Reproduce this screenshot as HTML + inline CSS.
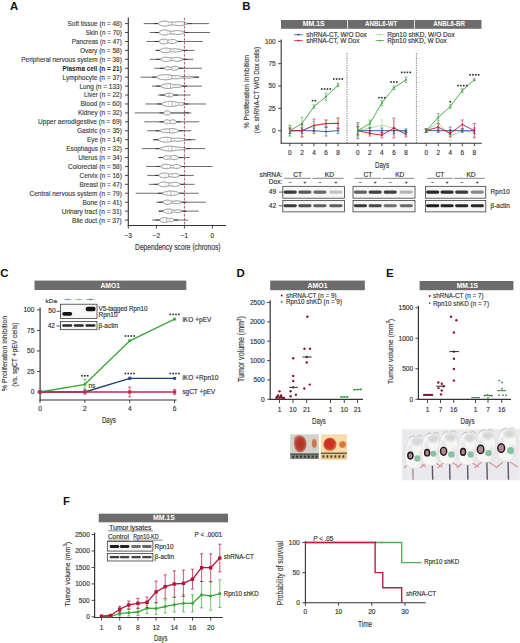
<!DOCTYPE html>
<html><head><meta charset="utf-8"><style>
html,body{margin:0;padding:0;background:#fff;width:520px;height:643px;overflow:hidden}
svg{display:block}
text{font-family:"Liberation Sans", sans-serif}
</style></head><body>
<svg width="520" height="643" viewBox="0 0 520 643">
<defs>
<filter id="blur03"><feGaussianBlur stdDeviation="0.3"/></filter>
<filter id="blur05"><feGaussianBlur stdDeviation="0.5"/></filter>
<filter id="blur06"><feGaussianBlur stdDeviation="0.6"/></filter>
<filter id="blur08"><feGaussianBlur stdDeviation="0.8"/></filter>
</defs>
<rect width="520" height="643" fill="#fff"/>
<text x="10.00" y="9.60" font-size="11.4" text-anchor="start" fill="#111" font-weight="bold">A</text>
<text x="121.80" y="26.05" font-size="6.9" text-anchor="end" fill="#444" font-weight="normal" textLength="54.30" lengthAdjust="spacingAndGlyphs" stroke="#444" stroke-width="0.16">Soft tissue (n = 48)</text>
<line x1="125.00" y1="23.60" x2="128.30" y2="23.60" stroke="#333" stroke-width="0.9"/>
<line x1="143.70" y1="23.60" x2="209.00" y2="23.60" stroke="#3a3a3a" stroke-width="0.75"/>
<line x1="154.00" y1="23.60" x2="158.00" y2="23.60" stroke="#3a3a3a" stroke-width="1.0"/>
<line x1="187.60" y1="23.60" x2="191.60" y2="23.60" stroke="#3a3a3a" stroke-width="1.0"/>
<path d="M158.00,23.60 L158.37,23.06 L158.74,22.93 L159.11,22.64 L159.48,22.41 L159.85,22.20 L160.22,22.02 L160.59,21.86 L160.96,21.71 L161.33,21.58 L161.70,21.47 L162.07,21.36 L162.44,21.28 L162.81,21.21 L163.18,21.15 L163.55,21.10 L163.92,21.06 L164.29,21.04 L164.66,21.03 L165.03,21.04 L165.40,21.05 L165.77,21.08 L166.14,21.12 L166.51,21.17 L166.88,21.24 L167.25,21.32 L167.62,21.41 L167.99,21.52 L168.36,21.65 L168.73,21.78 L169.10,21.92 L169.47,22.03 L169.84,22.11 L170.21,22.16 L170.58,22.17 L170.95,22.17 L171.32,22.17 L171.69,22.17 L172.06,22.17 L172.43,22.17 L172.80,22.17 L173.17,22.17 L173.54,22.17 L173.91,22.17 L174.28,22.14 L174.65,22.10 L175.02,22.05 L175.39,21.99 L175.76,21.92 L176.13,21.86 L176.50,21.81 L176.87,21.77 L177.24,21.73 L177.61,21.69 L177.98,21.67 L178.35,21.65 L178.72,21.64 L179.09,21.63 L179.46,21.63 L179.83,21.63 L180.20,21.65 L180.57,21.67 L180.94,21.69 L181.31,21.72 L181.68,21.76 L182.05,21.80 L182.42,21.86 L182.79,21.91 L183.16,21.98 L183.53,22.05 L183.90,22.13 L184.27,22.22 L184.64,22.32 L185.01,22.43 L185.38,22.54 L185.75,22.67 L186.12,22.81 L186.49,22.97 L186.86,23.16 L187.23,23.25 L187.60,23.60 L187.60,23.60 L187.23,23.95 L186.86,24.04 L186.49,24.23 L186.12,24.39 L185.75,24.53 L185.38,24.66 L185.01,24.77 L184.64,24.88 L184.27,24.98 L183.90,25.07 L183.53,25.15 L183.16,25.22 L182.79,25.29 L182.42,25.34 L182.05,25.40 L181.68,25.44 L181.31,25.48 L180.94,25.51 L180.57,25.53 L180.20,25.55 L179.83,25.57 L179.46,25.57 L179.09,25.57 L178.72,25.56 L178.35,25.55 L177.98,25.53 L177.61,25.51 L177.24,25.47 L176.87,25.43 L176.50,25.39 L176.13,25.34 L175.76,25.28 L175.39,25.21 L175.02,25.15 L174.65,25.10 L174.28,25.06 L173.91,25.03 L173.54,25.03 L173.17,25.03 L172.80,25.03 L172.43,25.03 L172.06,25.03 L171.69,25.03 L171.32,25.03 L170.95,25.03 L170.58,25.03 L170.21,25.04 L169.84,25.09 L169.47,25.17 L169.10,25.28 L168.73,25.42 L168.36,25.55 L167.99,25.68 L167.62,25.79 L167.25,25.88 L166.88,25.96 L166.51,26.03 L166.14,26.08 L165.77,26.12 L165.40,26.15 L165.03,26.16 L164.66,26.17 L164.29,26.16 L163.92,26.14 L163.55,26.10 L163.18,26.05 L162.81,25.99 L162.44,25.92 L162.07,25.84 L161.70,25.73 L161.33,25.62 L160.96,25.49 L160.59,25.34 L160.22,25.18 L159.85,25.00 L159.48,24.79 L159.11,24.56 L158.74,24.27 L158.37,24.14 L158.00,23.60 Z" fill="#fff" stroke="#4a4a4a" stroke-width="0.6"/>
<line x1="171.82" y1="22.47" x2="171.82" y2="24.73" stroke="#666" stroke-width="0.5"/>
<line x1="168.32" y1="22.43" x2="168.32" y2="24.77" stroke="#aaa" stroke-width="0.4"/>
<line x1="175.32" y1="22.63" x2="175.32" y2="24.57" stroke="#aaa" stroke-width="0.4"/>
<text x="121.80" y="34.98" font-size="6.9" text-anchor="end" fill="#444" font-weight="normal" textLength="36.05" lengthAdjust="spacingAndGlyphs" stroke="#444" stroke-width="0.16">Skin (n = 70)</text>
<line x1="125.00" y1="32.53" x2="128.30" y2="32.53" stroke="#333" stroke-width="0.9"/>
<line x1="149.60" y1="32.53" x2="210.00" y2="32.53" stroke="#3a3a3a" stroke-width="0.75"/>
<line x1="154.80" y1="32.53" x2="158.80" y2="32.53" stroke="#3a3a3a" stroke-width="1.0"/>
<line x1="184.70" y1="32.53" x2="188.70" y2="32.53" stroke="#3a3a3a" stroke-width="1.0"/>
<path d="M158.80,32.53 L159.12,31.99 L159.45,31.85 L159.77,31.57 L160.09,31.33 L160.42,31.12 L160.74,30.94 L161.07,30.78 L161.39,30.63 L161.71,30.50 L162.04,30.39 L162.36,30.29 L162.69,30.20 L163.01,30.13 L163.33,30.07 L163.66,30.02 L163.98,29.99 L164.30,29.97 L164.63,29.96 L164.95,29.97 L165.28,29.99 L165.60,30.02 L165.92,30.06 L166.25,30.12 L166.57,30.19 L166.89,30.27 L167.22,30.37 L167.54,30.48 L167.87,30.61 L168.19,30.76 L168.51,30.88 L168.84,30.98 L169.16,31.06 L169.48,31.10 L169.81,31.10 L170.13,31.10 L170.46,31.10 L170.78,31.10 L171.10,31.10 L171.43,31.10 L171.75,31.10 L172.07,31.10 L172.40,31.10 L172.72,31.09 L173.04,31.06 L173.37,31.02 L173.69,30.96 L174.02,30.89 L174.34,30.83 L174.66,30.77 L174.99,30.72 L175.31,30.68 L175.63,30.64 L175.96,30.62 L176.28,30.59 L176.61,30.57 L176.93,30.56 L177.25,30.56 L177.58,30.56 L177.90,30.57 L178.22,30.58 L178.55,30.60 L178.87,30.63 L179.20,30.66 L179.52,30.70 L179.84,30.74 L180.17,30.79 L180.49,30.85 L180.81,30.92 L181.14,30.99 L181.46,31.07 L181.79,31.16 L182.11,31.26 L182.43,31.36 L182.76,31.48 L183.08,31.61 L183.41,31.75 L183.73,31.90 L184.05,32.09 L184.38,32.18 L184.70,32.53 L184.70,32.53 L184.38,32.88 L184.05,32.97 L183.73,33.16 L183.41,33.31 L183.08,33.45 L182.76,33.58 L182.43,33.70 L182.11,33.80 L181.79,33.90 L181.46,33.99 L181.14,34.07 L180.81,34.14 L180.49,34.21 L180.17,34.27 L179.84,34.32 L179.52,34.36 L179.20,34.40 L178.87,34.43 L178.55,34.46 L178.22,34.48 L177.90,34.49 L177.58,34.50 L177.25,34.50 L176.93,34.50 L176.61,34.49 L176.28,34.47 L175.96,34.44 L175.63,34.42 L175.31,34.38 L174.99,34.34 L174.66,34.29 L174.34,34.23 L174.02,34.17 L173.69,34.10 L173.37,34.04 L173.04,34.00 L172.72,33.97 L172.40,33.96 L172.07,33.96 L171.75,33.96 L171.43,33.96 L171.10,33.96 L170.78,33.96 L170.46,33.96 L170.13,33.96 L169.81,33.96 L169.48,33.96 L169.16,34.00 L168.84,34.08 L168.51,34.18 L168.19,34.30 L167.87,34.45 L167.54,34.58 L167.22,34.69 L166.89,34.79 L166.57,34.87 L166.25,34.94 L165.92,35.00 L165.60,35.04 L165.28,35.07 L164.95,35.09 L164.63,35.10 L164.30,35.09 L163.98,35.07 L163.66,35.04 L163.33,34.99 L163.01,34.93 L162.69,34.86 L162.36,34.77 L162.04,34.67 L161.71,34.56 L161.39,34.43 L161.07,34.28 L160.74,34.12 L160.42,33.94 L160.09,33.73 L159.77,33.49 L159.45,33.21 L159.12,33.07 L158.80,32.53 Z" fill="#fff" stroke="#4a4a4a" stroke-width="0.6"/>
<line x1="170.88" y1="31.40" x2="170.88" y2="33.66" stroke="#666" stroke-width="0.5"/>
<line x1="167.38" y1="31.30" x2="167.38" y2="33.76" stroke="#aaa" stroke-width="0.4"/>
<line x1="174.38" y1="31.51" x2="174.38" y2="33.55" stroke="#aaa" stroke-width="0.4"/>
<text x="121.80" y="43.91" font-size="6.9" text-anchor="end" fill="#444" font-weight="normal" textLength="50.05" lengthAdjust="spacingAndGlyphs" stroke="#444" stroke-width="0.16">Pancreas (n = 47)</text>
<line x1="125.00" y1="41.46" x2="128.30" y2="41.46" stroke="#333" stroke-width="0.9"/>
<line x1="146.50" y1="41.46" x2="202.80" y2="41.46" stroke="#3a3a3a" stroke-width="0.75"/>
<line x1="154.80" y1="41.46" x2="158.80" y2="41.46" stroke="#3a3a3a" stroke-width="1.0"/>
<line x1="177.50" y1="41.46" x2="181.50" y2="41.46" stroke="#3a3a3a" stroke-width="1.0"/>
<path d="M158.80,41.46 L159.03,41.00 L159.27,40.89 L159.50,40.65 L159.74,40.44 L159.97,40.26 L160.20,40.10 L160.44,39.96 L160.67,39.82 L160.90,39.70 L161.14,39.60 L161.37,39.50 L161.61,39.41 L161.84,39.33 L162.07,39.27 L162.31,39.21 L162.54,39.16 L162.77,39.12 L163.01,39.09 L163.24,39.07 L163.48,39.06 L163.71,39.06 L163.94,39.07 L164.18,39.08 L164.41,39.11 L164.64,39.14 L164.88,39.19 L165.11,39.24 L165.34,39.30 L165.58,39.37 L165.81,39.45 L166.05,39.55 L166.28,39.65 L166.51,39.75 L166.75,39.84 L166.98,39.91 L167.22,39.95 L167.45,39.97 L167.68,39.97 L167.92,39.97 L168.15,39.97 L168.38,39.97 L168.62,39.97 L168.85,39.97 L169.09,39.97 L169.32,39.96 L169.55,39.93 L169.79,39.88 L170.02,39.82 L170.25,39.74 L170.49,39.68 L170.72,39.62 L170.96,39.56 L171.19,39.52 L171.42,39.48 L171.66,39.45 L171.89,39.43 L172.12,39.41 L172.36,39.40 L172.59,39.40 L172.82,39.41 L173.06,39.42 L173.29,39.44 L173.53,39.47 L173.76,39.51 L173.99,39.55 L174.23,39.60 L174.46,39.66 L174.69,39.73 L174.93,39.80 L175.16,39.89 L175.40,39.98 L175.63,40.08 L175.86,40.20 L176.10,40.32 L176.33,40.46 L176.56,40.61 L176.80,40.78 L177.03,40.98 L177.27,41.08 L177.50,41.46 L177.50,41.46 L177.27,41.84 L177.03,41.94 L176.80,42.14 L176.56,42.31 L176.33,42.46 L176.10,42.60 L175.86,42.72 L175.63,42.84 L175.40,42.94 L175.16,43.03 L174.93,43.12 L174.69,43.19 L174.46,43.26 L174.23,43.32 L173.99,43.37 L173.76,43.41 L173.53,43.45 L173.29,43.48 L173.06,43.50 L172.82,43.51 L172.59,43.52 L172.36,43.52 L172.12,43.51 L171.89,43.49 L171.66,43.47 L171.42,43.44 L171.19,43.40 L170.96,43.36 L170.72,43.30 L170.49,43.24 L170.25,43.18 L170.02,43.10 L169.79,43.04 L169.55,42.99 L169.32,42.96 L169.09,42.95 L168.85,42.95 L168.62,42.95 L168.38,42.95 L168.15,42.95 L167.92,42.95 L167.68,42.95 L167.45,42.95 L167.22,42.97 L166.98,43.01 L166.75,43.08 L166.51,43.17 L166.28,43.27 L166.05,43.37 L165.81,43.47 L165.58,43.55 L165.34,43.62 L165.11,43.68 L164.88,43.73 L164.64,43.78 L164.41,43.81 L164.18,43.84 L163.94,43.85 L163.71,43.86 L163.48,43.86 L163.24,43.85 L163.01,43.83 L162.77,43.80 L162.54,43.76 L162.31,43.71 L162.07,43.65 L161.84,43.59 L161.61,43.51 L161.37,43.42 L161.14,43.32 L160.90,43.22 L160.67,43.10 L160.44,42.96 L160.20,42.82 L159.97,42.66 L159.74,42.48 L159.50,42.27 L159.27,42.03 L159.03,41.92 L158.80,41.46 Z" fill="#fff" stroke="#4a4a4a" stroke-width="0.6"/>
<line x1="167.81" y1="40.27" x2="167.81" y2="42.65" stroke="#666" stroke-width="0.5"/>
<line x1="164.31" y1="40.05" x2="164.31" y2="42.87" stroke="#aaa" stroke-width="0.4"/>
<line x1="171.31" y1="40.27" x2="171.31" y2="42.65" stroke="#aaa" stroke-width="0.4"/>
<text x="121.80" y="52.84" font-size="6.9" text-anchor="end" fill="#444" font-weight="normal" textLength="41.80" lengthAdjust="spacingAndGlyphs" stroke="#444" stroke-width="0.16">Ovary (n = 58)</text>
<line x1="125.00" y1="50.39" x2="128.30" y2="50.39" stroke="#333" stroke-width="0.9"/>
<line x1="156.60" y1="50.39" x2="194.50" y2="50.39" stroke="#3a3a3a" stroke-width="0.75"/>
<line x1="155.50" y1="50.39" x2="159.50" y2="50.39" stroke="#3a3a3a" stroke-width="1.0"/>
<line x1="183.30" y1="50.39" x2="187.30" y2="50.39" stroke="#3a3a3a" stroke-width="1.0"/>
<path d="M159.50,50.39 L159.80,49.95 L160.09,49.84 L160.39,49.61 L160.69,49.42 L160.99,49.25 L161.28,49.09 L161.58,48.95 L161.88,48.82 L162.18,48.71 L162.47,48.60 L162.77,48.51 L163.07,48.43 L163.37,48.35 L163.66,48.29 L163.96,48.23 L164.26,48.18 L164.56,48.14 L164.85,48.11 L165.15,48.09 L165.45,48.08 L165.75,48.08 L166.05,48.08 L166.34,48.09 L166.64,48.11 L166.94,48.14 L167.24,48.18 L167.53,48.23 L167.83,48.29 L168.13,48.35 L168.43,48.42 L168.72,48.51 L169.02,48.60 L169.32,48.71 L169.62,48.82 L169.91,48.93 L170.21,49.01 L170.51,49.06 L170.81,49.07 L171.10,49.06 L171.40,49.02 L171.70,48.99 L172.00,48.96 L172.29,48.94 L172.59,48.92 L172.89,48.90 L173.19,48.88 L173.48,48.87 L173.78,48.86 L174.08,48.85 L174.38,48.85 L174.67,48.84 L174.97,48.85 L175.27,48.85 L175.56,48.86 L175.86,48.87 L176.16,48.88 L176.46,48.90 L176.75,48.92 L177.05,48.94 L177.35,48.97 L177.65,49.00 L177.95,49.03 L178.24,49.06 L178.54,49.10 L178.84,49.14 L179.14,49.19 L179.43,49.24 L179.73,49.29 L180.03,49.35 L180.33,49.41 L180.62,49.47 L180.92,49.54 L181.22,49.62 L181.52,49.70 L181.81,49.78 L182.11,49.88 L182.41,49.98 L182.71,50.10 L183.00,50.16 L183.30,50.39 L183.30,50.39 L183.00,50.62 L182.71,50.68 L182.41,50.80 L182.11,50.90 L181.81,51.00 L181.52,51.08 L181.22,51.16 L180.92,51.24 L180.62,51.31 L180.33,51.37 L180.03,51.43 L179.73,51.49 L179.43,51.54 L179.14,51.59 L178.84,51.64 L178.54,51.68 L178.24,51.72 L177.95,51.75 L177.65,51.78 L177.35,51.81 L177.05,51.84 L176.75,51.86 L176.46,51.88 L176.16,51.90 L175.86,51.91 L175.56,51.92 L175.27,51.93 L174.97,51.93 L174.67,51.94 L174.38,51.93 L174.08,51.93 L173.78,51.92 L173.48,51.91 L173.19,51.90 L172.89,51.88 L172.59,51.86 L172.29,51.84 L172.00,51.82 L171.70,51.79 L171.40,51.76 L171.10,51.72 L170.81,51.71 L170.51,51.72 L170.21,51.77 L169.91,51.85 L169.62,51.96 L169.32,52.07 L169.02,52.18 L168.72,52.27 L168.43,52.36 L168.13,52.43 L167.83,52.49 L167.53,52.55 L167.24,52.60 L166.94,52.64 L166.64,52.67 L166.34,52.69 L166.05,52.70 L165.75,52.70 L165.45,52.70 L165.15,52.69 L164.85,52.67 L164.56,52.64 L164.26,52.60 L163.96,52.55 L163.66,52.49 L163.37,52.43 L163.07,52.35 L162.77,52.27 L162.47,52.18 L162.18,52.07 L161.88,51.96 L161.58,51.83 L161.28,51.69 L160.99,51.53 L160.69,51.36 L160.39,51.17 L160.09,50.94 L159.80,50.83 L159.50,50.39 Z" fill="#fff" stroke="#4a4a4a" stroke-width="0.6"/>
<line x1="170.12" y1="49.31" x2="170.12" y2="51.47" stroke="#666" stroke-width="0.5"/>
<line x1="166.62" y1="49.02" x2="166.62" y2="51.76" stroke="#aaa" stroke-width="0.4"/>
<line x1="173.62" y1="49.48" x2="173.62" y2="51.30" stroke="#aaa" stroke-width="0.4"/>
<text x="121.80" y="61.77" font-size="6.9" text-anchor="end" fill="#444" font-weight="normal" textLength="100.55" lengthAdjust="spacingAndGlyphs" stroke="#444" stroke-width="0.16">Peripheral nervous system (n = 38)</text>
<line x1="125.00" y1="59.32" x2="128.30" y2="59.32" stroke="#333" stroke-width="0.9"/>
<line x1="150.00" y1="59.32" x2="193.40" y2="59.32" stroke="#3a3a3a" stroke-width="0.75"/>
<line x1="156.20" y1="59.32" x2="160.20" y2="59.32" stroke="#3a3a3a" stroke-width="1.0"/>
<line x1="183.30" y1="59.32" x2="187.30" y2="59.32" stroke="#3a3a3a" stroke-width="1.0"/>
<path d="M160.20,59.32 L160.49,58.89 L160.78,58.79 L161.07,58.56 L161.35,58.37 L161.64,58.21 L161.93,58.06 L162.22,57.93 L162.51,57.81 L162.80,57.70 L163.09,57.60 L163.38,57.52 L163.66,57.44 L163.95,57.38 L164.24,57.32 L164.53,57.27 L164.82,57.24 L165.11,57.21 L165.40,57.19 L165.69,57.18 L165.97,57.18 L166.26,57.19 L166.55,57.21 L166.84,57.23 L167.13,57.27 L167.42,57.31 L167.71,57.37 L168.00,57.43 L168.28,57.51 L168.57,57.59 L168.86,57.69 L169.15,57.76 L169.44,57.83 L169.73,57.87 L170.02,57.89 L170.31,57.89 L170.59,57.89 L170.88,57.89 L171.17,57.89 L171.46,57.89 L171.75,57.89 L172.04,57.89 L172.33,57.89 L172.62,57.89 L172.91,57.88 L173.19,57.84 L173.48,57.80 L173.77,57.74 L174.06,57.67 L174.35,57.60 L174.64,57.55 L174.93,57.50 L175.22,57.46 L175.50,57.42 L175.79,57.40 L176.08,57.37 L176.37,57.36 L176.66,57.35 L176.95,57.35 L177.24,57.35 L177.53,57.36 L177.81,57.38 L178.10,57.40 L178.39,57.44 L178.68,57.47 L178.97,57.52 L179.26,57.57 L179.55,57.62 L179.84,57.69 L180.12,57.76 L180.41,57.84 L180.70,57.93 L180.99,58.03 L181.28,58.14 L181.57,58.25 L181.86,58.38 L182.15,58.52 L182.43,58.68 L182.72,58.87 L183.01,58.96 L183.30,59.32 L183.30,59.32 L183.01,59.68 L182.72,59.77 L182.43,59.96 L182.15,60.12 L181.86,60.26 L181.57,60.39 L181.28,60.50 L180.99,60.61 L180.70,60.71 L180.41,60.80 L180.12,60.88 L179.84,60.95 L179.55,61.02 L179.26,61.07 L178.97,61.12 L178.68,61.17 L178.39,61.20 L178.10,61.24 L177.81,61.26 L177.53,61.28 L177.24,61.29 L176.95,61.29 L176.66,61.29 L176.37,61.28 L176.08,61.27 L175.79,61.24 L175.50,61.22 L175.22,61.18 L174.93,61.14 L174.64,61.09 L174.35,61.04 L174.06,60.97 L173.77,60.90 L173.48,60.84 L173.19,60.80 L172.91,60.76 L172.62,60.75 L172.33,60.75 L172.04,60.75 L171.75,60.75 L171.46,60.75 L171.17,60.75 L170.88,60.75 L170.59,60.75 L170.31,60.75 L170.02,60.75 L169.73,60.77 L169.44,60.81 L169.15,60.88 L168.86,60.95 L168.57,61.05 L168.28,61.13 L168.00,61.21 L167.71,61.27 L167.42,61.33 L167.13,61.37 L166.84,61.41 L166.55,61.43 L166.26,61.45 L165.97,61.46 L165.69,61.46 L165.40,61.45 L165.11,61.43 L164.82,61.40 L164.53,61.37 L164.24,61.32 L163.95,61.26 L163.66,61.20 L163.38,61.12 L163.09,61.04 L162.80,60.94 L162.51,60.83 L162.22,60.71 L161.93,60.58 L161.64,60.43 L161.35,60.27 L161.07,60.08 L160.78,59.85 L160.49,59.75 L160.20,59.32 Z" fill="#fff" stroke="#4a4a4a" stroke-width="0.6"/>
<line x1="171.48" y1="58.19" x2="171.48" y2="60.45" stroke="#666" stroke-width="0.5"/>
<line x1="167.98" y1="58.19" x2="167.98" y2="60.45" stroke="#aaa" stroke-width="0.4"/>
<line x1="174.98" y1="58.23" x2="174.98" y2="60.41" stroke="#aaa" stroke-width="0.4"/>
<text x="121.80" y="70.70" font-size="6.9" text-anchor="end" fill="#1a1a1a" font-weight="bold" textLength="59.30" lengthAdjust="spacingAndGlyphs">Plasma cell (n = 21)</text>
<line x1="125.00" y1="68.25" x2="128.30" y2="68.25" stroke="#333" stroke-width="0.9"/>
<line x1="154.40" y1="68.25" x2="202.00" y2="68.25" stroke="#3a3a3a" stroke-width="0.75"/>
<line x1="159.80" y1="68.25" x2="163.80" y2="68.25" stroke="#3a3a3a" stroke-width="1.0"/>
<line x1="179.00" y1="68.25" x2="183.00" y2="68.25" stroke="#3a3a3a" stroke-width="1.0"/>
<path d="M163.80,68.25 L163.99,67.95 L164.18,67.88 L164.37,67.72 L164.56,67.59 L164.75,67.47 L164.94,67.36 L165.13,67.27 L165.32,67.18 L165.51,67.11 L165.70,67.04 L165.89,66.97 L166.08,66.92 L166.27,66.87 L166.46,66.83 L166.65,66.79 L166.84,66.76 L167.03,66.74 L167.22,66.72 L167.41,66.71 L167.60,66.71 L167.79,66.71 L167.98,66.72 L168.17,66.73 L168.36,66.75 L168.55,66.78 L168.74,66.81 L168.93,66.85 L169.12,66.89 L169.31,66.94 L169.50,67.00 L169.69,67.05 L169.88,67.09 L170.07,67.12 L170.26,67.13 L170.45,67.13 L170.64,67.13 L170.83,67.13 L171.02,67.13 L171.21,67.13 L171.40,67.12 L171.59,67.07 L171.78,67.01 L171.97,66.93 L172.16,66.84 L172.35,66.74 L172.54,66.65 L172.73,66.58 L172.92,66.51 L173.11,66.44 L173.30,66.39 L173.49,66.34 L173.68,66.30 L173.87,66.26 L174.06,66.24 L174.25,66.22 L174.44,66.20 L174.63,66.19 L174.82,66.19 L175.01,66.20 L175.20,66.21 L175.39,66.23 L175.58,66.26 L175.77,66.29 L175.96,66.33 L176.15,66.37 L176.34,66.43 L176.53,66.49 L176.72,66.56 L176.91,66.63 L177.10,66.72 L177.29,66.81 L177.48,66.91 L177.67,67.02 L177.86,67.14 L178.05,67.28 L178.24,67.42 L178.43,67.59 L178.62,67.79 L178.81,67.88 L179.00,68.25 L179.00,68.25 L178.81,68.62 L178.62,68.71 L178.43,68.91 L178.24,69.08 L178.05,69.22 L177.86,69.36 L177.67,69.48 L177.48,69.59 L177.29,69.69 L177.10,69.78 L176.91,69.87 L176.72,69.94 L176.53,70.01 L176.34,70.07 L176.15,70.13 L175.96,70.17 L175.77,70.21 L175.58,70.24 L175.39,70.27 L175.20,70.29 L175.01,70.30 L174.82,70.31 L174.63,70.31 L174.44,70.30 L174.25,70.28 L174.06,70.26 L173.87,70.24 L173.68,70.20 L173.49,70.16 L173.30,70.11 L173.11,70.06 L172.92,69.99 L172.73,69.92 L172.54,69.85 L172.35,69.76 L172.16,69.66 L171.97,69.57 L171.78,69.49 L171.59,69.43 L171.40,69.38 L171.21,69.37 L171.02,69.37 L170.83,69.37 L170.64,69.37 L170.45,69.37 L170.26,69.37 L170.07,69.38 L169.88,69.41 L169.69,69.45 L169.50,69.50 L169.31,69.56 L169.12,69.61 L168.93,69.65 L168.74,69.69 L168.55,69.72 L168.36,69.75 L168.17,69.77 L167.98,69.78 L167.79,69.79 L167.60,69.79 L167.41,69.79 L167.22,69.78 L167.03,69.76 L166.84,69.74 L166.65,69.71 L166.46,69.67 L166.27,69.63 L166.08,69.58 L165.89,69.53 L165.70,69.46 L165.51,69.39 L165.32,69.32 L165.13,69.23 L164.94,69.14 L164.75,69.03 L164.56,68.91 L164.37,68.78 L164.18,68.62 L163.99,68.55 L163.80,68.25 Z" fill="#fff" stroke="#4a4a4a" stroke-width="0.6"/>
<line x1="171.87" y1="67.31" x2="171.87" y2="69.19" stroke="#666" stroke-width="0.5"/>
<line x1="168.37" y1="67.35" x2="168.37" y2="69.15" stroke="#aaa" stroke-width="0.4"/>
<line x1="175.37" y1="67.04" x2="175.37" y2="69.46" stroke="#aaa" stroke-width="0.4"/>
<text x="121.80" y="79.63" font-size="6.9" text-anchor="end" fill="#444" font-weight="normal" textLength="59.30" lengthAdjust="spacingAndGlyphs" stroke="#444" stroke-width="0.16">Lymphocyte (n = 37)</text>
<line x1="125.00" y1="77.18" x2="128.30" y2="77.18" stroke="#333" stroke-width="0.9"/>
<line x1="140.70" y1="77.18" x2="199.20" y2="77.18" stroke="#3a3a3a" stroke-width="0.75"/>
<line x1="151.90" y1="77.18" x2="155.90" y2="77.18" stroke="#3a3a3a" stroke-width="1.0"/>
<line x1="194.80" y1="77.18" x2="198.80" y2="77.18" stroke="#3a3a3a" stroke-width="1.0"/>
<path d="M155.90,77.18 L156.39,76.67 L156.87,76.54 L157.36,76.27 L157.84,76.05 L158.33,75.85 L158.82,75.67 L159.30,75.51 L159.79,75.37 L160.28,75.24 L160.76,75.12 L161.25,75.02 L161.74,74.93 L162.22,74.85 L162.71,74.78 L163.19,74.73 L163.68,74.68 L164.17,74.65 L164.65,74.63 L165.14,74.61 L165.62,74.61 L166.11,74.62 L166.60,74.64 L167.08,74.67 L167.57,74.71 L168.06,74.77 L168.54,74.83 L169.03,74.91 L169.52,74.99 L170.00,75.09 L170.49,75.21 L170.97,75.33 L171.46,75.47 L171.95,75.58 L172.43,75.64 L172.92,75.68 L173.41,75.67 L173.89,75.63 L174.38,75.59 L174.86,75.57 L175.35,75.56 L175.84,75.56 L176.32,75.57 L176.81,75.59 L177.30,75.62 L177.78,75.66 L178.27,75.71 L178.75,75.78 L179.24,75.85 L179.73,75.94 L180.21,76.04 L180.70,76.16 L181.19,76.28 L181.67,76.37 L182.16,76.44 L182.64,76.48 L183.13,76.50 L183.62,76.50 L184.10,76.50 L184.59,76.48 L185.08,76.46 L185.56,76.42 L186.05,76.38 L186.53,76.33 L187.02,76.30 L187.51,76.27 L187.99,76.25 L188.48,76.24 L188.97,76.25 L189.45,76.26 L189.94,76.28 L190.42,76.31 L190.91,76.35 L191.40,76.40 L191.88,76.46 L192.37,76.54 L192.86,76.62 L193.34,76.73 L193.83,76.86 L194.31,76.92 L194.80,77.18 L194.80,77.18 L194.31,77.44 L193.83,77.50 L193.34,77.63 L192.86,77.74 L192.37,77.82 L191.88,77.90 L191.40,77.96 L190.91,78.01 L190.42,78.05 L189.94,78.08 L189.45,78.10 L188.97,78.11 L188.48,78.12 L187.99,78.11 L187.51,78.09 L187.02,78.06 L186.53,78.03 L186.05,77.98 L185.56,77.94 L185.08,77.90 L184.59,77.88 L184.10,77.86 L183.62,77.86 L183.13,77.86 L182.64,77.88 L182.16,77.92 L181.67,77.99 L181.19,78.08 L180.70,78.20 L180.21,78.32 L179.73,78.42 L179.24,78.51 L178.75,78.58 L178.27,78.65 L177.78,78.70 L177.30,78.74 L176.81,78.77 L176.32,78.79 L175.84,78.80 L175.35,78.80 L174.86,78.79 L174.38,78.77 L173.89,78.73 L173.41,78.69 L172.92,78.68 L172.43,78.72 L171.95,78.78 L171.46,78.89 L170.97,79.03 L170.49,79.15 L170.00,79.27 L169.52,79.37 L169.03,79.45 L168.54,79.53 L168.06,79.59 L167.57,79.65 L167.08,79.69 L166.60,79.72 L166.11,79.74 L165.62,79.75 L165.14,79.75 L164.65,79.73 L164.17,79.71 L163.68,79.68 L163.19,79.63 L162.71,79.58 L162.22,79.51 L161.74,79.43 L161.25,79.34 L160.76,79.24 L160.28,79.12 L159.79,78.99 L159.30,78.85 L158.82,78.69 L158.33,78.51 L157.84,78.31 L157.36,78.09 L156.87,77.82 L156.39,77.69 L155.90,77.18 Z" fill="#fff" stroke="#4a4a4a" stroke-width="0.6"/>
<line x1="171.68" y1="75.77" x2="171.68" y2="78.59" stroke="#666" stroke-width="0.5"/>
<line x1="168.18" y1="75.73" x2="168.18" y2="78.63" stroke="#aaa" stroke-width="0.4"/>
<line x1="175.18" y1="76.21" x2="175.18" y2="78.15" stroke="#aaa" stroke-width="0.4"/>
<text x="121.80" y="88.56" font-size="6.9" text-anchor="end" fill="#444" font-weight="normal" textLength="42.30" lengthAdjust="spacingAndGlyphs" stroke="#444" stroke-width="0.16">Lung (n = 133)</text>
<line x1="125.00" y1="86.11" x2="128.30" y2="86.11" stroke="#333" stroke-width="0.9"/>
<line x1="152.00" y1="86.11" x2="201.90" y2="86.11" stroke="#3a3a3a" stroke-width="0.75"/>
<line x1="156.20" y1="86.11" x2="160.20" y2="86.11" stroke="#3a3a3a" stroke-width="1.0"/>
<line x1="183.00" y1="86.11" x2="187.00" y2="86.11" stroke="#3a3a3a" stroke-width="1.0"/>
<path d="M160.20,86.11 L160.48,85.74 L160.77,85.65 L161.05,85.45 L161.34,85.28 L161.62,85.13 L161.91,85.00 L162.19,84.87 L162.48,84.75 L162.76,84.64 L163.05,84.54 L163.33,84.44 L163.62,84.35 L163.91,84.27 L164.19,84.19 L164.47,84.12 L164.76,84.06 L165.04,84.00 L165.33,83.95 L165.61,83.90 L165.90,83.86 L166.19,83.82 L166.47,83.79 L166.75,83.76 L167.04,83.74 L167.32,83.73 L167.61,83.71 L167.89,83.71 L168.18,83.71 L168.47,83.71 L168.75,83.72 L169.03,83.73 L169.32,83.75 L169.60,83.78 L169.89,83.81 L170.17,83.84 L170.46,83.88 L170.75,83.93 L171.03,83.98 L171.31,84.03 L171.60,84.09 L171.88,84.16 L172.17,84.23 L172.45,84.31 L172.74,84.40 L173.03,84.49 L173.31,84.59 L173.59,84.69 L173.88,84.76 L174.16,84.81 L174.45,84.83 L174.73,84.82 L175.02,84.80 L175.31,84.78 L175.59,84.76 L175.88,84.75 L176.16,84.74 L176.44,84.74 L176.73,84.74 L177.01,84.75 L177.30,84.75 L177.59,84.77 L177.87,84.79 L178.16,84.81 L178.44,84.84 L178.72,84.87 L179.01,84.91 L179.29,84.95 L179.58,84.99 L179.87,85.04 L180.15,85.10 L180.44,85.16 L180.72,85.23 L181.00,85.30 L181.29,85.38 L181.57,85.47 L181.86,85.57 L182.15,85.68 L182.43,85.81 L182.72,85.87 L183.00,86.11 L183.00,86.11 L182.72,86.35 L182.43,86.41 L182.15,86.54 L181.86,86.65 L181.57,86.75 L181.29,86.84 L181.00,86.92 L180.72,86.99 L180.44,87.06 L180.15,87.12 L179.87,87.18 L179.58,87.23 L179.29,87.27 L179.01,87.31 L178.72,87.35 L178.44,87.38 L178.16,87.41 L177.87,87.43 L177.59,87.45 L177.30,87.47 L177.01,87.47 L176.73,87.48 L176.44,87.48 L176.16,87.48 L175.88,87.47 L175.59,87.46 L175.31,87.44 L175.02,87.42 L174.73,87.40 L174.45,87.39 L174.16,87.41 L173.88,87.46 L173.59,87.53 L173.31,87.63 L173.03,87.73 L172.74,87.82 L172.45,87.91 L172.17,87.99 L171.88,88.06 L171.60,88.13 L171.31,88.19 L171.03,88.24 L170.75,88.29 L170.46,88.34 L170.17,88.38 L169.89,88.41 L169.60,88.44 L169.32,88.47 L169.03,88.49 L168.75,88.50 L168.47,88.51 L168.18,88.51 L167.89,88.51 L167.61,88.51 L167.32,88.49 L167.04,88.48 L166.75,88.46 L166.47,88.43 L166.19,88.40 L165.90,88.36 L165.61,88.32 L165.33,88.27 L165.04,88.22 L164.76,88.16 L164.47,88.10 L164.19,88.03 L163.91,87.95 L163.62,87.87 L163.33,87.78 L163.05,87.68 L162.76,87.58 L162.48,87.47 L162.19,87.35 L161.91,87.22 L161.62,87.09 L161.34,86.94 L161.05,86.77 L160.77,86.57 L160.48,86.48 L160.20,86.11 Z" fill="#fff" stroke="#4a4a4a" stroke-width="0.6"/>
<line x1="170.48" y1="84.18" x2="170.48" y2="88.04" stroke="#666" stroke-width="0.5"/>
<line x1="166.98" y1="84.69" x2="166.98" y2="87.53" stroke="#aaa" stroke-width="0.4"/>
<line x1="173.98" y1="85.30" x2="173.98" y2="86.92" stroke="#aaa" stroke-width="0.4"/>
<text x="121.80" y="97.49" font-size="6.9" text-anchor="end" fill="#444" font-weight="normal" textLength="37.80" lengthAdjust="spacingAndGlyphs" stroke="#444" stroke-width="0.16">Liver (n = 22)</text>
<line x1="125.00" y1="95.04" x2="128.30" y2="95.04" stroke="#333" stroke-width="0.9"/>
<line x1="157.80" y1="95.04" x2="190.50" y2="95.04" stroke="#3a3a3a" stroke-width="0.75"/>
<line x1="160.30" y1="95.04" x2="164.30" y2="95.04" stroke="#3a3a3a" stroke-width="1.0"/>
<line x1="174.10" y1="95.04" x2="178.10" y2="95.04" stroke="#3a3a3a" stroke-width="1.0"/>
<path d="M164.30,95.04 L164.42,94.82 L164.55,94.77 L164.67,94.65 L164.79,94.55 L164.91,94.45 L165.03,94.37 L165.16,94.29 L165.28,94.21 L165.40,94.14 L165.53,94.07 L165.65,94.00 L165.77,93.94 L165.89,93.88 L166.02,93.82 L166.14,93.77 L166.26,93.72 L166.38,93.67 L166.50,93.62 L166.63,93.58 L166.75,93.54 L166.87,93.50 L167.00,93.46 L167.12,93.43 L167.24,93.40 L167.36,93.37 L167.49,93.34 L167.61,93.31 L167.73,93.29 L167.85,93.27 L167.97,93.25 L168.10,93.23 L168.22,93.21 L168.34,93.20 L168.47,93.18 L168.59,93.17 L168.71,93.17 L168.83,93.16 L168.96,93.15 L169.08,93.15 L169.20,93.15 L169.32,93.15 L169.44,93.15 L169.57,93.16 L169.69,93.17 L169.81,93.17 L169.94,93.18 L170.06,93.20 L170.18,93.21 L170.30,93.23 L170.43,93.25 L170.55,93.27 L170.67,93.29 L170.79,93.31 L170.91,93.34 L171.04,93.37 L171.16,93.40 L171.28,93.43 L171.41,93.46 L171.53,93.50 L171.65,93.54 L171.77,93.58 L171.90,93.62 L172.02,93.67 L172.14,93.72 L172.26,93.77 L172.38,93.82 L172.51,93.88 L172.63,93.94 L172.75,94.00 L172.88,94.07 L173.00,94.14 L173.12,94.21 L173.24,94.29 L173.37,94.37 L173.49,94.45 L173.61,94.55 L173.73,94.65 L173.85,94.77 L173.98,94.82 L174.10,95.04 L174.10,95.04 L173.98,95.26 L173.85,95.31 L173.73,95.43 L173.61,95.53 L173.49,95.63 L173.37,95.71 L173.24,95.79 L173.12,95.87 L173.00,95.94 L172.88,96.01 L172.75,96.08 L172.63,96.14 L172.51,96.20 L172.38,96.26 L172.26,96.31 L172.14,96.36 L172.02,96.41 L171.90,96.46 L171.77,96.50 L171.65,96.54 L171.53,96.58 L171.41,96.62 L171.28,96.65 L171.16,96.68 L171.04,96.71 L170.91,96.74 L170.79,96.77 L170.67,96.79 L170.55,96.81 L170.43,96.83 L170.30,96.85 L170.18,96.87 L170.06,96.88 L169.94,96.90 L169.81,96.91 L169.69,96.91 L169.57,96.92 L169.44,96.93 L169.32,96.93 L169.20,96.93 L169.08,96.93 L168.96,96.93 L168.83,96.92 L168.71,96.91 L168.59,96.91 L168.47,96.90 L168.34,96.88 L168.22,96.87 L168.10,96.85 L167.97,96.83 L167.85,96.81 L167.73,96.79 L167.61,96.77 L167.49,96.74 L167.36,96.71 L167.24,96.68 L167.12,96.65 L167.00,96.62 L166.87,96.58 L166.75,96.54 L166.63,96.50 L166.50,96.46 L166.38,96.41 L166.26,96.36 L166.14,96.31 L166.02,96.26 L165.89,96.20 L165.77,96.14 L165.65,96.08 L165.53,96.01 L165.40,95.94 L165.28,95.87 L165.16,95.79 L165.03,95.71 L164.91,95.63 L164.79,95.53 L164.67,95.43 L164.55,95.31 L164.42,95.26 L164.30,95.04 Z" fill="#fff" stroke="#4a4a4a" stroke-width="0.6"/>
<line x1="169.20" y1="93.45" x2="169.20" y2="96.63" stroke="#666" stroke-width="0.5"/>
<line x1="165.70" y1="94.42" x2="165.70" y2="95.66" stroke="#aaa" stroke-width="0.4"/>
<line x1="172.70" y1="94.42" x2="172.70" y2="95.66" stroke="#aaa" stroke-width="0.4"/>
<text x="121.80" y="106.42" font-size="6.9" text-anchor="end" fill="#444" font-weight="normal" textLength="41.30" lengthAdjust="spacingAndGlyphs" stroke="#444" stroke-width="0.16">Blood (n = 60)</text>
<line x1="125.00" y1="103.97" x2="128.30" y2="103.97" stroke="#333" stroke-width="0.9"/>
<line x1="145.50" y1="103.97" x2="206.00" y2="103.97" stroke="#3a3a3a" stroke-width="0.75"/>
<line x1="157.00" y1="103.97" x2="161.00" y2="103.97" stroke="#3a3a3a" stroke-width="1.0"/>
<line x1="184.70" y1="103.97" x2="188.70" y2="103.97" stroke="#3a3a3a" stroke-width="1.0"/>
<path d="M161.00,103.97 L161.30,103.62 L161.59,103.53 L161.89,103.34 L162.19,103.18 L162.48,103.03 L162.78,102.89 L163.07,102.77 L163.37,102.65 L163.67,102.54 L163.96,102.43 L164.26,102.33 L164.56,102.24 L164.85,102.16 L165.15,102.07 L165.44,102.00 L165.74,101.93 L166.04,101.86 L166.33,101.80 L166.63,101.74 L166.93,101.69 L167.22,101.64 L167.52,101.60 L167.81,101.56 L168.11,101.53 L168.41,101.49 L168.70,101.47 L169.00,101.45 L169.29,101.43 L169.59,101.41 L169.89,101.40 L170.18,101.40 L170.48,101.39 L170.78,101.40 L171.07,101.40 L171.37,101.41 L171.66,101.43 L171.96,101.44 L172.26,101.46 L172.55,101.49 L172.85,101.52 L173.15,101.56 L173.44,101.59 L173.74,101.64 L174.03,101.68 L174.33,101.74 L174.63,101.79 L174.92,101.85 L175.22,101.92 L175.52,101.99 L175.81,102.06 L176.11,102.14 L176.41,102.23 L176.70,102.32 L177.00,102.42 L177.29,102.52 L177.59,102.63 L177.89,102.75 L178.18,102.83 L178.48,102.87 L178.77,102.87 L179.07,102.84 L179.37,102.77 L179.66,102.71 L179.96,102.67 L180.26,102.63 L180.55,102.61 L180.85,102.61 L181.14,102.61 L181.44,102.63 L181.74,102.67 L182.03,102.71 L182.33,102.77 L182.63,102.85 L182.92,102.94 L183.22,103.05 L183.51,103.17 L183.81,103.32 L184.11,103.51 L184.40,103.60 L184.70,103.97 L184.70,103.97 L184.40,104.34 L184.11,104.43 L183.81,104.62 L183.51,104.77 L183.22,104.89 L182.92,105.00 L182.63,105.09 L182.33,105.17 L182.03,105.23 L181.74,105.27 L181.44,105.31 L181.14,105.33 L180.85,105.33 L180.55,105.33 L180.26,105.31 L179.96,105.27 L179.66,105.23 L179.37,105.17 L179.07,105.10 L178.77,105.07 L178.48,105.07 L178.18,105.11 L177.89,105.19 L177.59,105.31 L177.29,105.42 L177.00,105.52 L176.70,105.62 L176.41,105.71 L176.11,105.80 L175.81,105.88 L175.52,105.95 L175.22,106.02 L174.92,106.09 L174.63,106.15 L174.33,106.20 L174.03,106.26 L173.74,106.30 L173.44,106.35 L173.15,106.38 L172.85,106.42 L172.55,106.45 L172.26,106.48 L171.96,106.50 L171.66,106.51 L171.37,106.53 L171.07,106.54 L170.78,106.54 L170.48,106.55 L170.18,106.54 L169.89,106.54 L169.59,106.53 L169.29,106.51 L169.00,106.49 L168.70,106.47 L168.41,106.45 L168.11,106.41 L167.81,106.38 L167.52,106.34 L167.22,106.30 L166.93,106.25 L166.63,106.20 L166.33,106.14 L166.04,106.08 L165.74,106.01 L165.44,105.94 L165.15,105.87 L164.85,105.78 L164.56,105.70 L164.26,105.61 L163.96,105.51 L163.67,105.40 L163.37,105.29 L163.07,105.17 L162.78,105.05 L162.48,104.91 L162.19,104.76 L161.89,104.60 L161.59,104.41 L161.30,104.32 L161.00,103.97 Z" fill="#fff" stroke="#4a4a4a" stroke-width="0.6"/>
<line x1="172.08" y1="101.74" x2="172.08" y2="106.20" stroke="#666" stroke-width="0.5"/>
<line x1="168.58" y1="102.47" x2="168.58" y2="105.47" stroke="#aaa" stroke-width="0.4"/>
<line x1="175.58" y1="102.78" x2="175.58" y2="105.16" stroke="#aaa" stroke-width="0.4"/>
<text x="121.80" y="115.35" font-size="6.9" text-anchor="end" fill="#444" font-weight="normal" textLength="43.80" lengthAdjust="spacingAndGlyphs" stroke="#444" stroke-width="0.16">Kidney (n = 32)</text>
<line x1="125.00" y1="112.90" x2="128.30" y2="112.90" stroke="#333" stroke-width="0.9"/>
<line x1="134.90" y1="112.90" x2="191.30" y2="112.90" stroke="#3a3a3a" stroke-width="0.75"/>
<line x1="159.50" y1="112.90" x2="163.50" y2="112.90" stroke="#3a3a3a" stroke-width="1.0"/>
<line x1="185.00" y1="112.90" x2="189.00" y2="112.90" stroke="#3a3a3a" stroke-width="1.0"/>
<path d="M163.50,112.90 L163.77,112.34 L164.04,112.21 L164.31,111.92 L164.57,111.69 L164.84,111.50 L165.11,111.33 L165.38,111.19 L165.65,111.07 L165.92,110.97 L166.19,110.89 L166.46,110.83 L166.72,110.79 L166.99,110.77 L167.26,110.77 L167.53,110.79 L167.80,110.82 L168.07,110.88 L168.34,110.95 L168.61,111.05 L168.88,111.17 L169.14,111.30 L169.41,111.47 L169.68,111.66 L169.95,111.88 L170.22,112.10 L170.49,112.28 L170.76,112.41 L171.03,112.50 L171.29,112.53 L171.56,112.53 L171.83,112.53 L172.10,112.52 L172.37,112.52 L172.64,112.51 L172.91,112.50 L173.18,112.48 L173.44,112.47 L173.71,112.46 L173.98,112.44 L174.25,112.43 L174.52,112.43 L174.79,112.42 L175.06,112.41 L175.32,112.40 L175.59,112.40 L175.86,112.39 L176.13,112.39 L176.40,112.39 L176.67,112.39 L176.94,112.38 L177.21,112.39 L177.47,112.39 L177.74,112.39 L178.01,112.39 L178.28,112.40 L178.55,112.40 L178.82,112.41 L179.09,112.41 L179.36,112.42 L179.62,112.43 L179.89,112.44 L180.16,112.45 L180.43,112.46 L180.70,112.48 L180.97,112.49 L181.24,112.50 L181.51,112.52 L181.78,112.54 L182.04,112.56 L182.31,112.58 L182.58,112.60 L182.85,112.62 L183.12,112.65 L183.39,112.67 L183.66,112.70 L183.93,112.73 L184.19,112.77 L184.46,112.81 L184.73,112.83 L185.00,112.90 L185.00,112.90 L184.73,112.97 L184.46,112.99 L184.19,113.03 L183.93,113.07 L183.66,113.10 L183.39,113.13 L183.12,113.15 L182.85,113.18 L182.58,113.20 L182.31,113.22 L182.04,113.24 L181.78,113.26 L181.51,113.28 L181.24,113.30 L180.97,113.31 L180.70,113.32 L180.43,113.34 L180.16,113.35 L179.89,113.36 L179.62,113.37 L179.36,113.38 L179.09,113.39 L178.82,113.39 L178.55,113.40 L178.28,113.40 L178.01,113.41 L177.74,113.41 L177.47,113.41 L177.21,113.41 L176.94,113.42 L176.67,113.41 L176.40,113.41 L176.13,113.41 L175.86,113.41 L175.59,113.40 L175.32,113.40 L175.06,113.39 L174.79,113.38 L174.52,113.37 L174.25,113.37 L173.98,113.36 L173.71,113.34 L173.44,113.33 L173.18,113.32 L172.91,113.30 L172.64,113.29 L172.37,113.28 L172.10,113.28 L171.83,113.27 L171.56,113.27 L171.29,113.27 L171.03,113.30 L170.76,113.39 L170.49,113.52 L170.22,113.70 L169.95,113.92 L169.68,114.14 L169.41,114.33 L169.14,114.50 L168.88,114.63 L168.61,114.75 L168.34,114.85 L168.07,114.92 L167.80,114.98 L167.53,115.01 L167.26,115.03 L166.99,115.03 L166.72,115.01 L166.46,114.97 L166.19,114.91 L165.92,114.83 L165.65,114.73 L165.38,114.61 L165.11,114.47 L164.84,114.30 L164.57,114.11 L164.31,113.88 L164.04,113.59 L163.77,113.46 L163.50,112.90 Z" fill="#fff" stroke="#4a4a4a" stroke-width="0.6"/>
<line x1="170.58" y1="112.58" x2="170.58" y2="113.22" stroke="#666" stroke-width="0.5"/>
<line x1="167.08" y1="111.62" x2="167.08" y2="114.18" stroke="#aaa" stroke-width="0.4"/>
<text x="121.80" y="124.28" font-size="6.9" text-anchor="end" fill="#444" font-weight="normal" textLength="83.80" lengthAdjust="spacingAndGlyphs" stroke="#444" stroke-width="0.16">Upper aerodigestive (n = 69)</text>
<line x1="125.00" y1="121.83" x2="128.30" y2="121.83" stroke="#333" stroke-width="0.9"/>
<line x1="144.40" y1="121.83" x2="199.40" y2="121.83" stroke="#3a3a3a" stroke-width="0.75"/>
<line x1="159.50" y1="121.83" x2="163.50" y2="121.83" stroke="#3a3a3a" stroke-width="1.0"/>
<line x1="176.60" y1="121.83" x2="180.60" y2="121.83" stroke="#3a3a3a" stroke-width="1.0"/>
<path d="M163.50,121.83 L163.66,121.45 L163.83,121.35 L163.99,121.15 L164.16,120.98 L164.32,120.83 L164.48,120.69 L164.65,120.57 L164.81,120.45 L164.97,120.35 L165.14,120.26 L165.30,120.17 L165.47,120.10 L165.63,120.03 L165.79,119.97 L165.96,119.92 L166.12,119.88 L166.28,119.84 L166.45,119.81 L166.61,119.79 L166.78,119.78 L166.94,119.77 L167.10,119.77 L167.27,119.78 L167.43,119.80 L167.59,119.82 L167.76,119.85 L167.92,119.89 L168.09,119.93 L168.25,119.99 L168.41,120.05 L168.58,120.12 L168.74,120.19 L168.90,120.25 L169.07,120.30 L169.23,120.33 L169.40,120.34 L169.56,120.34 L169.72,120.34 L169.89,120.34 L170.05,120.34 L170.21,120.34 L170.38,120.34 L170.54,120.34 L170.70,120.34 L170.87,120.32 L171.03,120.28 L171.20,120.22 L171.36,120.16 L171.52,120.09 L171.69,120.02 L171.85,119.96 L172.01,119.92 L172.18,119.87 L172.34,119.84 L172.51,119.81 L172.67,119.79 L172.83,119.78 L173.00,119.77 L173.16,119.77 L173.32,119.78 L173.49,119.80 L173.65,119.82 L173.82,119.85 L173.98,119.89 L174.14,119.93 L174.31,119.98 L174.47,120.04 L174.63,120.11 L174.80,120.19 L174.96,120.27 L175.13,120.36 L175.29,120.46 L175.45,120.58 L175.62,120.70 L175.78,120.84 L175.94,120.99 L176.11,121.15 L176.27,121.36 L176.44,121.45 L176.60,121.83 L176.60,121.83 L176.44,122.21 L176.27,122.30 L176.11,122.51 L175.94,122.67 L175.78,122.82 L175.62,122.96 L175.45,123.08 L175.29,123.20 L175.13,123.30 L174.96,123.39 L174.80,123.47 L174.63,123.55 L174.47,123.62 L174.31,123.68 L174.14,123.73 L173.98,123.77 L173.82,123.81 L173.65,123.84 L173.49,123.86 L173.32,123.88 L173.16,123.89 L173.00,123.89 L172.83,123.88 L172.67,123.87 L172.51,123.85 L172.34,123.82 L172.18,123.79 L172.01,123.74 L171.85,123.70 L171.69,123.64 L171.52,123.57 L171.36,123.50 L171.20,123.44 L171.03,123.38 L170.87,123.34 L170.70,123.32 L170.54,123.32 L170.38,123.32 L170.21,123.32 L170.05,123.32 L169.89,123.32 L169.72,123.32 L169.56,123.32 L169.40,123.32 L169.23,123.33 L169.07,123.36 L168.90,123.41 L168.74,123.47 L168.58,123.54 L168.41,123.61 L168.25,123.67 L168.09,123.73 L167.92,123.77 L167.76,123.81 L167.59,123.84 L167.43,123.86 L167.27,123.88 L167.10,123.89 L166.94,123.89 L166.78,123.88 L166.61,123.87 L166.45,123.85 L166.28,123.82 L166.12,123.78 L165.96,123.74 L165.79,123.69 L165.63,123.63 L165.47,123.56 L165.30,123.49 L165.14,123.40 L164.97,123.31 L164.81,123.21 L164.65,123.09 L164.48,122.97 L164.32,122.83 L164.16,122.68 L163.99,122.51 L163.83,122.31 L163.66,122.21 L163.50,121.83 Z" fill="#fff" stroke="#4a4a4a" stroke-width="0.6"/>
<line x1="170.05" y1="120.64" x2="170.05" y2="123.02" stroke="#666" stroke-width="0.5"/>
<line x1="166.55" y1="120.61" x2="166.55" y2="123.05" stroke="#aaa" stroke-width="0.4"/>
<line x1="173.55" y1="120.61" x2="173.55" y2="123.05" stroke="#aaa" stroke-width="0.4"/>
<text x="121.80" y="133.21" font-size="6.9" text-anchor="end" fill="#444" font-weight="normal" textLength="44.80" lengthAdjust="spacingAndGlyphs" stroke="#444" stroke-width="0.16">Gastric (n = 35)</text>
<line x1="125.00" y1="130.76" x2="128.30" y2="130.76" stroke="#333" stroke-width="0.9"/>
<line x1="147.20" y1="130.76" x2="191.30" y2="130.76" stroke="#3a3a3a" stroke-width="0.75"/>
<line x1="155.40" y1="130.76" x2="159.40" y2="130.76" stroke="#3a3a3a" stroke-width="1.0"/>
<line x1="179.00" y1="130.76" x2="183.00" y2="130.76" stroke="#3a3a3a" stroke-width="1.0"/>
<path d="M159.40,130.76 L159.65,130.50 L159.89,130.43 L160.14,130.29 L160.38,130.17 L160.62,130.07 L160.87,129.97 L161.12,129.87 L161.36,129.79 L161.61,129.70 L161.85,129.63 L162.09,129.55 L162.34,129.49 L162.59,129.42 L162.83,129.36 L163.08,129.31 L163.32,129.26 L163.56,129.21 L163.81,129.16 L164.06,129.12 L164.30,129.08 L164.55,129.05 L164.79,129.02 L165.03,128.99 L165.28,128.96 L165.53,128.94 L165.77,128.92 L166.02,128.91 L166.26,128.89 L166.50,128.88 L166.75,128.88 L167.00,128.87 L167.24,128.87 L167.49,128.87 L167.73,128.88 L167.97,128.89 L168.22,128.90 L168.47,128.90 L168.71,128.88 L168.96,128.86 L169.20,128.82 L169.44,128.77 L169.69,128.73 L169.94,128.69 L170.18,128.65 L170.43,128.62 L170.67,128.59 L170.91,128.57 L171.16,128.55 L171.41,128.54 L171.65,128.53 L171.90,128.53 L172.14,128.53 L172.38,128.53 L172.63,128.54 L172.88,128.56 L173.12,128.57 L173.37,128.60 L173.61,128.62 L173.85,128.66 L174.10,128.69 L174.34,128.73 L174.59,128.78 L174.84,128.83 L175.08,128.88 L175.32,128.94 L175.57,129.01 L175.81,129.08 L176.06,129.16 L176.31,129.24 L176.55,129.33 L176.80,129.42 L177.04,129.52 L177.28,129.63 L177.53,129.75 L177.78,129.87 L178.02,130.01 L178.26,130.16 L178.51,130.34 L178.75,130.43 L179.00,130.76 L179.00,130.76 L178.75,131.09 L178.51,131.18 L178.26,131.36 L178.02,131.51 L177.78,131.65 L177.53,131.77 L177.28,131.89 L177.04,132.00 L176.80,132.10 L176.55,132.19 L176.31,132.28 L176.06,132.36 L175.81,132.44 L175.57,132.51 L175.32,132.58 L175.08,132.64 L174.84,132.69 L174.59,132.74 L174.34,132.79 L174.10,132.83 L173.85,132.86 L173.61,132.90 L173.37,132.92 L173.12,132.95 L172.88,132.96 L172.63,132.98 L172.38,132.99 L172.14,132.99 L171.90,132.99 L171.65,132.99 L171.41,132.98 L171.16,132.97 L170.91,132.95 L170.67,132.93 L170.43,132.90 L170.18,132.87 L169.94,132.83 L169.69,132.79 L169.44,132.75 L169.20,132.70 L168.96,132.66 L168.71,132.64 L168.47,132.62 L168.22,132.62 L167.97,132.63 L167.73,132.64 L167.49,132.65 L167.24,132.65 L167.00,132.65 L166.75,132.64 L166.50,132.64 L166.26,132.63 L166.02,132.61 L165.77,132.60 L165.53,132.58 L165.28,132.56 L165.03,132.53 L164.79,132.50 L164.55,132.47 L164.30,132.44 L164.06,132.40 L163.81,132.36 L163.56,132.31 L163.32,132.26 L163.08,132.21 L162.83,132.16 L162.59,132.10 L162.34,132.03 L162.09,131.97 L161.85,131.89 L161.61,131.82 L161.36,131.73 L161.12,131.65 L160.87,131.55 L160.62,131.45 L160.38,131.35 L160.14,131.23 L159.89,131.09 L159.65,131.02 L159.40,130.76 Z" fill="#fff" stroke="#4a4a4a" stroke-width="0.6"/>
<line x1="169.63" y1="129.03" x2="169.63" y2="132.49" stroke="#666" stroke-width="0.5"/>
<line x1="166.13" y1="129.65" x2="166.13" y2="131.87" stroke="#aaa" stroke-width="0.4"/>
<line x1="173.13" y1="129.45" x2="173.13" y2="132.07" stroke="#aaa" stroke-width="0.4"/>
<text x="121.80" y="142.14" font-size="6.9" text-anchor="end" fill="#444" font-weight="normal" textLength="34.80" lengthAdjust="spacingAndGlyphs" stroke="#444" stroke-width="0.16">Eye (n = 14)</text>
<line x1="125.00" y1="139.69" x2="128.30" y2="139.69" stroke="#333" stroke-width="0.9"/>
<line x1="152.90" y1="139.69" x2="195.40" y2="139.69" stroke="#3a3a3a" stroke-width="0.75"/>
<line x1="153.80" y1="139.69" x2="157.80" y2="139.69" stroke="#3a3a3a" stroke-width="1.0"/>
<line x1="187.20" y1="139.69" x2="191.20" y2="139.69" stroke="#3a3a3a" stroke-width="1.0"/>
<path d="M157.80,139.69 L158.17,139.27 L158.54,139.17 L158.90,138.94 L159.27,138.76 L159.64,138.59 L160.00,138.44 L160.37,138.30 L160.74,138.17 L161.11,138.05 L161.48,137.95 L161.84,137.85 L162.21,137.76 L162.58,137.68 L162.94,137.61 L163.31,137.54 L163.68,137.48 L164.05,137.43 L164.42,137.39 L164.78,137.36 L165.15,137.33 L165.52,137.31 L165.88,137.30 L166.25,137.29 L166.62,137.29 L166.99,137.30 L167.36,137.31 L167.72,137.33 L168.09,137.36 L168.46,137.40 L168.82,137.44 L169.19,137.49 L169.56,137.55 L169.93,137.62 L170.30,137.69 L170.66,137.78 L171.03,137.87 L171.40,137.97 L171.76,138.08 L172.13,138.19 L172.50,138.28 L172.87,138.34 L173.24,138.37 L173.60,138.36 L173.97,138.33 L174.34,138.29 L174.70,138.26 L175.07,138.23 L175.44,138.21 L175.81,138.19 L176.18,138.17 L176.54,138.16 L176.91,138.15 L177.28,138.15 L177.64,138.15 L178.01,138.15 L178.38,138.15 L178.75,138.16 L179.12,138.18 L179.48,138.19 L179.85,138.21 L180.22,138.24 L180.58,138.27 L180.95,138.30 L181.32,138.33 L181.69,138.38 L182.06,138.42 L182.42,138.47 L182.79,138.52 L183.16,138.58 L183.52,138.64 L183.89,138.71 L184.26,138.78 L184.63,138.86 L185.00,138.94 L185.36,139.04 L185.73,139.14 L186.10,139.25 L186.46,139.38 L186.83,139.44 L187.20,139.69 L187.20,139.69 L186.83,139.94 L186.46,140.00 L186.10,140.13 L185.73,140.24 L185.36,140.34 L185.00,140.44 L184.63,140.52 L184.26,140.60 L183.89,140.67 L183.52,140.74 L183.16,140.80 L182.79,140.86 L182.42,140.91 L182.06,140.96 L181.69,141.00 L181.32,141.05 L180.95,141.08 L180.58,141.11 L180.22,141.14 L179.85,141.17 L179.48,141.19 L179.12,141.20 L178.75,141.22 L178.38,141.23 L178.01,141.23 L177.64,141.23 L177.28,141.23 L176.91,141.23 L176.54,141.22 L176.18,141.21 L175.81,141.19 L175.44,141.17 L175.07,141.15 L174.70,141.12 L174.34,141.09 L173.97,141.05 L173.60,141.02 L173.24,141.01 L172.87,141.04 L172.50,141.10 L172.13,141.19 L171.76,141.30 L171.40,141.41 L171.03,141.51 L170.66,141.60 L170.30,141.69 L169.93,141.76 L169.56,141.83 L169.19,141.89 L168.82,141.94 L168.46,141.98 L168.09,142.02 L167.72,142.05 L167.36,142.07 L166.99,142.08 L166.62,142.09 L166.25,142.09 L165.88,142.08 L165.52,142.07 L165.15,142.05 L164.78,142.02 L164.42,141.99 L164.05,141.95 L163.68,141.90 L163.31,141.84 L162.94,141.77 L162.58,141.70 L162.21,141.62 L161.84,141.53 L161.48,141.43 L161.11,141.33 L160.74,141.21 L160.37,141.08 L160.00,140.94 L159.64,140.79 L159.27,140.62 L158.90,140.44 L158.54,140.21 L158.17,140.11 L157.80,139.69 Z" fill="#fff" stroke="#4a4a4a" stroke-width="0.6"/>
<line x1="171.00" y1="138.17" x2="171.00" y2="141.21" stroke="#666" stroke-width="0.5"/>
<line x1="167.50" y1="138.26" x2="167.50" y2="141.12" stroke="#aaa" stroke-width="0.4"/>
<line x1="174.50" y1="138.85" x2="174.50" y2="140.53" stroke="#aaa" stroke-width="0.4"/>
<text x="121.80" y="151.07" font-size="6.9" text-anchor="end" fill="#444" font-weight="normal" textLength="55.55" lengthAdjust="spacingAndGlyphs" stroke="#444" stroke-width="0.16">Esophagus (n = 32)</text>
<line x1="125.00" y1="148.62" x2="128.30" y2="148.62" stroke="#333" stroke-width="0.9"/>
<line x1="142.30" y1="148.62" x2="205.20" y2="148.62" stroke="#3a3a3a" stroke-width="0.75"/>
<line x1="155.40" y1="148.62" x2="159.40" y2="148.62" stroke="#3a3a3a" stroke-width="1.0"/>
<line x1="186.40" y1="148.62" x2="190.40" y2="148.62" stroke="#3a3a3a" stroke-width="1.0"/>
<path d="M159.40,148.62 L159.74,148.28 L160.08,148.19 L160.41,148.01 L160.75,147.85 L161.09,147.71 L161.43,147.58 L161.76,147.46 L162.10,147.34 L162.44,147.24 L162.78,147.14 L163.11,147.04 L163.45,146.96 L163.79,146.88 L164.12,146.80 L164.46,146.73 L164.80,146.66 L165.14,146.60 L165.47,146.55 L165.81,146.50 L166.15,146.45 L166.49,146.41 L166.83,146.37 L167.16,146.33 L167.50,146.30 L167.84,146.28 L168.18,146.26 L168.51,146.24 L168.85,146.23 L169.19,146.22 L169.53,146.22 L169.86,146.22 L170.20,146.22 L170.54,146.23 L170.88,146.24 L171.21,146.26 L171.55,146.28 L171.89,146.30 L172.22,146.33 L172.56,146.37 L172.90,146.40 L173.24,146.45 L173.58,146.49 L173.91,146.54 L174.25,146.60 L174.59,146.66 L174.93,146.73 L175.26,146.80 L175.60,146.87 L175.94,146.95 L176.28,147.04 L176.61,147.13 L176.95,147.20 L177.29,147.25 L177.62,147.28 L177.96,147.28 L178.30,147.27 L178.64,147.26 L178.97,147.25 L179.31,147.25 L179.65,147.25 L179.99,147.26 L180.33,147.28 L180.66,147.29 L181.00,147.32 L181.34,147.35 L181.68,147.38 L182.01,147.42 L182.35,147.46 L182.69,147.51 L183.03,147.57 L183.36,147.63 L183.70,147.70 L184.04,147.78 L184.38,147.86 L184.71,147.95 L185.05,148.05 L185.39,148.16 L185.72,148.30 L186.06,148.36 L186.40,148.62 L186.40,148.62 L186.06,148.88 L185.72,148.94 L185.39,149.08 L185.05,149.19 L184.71,149.29 L184.38,149.38 L184.04,149.46 L183.70,149.54 L183.36,149.61 L183.03,149.67 L182.69,149.73 L182.35,149.78 L182.01,149.82 L181.68,149.86 L181.34,149.89 L181.00,149.92 L180.66,149.95 L180.33,149.96 L179.99,149.98 L179.65,149.99 L179.31,149.99 L178.97,149.99 L178.64,149.98 L178.30,149.97 L177.96,149.96 L177.62,149.96 L177.29,149.99 L176.95,150.04 L176.61,150.11 L176.28,150.20 L175.94,150.29 L175.60,150.37 L175.26,150.44 L174.93,150.51 L174.59,150.58 L174.25,150.64 L173.91,150.70 L173.58,150.75 L173.24,150.79 L172.90,150.84 L172.56,150.87 L172.22,150.91 L171.89,150.94 L171.55,150.96 L171.21,150.98 L170.88,151.00 L170.54,151.01 L170.20,151.02 L169.86,151.02 L169.53,151.02 L169.19,151.02 L168.85,151.01 L168.51,151.00 L168.18,150.98 L167.84,150.96 L167.50,150.94 L167.16,150.91 L166.83,150.87 L166.49,150.83 L166.15,150.79 L165.81,150.74 L165.47,150.69 L165.14,150.64 L164.80,150.58 L164.46,150.51 L164.12,150.44 L163.79,150.36 L163.45,150.28 L163.11,150.20 L162.78,150.10 L162.44,150.00 L162.10,149.90 L161.76,149.78 L161.43,149.66 L161.09,149.53 L160.75,149.39 L160.41,149.23 L160.08,149.05 L159.74,148.96 L159.40,148.62 Z" fill="#fff" stroke="#4a4a4a" stroke-width="0.6"/>
<line x1="171.84" y1="146.60" x2="171.84" y2="150.64" stroke="#666" stroke-width="0.5"/>
<line x1="168.34" y1="147.20" x2="168.34" y2="150.04" stroke="#aaa" stroke-width="0.4"/>
<line x1="175.34" y1="147.53" x2="175.34" y2="149.71" stroke="#aaa" stroke-width="0.4"/>
<text x="121.80" y="160.00" font-size="6.9" text-anchor="end" fill="#444" font-weight="normal" textLength="43.55" lengthAdjust="spacingAndGlyphs" stroke="#444" stroke-width="0.16">Uterus (n = 34)</text>
<line x1="125.00" y1="157.55" x2="128.30" y2="157.55" stroke="#333" stroke-width="0.9"/>
<line x1="158.60" y1="157.55" x2="189.60" y2="157.55" stroke="#3a3a3a" stroke-width="0.75"/>
<line x1="158.70" y1="157.55" x2="162.70" y2="157.55" stroke="#3a3a3a" stroke-width="1.0"/>
<line x1="179.00" y1="157.55" x2="183.00" y2="157.55" stroke="#3a3a3a" stroke-width="1.0"/>
<path d="M162.70,157.55 L162.90,157.17 L163.11,157.07 L163.31,156.87 L163.51,156.71 L163.72,156.56 L163.92,156.43 L164.13,156.31 L164.33,156.20 L164.53,156.11 L164.74,156.02 L164.94,155.95 L165.14,155.88 L165.35,155.82 L165.55,155.78 L165.76,155.74 L165.96,155.71 L166.16,155.69 L166.37,155.67 L166.57,155.67 L166.77,155.67 L166.98,155.68 L167.18,155.70 L167.39,155.73 L167.59,155.76 L167.79,155.81 L168.00,155.86 L168.20,155.93 L168.41,156.00 L168.61,156.07 L168.81,156.12 L169.02,156.16 L169.22,156.18 L169.42,156.19 L169.63,156.19 L169.83,156.19 L170.03,156.19 L170.24,156.19 L170.44,156.19 L170.65,156.19 L170.85,156.18 L171.05,156.16 L171.26,156.12 L171.46,156.07 L171.66,156.00 L171.87,155.92 L172.07,155.85 L172.28,155.78 L172.48,155.73 L172.68,155.67 L172.89,155.63 L173.09,155.59 L173.29,155.56 L173.50,155.53 L173.70,155.51 L173.91,155.50 L174.11,155.49 L174.31,155.49 L174.52,155.50 L174.72,155.51 L174.93,155.53 L175.13,155.55 L175.33,155.58 L175.54,155.61 L175.74,155.66 L175.94,155.71 L176.15,155.76 L176.35,155.82 L176.56,155.89 L176.76,155.97 L176.96,156.05 L177.17,156.14 L177.37,156.25 L177.57,156.35 L177.78,156.47 L177.98,156.60 L178.19,156.75 L178.39,156.91 L178.59,157.10 L178.80,157.19 L179.00,157.55 L179.00,157.55 L178.80,157.91 L178.59,158.00 L178.39,158.19 L178.19,158.35 L177.98,158.50 L177.78,158.63 L177.57,158.75 L177.37,158.85 L177.17,158.96 L176.96,159.05 L176.76,159.13 L176.56,159.21 L176.35,159.28 L176.15,159.34 L175.94,159.39 L175.74,159.44 L175.54,159.49 L175.33,159.52 L175.13,159.55 L174.93,159.57 L174.72,159.59 L174.52,159.60 L174.31,159.61 L174.11,159.61 L173.91,159.60 L173.70,159.59 L173.50,159.57 L173.29,159.54 L173.09,159.51 L172.89,159.47 L172.68,159.43 L172.48,159.37 L172.28,159.32 L172.07,159.25 L171.87,159.18 L171.66,159.10 L171.46,159.03 L171.26,158.98 L171.05,158.94 L170.85,158.92 L170.65,158.91 L170.44,158.91 L170.24,158.91 L170.03,158.91 L169.83,158.91 L169.63,158.91 L169.42,158.91 L169.22,158.92 L169.02,158.94 L168.81,158.98 L168.61,159.03 L168.41,159.10 L168.20,159.17 L168.00,159.24 L167.79,159.29 L167.59,159.34 L167.39,159.37 L167.18,159.40 L166.98,159.42 L166.77,159.43 L166.57,159.43 L166.37,159.43 L166.16,159.41 L165.96,159.39 L165.76,159.36 L165.55,159.32 L165.35,159.28 L165.14,159.22 L164.94,159.15 L164.74,159.08 L164.53,158.99 L164.33,158.90 L164.13,158.79 L163.92,158.67 L163.72,158.54 L163.51,158.39 L163.31,158.23 L163.11,158.03 L162.90,157.93 L162.70,157.55 Z" fill="#fff" stroke="#4a4a4a" stroke-width="0.6"/>
<line x1="170.95" y1="156.48" x2="170.95" y2="158.62" stroke="#666" stroke-width="0.5"/>
<line x1="167.45" y1="156.46" x2="167.45" y2="158.64" stroke="#aaa" stroke-width="0.4"/>
<line x1="174.45" y1="156.32" x2="174.45" y2="158.78" stroke="#aaa" stroke-width="0.4"/>
<text x="121.80" y="168.93" font-size="6.9" text-anchor="end" fill="#444" font-weight="normal" textLength="53.80" lengthAdjust="spacingAndGlyphs" stroke="#444" stroke-width="0.16">Colorectal (n = 58)</text>
<line x1="125.00" y1="166.48" x2="128.30" y2="166.48" stroke="#333" stroke-width="0.9"/>
<line x1="146.30" y1="166.48" x2="212.50" y2="166.48" stroke="#3a3a3a" stroke-width="0.75"/>
<line x1="156.20" y1="166.48" x2="160.20" y2="166.48" stroke="#3a3a3a" stroke-width="1.0"/>
<line x1="181.50" y1="166.48" x2="185.50" y2="166.48" stroke="#3a3a3a" stroke-width="1.0"/>
<path d="M160.20,166.48 L160.47,166.08 L160.73,165.98 L161.00,165.77 L161.26,165.59 L161.53,165.43 L161.80,165.29 L162.06,165.16 L162.33,165.04 L162.60,164.93 L162.86,164.83 L163.13,164.74 L163.39,164.65 L163.66,164.58 L163.93,164.51 L164.19,164.45 L164.46,164.40 L164.73,164.36 L164.99,164.32 L165.26,164.30 L165.52,164.27 L165.79,164.26 L166.06,164.25 L166.32,164.25 L166.59,164.26 L166.86,164.27 L167.12,164.29 L167.39,164.32 L167.66,164.36 L167.92,164.40 L168.19,164.45 L168.45,164.51 L168.72,164.57 L168.99,164.65 L169.25,164.73 L169.52,164.82 L169.78,164.91 L170.05,164.99 L170.32,165.06 L170.58,165.10 L170.85,165.12 L171.12,165.12 L171.38,165.12 L171.65,165.12 L171.91,165.12 L172.18,165.12 L172.45,165.12 L172.71,165.12 L172.98,165.11 L173.25,165.08 L173.51,165.03 L173.78,164.98 L174.04,164.91 L174.31,164.84 L174.58,164.78 L174.84,164.73 L175.11,164.68 L175.38,164.65 L175.64,164.62 L175.91,164.61 L176.18,164.60 L176.44,164.60 L176.71,164.60 L176.97,164.62 L177.24,164.64 L177.51,164.67 L177.77,164.71 L178.04,164.76 L178.31,164.82 L178.57,164.88 L178.84,164.96 L179.10,165.04 L179.37,165.14 L179.64,165.25 L179.90,165.36 L180.17,165.50 L180.44,165.64 L180.70,165.81 L180.97,166.01 L181.23,166.10 L181.50,166.48 L181.50,166.48 L181.23,166.86 L180.97,166.95 L180.70,167.15 L180.44,167.32 L180.17,167.46 L179.90,167.60 L179.64,167.71 L179.37,167.82 L179.10,167.92 L178.84,168.00 L178.57,168.08 L178.31,168.14 L178.04,168.20 L177.77,168.25 L177.51,168.29 L177.24,168.32 L176.97,168.34 L176.71,168.36 L176.44,168.36 L176.18,168.36 L175.91,168.35 L175.64,168.34 L175.38,168.31 L175.11,168.28 L174.84,168.23 L174.58,168.18 L174.31,168.12 L174.04,168.05 L173.78,167.98 L173.51,167.93 L173.25,167.88 L172.98,167.85 L172.71,167.84 L172.45,167.84 L172.18,167.84 L171.91,167.84 L171.65,167.84 L171.38,167.84 L171.12,167.84 L170.85,167.84 L170.58,167.86 L170.32,167.90 L170.05,167.97 L169.78,168.05 L169.52,168.14 L169.25,168.23 L168.99,168.31 L168.72,168.39 L168.45,168.45 L168.19,168.51 L167.92,168.56 L167.66,168.60 L167.39,168.64 L167.12,168.67 L166.86,168.69 L166.59,168.70 L166.32,168.71 L166.06,168.71 L165.79,168.70 L165.52,168.69 L165.26,168.66 L164.99,168.64 L164.73,168.60 L164.46,168.56 L164.19,168.51 L163.93,168.45 L163.66,168.38 L163.39,168.31 L163.13,168.22 L162.86,168.13 L162.60,168.03 L162.33,167.92 L162.06,167.80 L161.80,167.67 L161.53,167.53 L161.26,167.37 L161.00,167.19 L160.73,166.98 L160.47,166.88 L160.20,166.48 Z" fill="#fff" stroke="#4a4a4a" stroke-width="0.6"/>
<line x1="170.51" y1="165.40" x2="170.51" y2="167.56" stroke="#666" stroke-width="0.5"/>
<line x1="167.01" y1="165.17" x2="167.01" y2="167.79" stroke="#aaa" stroke-width="0.4"/>
<line x1="174.01" y1="165.54" x2="174.01" y2="167.42" stroke="#aaa" stroke-width="0.4"/>
<text x="121.80" y="177.86" font-size="6.9" text-anchor="end" fill="#444" font-weight="normal" textLength="42.30" lengthAdjust="spacingAndGlyphs" stroke="#444" stroke-width="0.16">Cervix (n = 16)</text>
<line x1="125.00" y1="175.41" x2="128.30" y2="175.41" stroke="#333" stroke-width="0.9"/>
<line x1="147.20" y1="175.41" x2="193.70" y2="175.41" stroke="#3a3a3a" stroke-width="0.75"/>
<line x1="154.60" y1="175.41" x2="158.60" y2="175.41" stroke="#3a3a3a" stroke-width="1.0"/>
<line x1="179.80" y1="175.41" x2="183.80" y2="175.41" stroke="#3a3a3a" stroke-width="1.0"/>
<path d="M158.60,175.41 L158.86,174.98 L159.13,174.87 L159.39,174.64 L159.66,174.45 L159.92,174.28 L160.19,174.12 L160.45,173.98 L160.72,173.85 L160.98,173.73 L161.25,173.63 L161.51,173.53 L161.78,173.44 L162.04,173.36 L162.31,173.29 L162.57,173.22 L162.84,173.17 L163.10,173.12 L163.37,173.09 L163.63,173.06 L163.90,173.03 L164.16,173.02 L164.43,173.01 L164.69,173.01 L164.96,173.02 L165.22,173.03 L165.49,173.06 L165.75,173.09 L166.02,173.13 L166.28,173.18 L166.55,173.23 L166.81,173.29 L167.08,173.37 L167.34,173.45 L167.61,173.54 L167.88,173.63 L168.14,173.74 L168.41,173.85 L168.67,173.93 L168.94,173.99 L169.20,174.03 L169.47,174.05 L169.73,174.05 L170.00,174.05 L170.26,174.05 L170.53,174.05 L170.79,174.05 L171.06,174.05 L171.32,174.03 L171.59,174.00 L171.85,173.96 L172.12,173.90 L172.38,173.83 L172.65,173.76 L172.91,173.70 L173.18,173.65 L173.44,173.61 L173.71,173.58 L173.97,173.55 L174.24,173.54 L174.50,173.53 L174.77,173.53 L175.03,173.53 L175.30,173.55 L175.56,173.57 L175.83,173.61 L176.09,173.65 L176.36,173.69 L176.62,173.75 L176.89,173.82 L177.15,173.89 L177.42,173.98 L177.68,174.07 L177.95,174.18 L178.21,174.30 L178.48,174.43 L178.74,174.57 L179.00,174.74 L179.27,174.94 L179.54,175.03 L179.80,175.41 L179.80,175.41 L179.54,175.79 L179.27,175.88 L179.00,176.08 L178.74,176.25 L178.48,176.39 L178.21,176.52 L177.95,176.64 L177.68,176.75 L177.42,176.84 L177.15,176.93 L176.89,177.00 L176.62,177.07 L176.36,177.13 L176.09,177.17 L175.83,177.21 L175.56,177.25 L175.30,177.27 L175.03,177.29 L174.77,177.29 L174.50,177.29 L174.24,177.28 L173.97,177.27 L173.71,177.24 L173.44,177.21 L173.18,177.17 L172.91,177.12 L172.65,177.06 L172.38,176.99 L172.12,176.92 L171.85,176.86 L171.59,176.82 L171.32,176.79 L171.06,176.77 L170.79,176.77 L170.53,176.77 L170.26,176.77 L170.00,176.77 L169.73,176.77 L169.47,176.77 L169.20,176.79 L168.94,176.83 L168.67,176.89 L168.41,176.97 L168.14,177.08 L167.88,177.19 L167.61,177.28 L167.34,177.37 L167.08,177.45 L166.81,177.53 L166.55,177.59 L166.28,177.64 L166.02,177.69 L165.75,177.73 L165.49,177.76 L165.22,177.79 L164.96,177.80 L164.69,177.81 L164.43,177.81 L164.16,177.80 L163.90,177.79 L163.63,177.76 L163.37,177.73 L163.10,177.70 L162.84,177.65 L162.57,177.60 L162.31,177.53 L162.04,177.46 L161.78,177.38 L161.51,177.29 L161.25,177.19 L160.98,177.09 L160.72,176.97 L160.45,176.84 L160.19,176.70 L159.92,176.54 L159.66,176.37 L159.39,176.18 L159.13,175.95 L158.86,175.84 L158.60,175.41 Z" fill="#fff" stroke="#4a4a4a" stroke-width="0.6"/>
<line x1="168.67" y1="174.23" x2="168.67" y2="176.59" stroke="#666" stroke-width="0.5"/>
<line x1="165.17" y1="173.98" x2="165.17" y2="176.84" stroke="#aaa" stroke-width="0.4"/>
<line x1="172.17" y1="174.50" x2="172.17" y2="176.32" stroke="#aaa" stroke-width="0.4"/>
<text x="121.80" y="186.79" font-size="6.9" text-anchor="end" fill="#444" font-weight="normal" textLength="42.30" lengthAdjust="spacingAndGlyphs" stroke="#444" stroke-width="0.16">Breast (n = 47)</text>
<line x1="125.00" y1="184.34" x2="128.30" y2="184.34" stroke="#333" stroke-width="0.9"/>
<line x1="148.80" y1="184.34" x2="194.50" y2="184.34" stroke="#3a3a3a" stroke-width="0.75"/>
<line x1="153.80" y1="184.34" x2="157.80" y2="184.34" stroke="#3a3a3a" stroke-width="1.0"/>
<line x1="180.70" y1="184.34" x2="184.70" y2="184.34" stroke="#3a3a3a" stroke-width="1.0"/>
<path d="M157.80,184.34 L158.09,183.88 L158.37,183.77 L158.66,183.53 L158.95,183.33 L159.23,183.15 L159.52,182.98 L159.80,182.84 L160.09,182.71 L160.38,182.59 L160.66,182.48 L160.95,182.38 L161.24,182.29 L161.52,182.22 L161.81,182.15 L162.09,182.09 L162.38,182.04 L162.67,182.01 L162.95,181.98 L163.24,181.96 L163.53,181.94 L163.81,181.94 L164.10,181.95 L164.38,181.96 L164.67,181.99 L164.96,182.02 L165.24,182.06 L165.53,182.12 L165.81,182.18 L166.10,182.25 L166.39,182.33 L166.67,182.42 L166.96,182.52 L167.25,182.63 L167.53,182.72 L167.82,182.79 L168.10,182.83 L168.39,182.85 L168.68,182.85 L168.96,182.85 L169.25,182.85 L169.54,182.85 L169.82,182.85 L170.11,182.85 L170.40,182.85 L170.68,182.85 L170.97,182.83 L171.25,182.79 L171.54,182.74 L171.83,182.67 L172.11,182.60 L172.40,182.53 L172.69,182.47 L172.97,182.42 L173.26,182.38 L173.54,182.35 L173.83,182.32 L174.12,182.30 L174.40,182.29 L174.69,182.28 L174.97,182.29 L175.26,182.30 L175.55,182.32 L175.83,182.34 L176.12,182.38 L176.41,182.42 L176.69,182.47 L176.98,182.53 L177.26,182.59 L177.55,182.67 L177.84,182.75 L178.12,182.84 L178.41,182.95 L178.70,183.06 L178.98,183.18 L179.27,183.32 L179.55,183.48 L179.84,183.65 L180.13,183.85 L180.41,183.95 L180.70,184.34 L180.70,184.34 L180.41,184.73 L180.13,184.83 L179.84,185.03 L179.55,185.20 L179.27,185.36 L178.98,185.50 L178.70,185.62 L178.41,185.73 L178.12,185.84 L177.84,185.93 L177.55,186.01 L177.26,186.09 L176.98,186.15 L176.69,186.21 L176.41,186.26 L176.12,186.30 L175.83,186.34 L175.55,186.36 L175.26,186.38 L174.97,186.39 L174.69,186.40 L174.40,186.39 L174.12,186.38 L173.83,186.36 L173.54,186.33 L173.26,186.30 L172.97,186.26 L172.69,186.21 L172.40,186.15 L172.11,186.08 L171.83,186.01 L171.54,185.94 L171.25,185.89 L170.97,185.85 L170.68,185.83 L170.40,185.83 L170.11,185.83 L169.82,185.83 L169.54,185.83 L169.25,185.83 L168.96,185.83 L168.68,185.83 L168.39,185.83 L168.10,185.85 L167.82,185.89 L167.53,185.96 L167.25,186.05 L166.96,186.16 L166.67,186.26 L166.39,186.35 L166.10,186.43 L165.81,186.50 L165.53,186.56 L165.24,186.62 L164.96,186.66 L164.67,186.69 L164.38,186.72 L164.10,186.73 L163.81,186.74 L163.53,186.74 L163.24,186.72 L162.95,186.70 L162.67,186.67 L162.38,186.64 L162.09,186.59 L161.81,186.53 L161.52,186.46 L161.24,186.39 L160.95,186.30 L160.66,186.20 L160.38,186.09 L160.09,185.97 L159.80,185.84 L159.52,185.70 L159.23,185.53 L158.95,185.35 L158.66,185.15 L158.37,184.91 L158.09,184.80 L157.80,184.34 Z" fill="#fff" stroke="#4a4a4a" stroke-width="0.6"/>
<line x1="168.85" y1="183.15" x2="168.85" y2="185.53" stroke="#666" stroke-width="0.5"/>
<line x1="165.35" y1="182.97" x2="165.35" y2="185.71" stroke="#aaa" stroke-width="0.4"/>
<line x1="172.35" y1="183.25" x2="172.35" y2="185.43" stroke="#aaa" stroke-width="0.4"/>
<text x="121.80" y="195.72" font-size="6.9" text-anchor="end" fill="#444" font-weight="normal" textLength="92.30" lengthAdjust="spacingAndGlyphs" stroke="#444" stroke-width="0.16">Central nervous system (n = 79)</text>
<line x1="125.00" y1="193.27" x2="128.30" y2="193.27" stroke="#333" stroke-width="0.9"/>
<line x1="135.70" y1="193.27" x2="198.60" y2="193.27" stroke="#3a3a3a" stroke-width="0.75"/>
<line x1="157.90" y1="193.27" x2="161.90" y2="193.27" stroke="#3a3a3a" stroke-width="1.0"/>
<line x1="179.80" y1="193.27" x2="183.80" y2="193.27" stroke="#3a3a3a" stroke-width="1.0"/>
<path d="M161.90,193.27 L162.12,193.01 L162.35,192.95 L162.57,192.81 L162.80,192.69 L163.02,192.58 L163.24,192.47 L163.47,192.38 L163.69,192.29 L163.91,192.20 L164.14,192.12 L164.36,192.04 L164.59,191.97 L164.81,191.90 L165.03,191.83 L165.26,191.77 L165.48,191.71 L165.70,191.65 L165.93,191.60 L166.15,191.55 L166.38,191.50 L166.60,191.45 L166.82,191.41 L167.05,191.37 L167.27,191.33 L167.49,191.29 L167.72,191.26 L167.94,191.23 L168.17,191.20 L168.39,191.17 L168.61,191.15 L168.84,191.13 L169.06,191.11 L169.28,191.09 L169.51,191.08 L169.73,191.06 L169.96,191.05 L170.18,191.05 L170.40,191.04 L170.63,191.04 L170.85,191.04 L171.07,191.04 L171.30,191.04 L171.52,191.05 L171.75,191.05 L171.97,191.06 L172.19,191.08 L172.42,191.09 L172.64,191.11 L172.86,191.13 L173.09,191.15 L173.31,191.17 L173.53,191.20 L173.76,191.23 L173.98,191.26 L174.21,191.29 L174.43,191.33 L174.65,191.37 L174.88,191.41 L175.10,191.45 L175.33,191.50 L175.55,191.55 L175.77,191.60 L176.00,191.65 L176.22,191.71 L176.44,191.77 L176.67,191.83 L176.89,191.90 L177.12,191.97 L177.34,192.04 L177.56,192.12 L177.79,192.20 L178.01,192.29 L178.23,192.38 L178.46,192.47 L178.68,192.58 L178.91,192.69 L179.13,192.81 L179.35,192.95 L179.58,193.01 L179.80,193.27 L179.80,193.27 L179.58,193.53 L179.35,193.59 L179.13,193.73 L178.91,193.85 L178.68,193.96 L178.46,194.07 L178.23,194.16 L178.01,194.25 L177.79,194.34 L177.56,194.42 L177.34,194.50 L177.12,194.57 L176.89,194.64 L176.67,194.71 L176.44,194.77 L176.22,194.83 L176.00,194.89 L175.77,194.94 L175.55,194.99 L175.33,195.04 L175.10,195.09 L174.88,195.13 L174.65,195.17 L174.43,195.21 L174.21,195.25 L173.98,195.28 L173.76,195.31 L173.53,195.34 L173.31,195.37 L173.09,195.39 L172.86,195.41 L172.64,195.43 L172.42,195.45 L172.19,195.46 L171.97,195.48 L171.75,195.49 L171.52,195.49 L171.30,195.50 L171.07,195.50 L170.85,195.50 L170.63,195.50 L170.40,195.50 L170.18,195.49 L169.96,195.49 L169.73,195.48 L169.51,195.46 L169.28,195.45 L169.06,195.43 L168.84,195.41 L168.61,195.39 L168.39,195.37 L168.17,195.34 L167.94,195.31 L167.72,195.28 L167.49,195.25 L167.27,195.21 L167.05,195.17 L166.82,195.13 L166.60,195.09 L166.38,195.04 L166.15,194.99 L165.93,194.94 L165.70,194.89 L165.48,194.83 L165.26,194.77 L165.03,194.71 L164.81,194.64 L164.59,194.57 L164.36,194.50 L164.14,194.42 L163.91,194.34 L163.69,194.25 L163.47,194.16 L163.24,194.07 L163.02,193.96 L162.80,193.85 L162.57,193.73 L162.35,193.59 L162.12,193.53 L161.90,193.27 Z" fill="#fff" stroke="#4a4a4a" stroke-width="0.6"/>
<line x1="170.85" y1="191.34" x2="170.85" y2="195.20" stroke="#666" stroke-width="0.5"/>
<line x1="167.35" y1="192.10" x2="167.35" y2="194.44" stroke="#aaa" stroke-width="0.4"/>
<line x1="174.35" y1="192.10" x2="174.35" y2="194.44" stroke="#aaa" stroke-width="0.4"/>
<text x="121.80" y="204.65" font-size="6.9" text-anchor="end" fill="#444" font-weight="normal" textLength="39.30" lengthAdjust="spacingAndGlyphs" stroke="#444" stroke-width="0.16">Bone (n = 41)</text>
<line x1="125.00" y1="202.20" x2="128.30" y2="202.20" stroke="#333" stroke-width="0.9"/>
<line x1="156.10" y1="202.20" x2="206.00" y2="202.20" stroke="#3a3a3a" stroke-width="0.75"/>
<line x1="158.70" y1="202.20" x2="162.70" y2="202.20" stroke="#3a3a3a" stroke-width="1.0"/>
<line x1="182.30" y1="202.20" x2="186.30" y2="202.20" stroke="#3a3a3a" stroke-width="1.0"/>
<path d="M162.70,202.20 L162.94,201.77 L163.19,201.66 L163.44,201.44 L163.68,201.25 L163.92,201.08 L164.17,200.93 L164.41,200.80 L164.66,200.68 L164.91,200.57 L165.15,200.47 L165.39,200.39 L165.64,200.31 L165.88,200.25 L166.13,200.19 L166.38,200.15 L166.62,200.11 L166.86,200.09 L167.11,200.07 L167.35,200.06 L167.60,200.06 L167.84,200.07 L168.09,200.09 L168.34,200.12 L168.58,200.16 L168.82,200.21 L169.07,200.26 L169.31,200.33 L169.56,200.41 L169.81,200.50 L170.05,200.59 L170.29,200.71 L170.54,200.83 L170.78,200.95 L171.03,201.06 L171.28,201.14 L171.52,201.19 L171.76,201.21 L172.01,201.21 L172.25,201.21 L172.50,201.21 L172.75,201.21 L172.99,201.21 L173.24,201.20 L173.48,201.18 L173.72,201.15 L173.97,201.11 L174.22,201.06 L174.46,201.02 L174.71,200.98 L174.95,200.95 L175.19,200.92 L175.44,200.89 L175.69,200.87 L175.93,200.85 L176.18,200.84 L176.42,200.83 L176.66,200.83 L176.91,200.83 L177.16,200.83 L177.40,200.84 L177.65,200.86 L177.89,200.88 L178.14,200.90 L178.38,200.92 L178.62,200.96 L178.87,200.99 L179.12,201.03 L179.36,201.08 L179.61,201.13 L179.85,201.19 L180.09,201.25 L180.34,201.31 L180.59,201.39 L180.83,201.47 L181.08,201.56 L181.32,201.65 L181.56,201.76 L181.81,201.89 L182.06,201.96 L182.30,202.20 L182.30,202.20 L182.06,202.44 L181.81,202.51 L181.56,202.64 L181.32,202.75 L181.08,202.84 L180.83,202.93 L180.59,203.01 L180.34,203.09 L180.09,203.15 L179.85,203.21 L179.61,203.27 L179.36,203.32 L179.12,203.37 L178.87,203.41 L178.62,203.44 L178.38,203.48 L178.14,203.50 L177.89,203.52 L177.65,203.54 L177.40,203.56 L177.16,203.57 L176.91,203.57 L176.66,203.57 L176.42,203.57 L176.18,203.56 L175.93,203.55 L175.69,203.53 L175.44,203.51 L175.19,203.48 L174.95,203.45 L174.71,203.42 L174.46,203.38 L174.22,203.34 L173.97,203.29 L173.72,203.25 L173.48,203.22 L173.24,203.20 L172.99,203.19 L172.75,203.19 L172.50,203.19 L172.25,203.19 L172.01,203.19 L171.76,203.19 L171.52,203.21 L171.28,203.26 L171.03,203.34 L170.78,203.45 L170.54,203.57 L170.29,203.69 L170.05,203.81 L169.81,203.90 L169.56,203.99 L169.31,204.07 L169.07,204.14 L168.82,204.19 L168.58,204.24 L168.34,204.28 L168.09,204.31 L167.84,204.33 L167.60,204.34 L167.35,204.34 L167.11,204.33 L166.86,204.31 L166.62,204.29 L166.38,204.25 L166.13,204.21 L165.88,204.15 L165.64,204.09 L165.39,204.01 L165.15,203.93 L164.91,203.83 L164.66,203.72 L164.41,203.60 L164.17,203.47 L163.92,203.32 L163.68,203.15 L163.44,202.96 L163.19,202.74 L162.94,202.63 L162.70,202.20 Z" fill="#fff" stroke="#4a4a4a" stroke-width="0.6"/>
<line x1="171.45" y1="201.49" x2="171.45" y2="202.91" stroke="#666" stroke-width="0.5"/>
<line x1="167.95" y1="200.92" x2="167.95" y2="203.48" stroke="#aaa" stroke-width="0.4"/>
<line x1="174.95" y1="201.45" x2="174.95" y2="202.95" stroke="#aaa" stroke-width="0.4"/>
<text x="121.80" y="213.58" font-size="6.9" text-anchor="end" fill="#444" font-weight="normal" textLength="60.05" lengthAdjust="spacingAndGlyphs" stroke="#444" stroke-width="0.16">Urinary tract (n = 31)</text>
<line x1="125.00" y1="211.13" x2="128.30" y2="211.13" stroke="#333" stroke-width="0.9"/>
<line x1="158.60" y1="211.13" x2="198.60" y2="211.13" stroke="#3a3a3a" stroke-width="0.75"/>
<line x1="158.70" y1="211.13" x2="162.70" y2="211.13" stroke="#3a3a3a" stroke-width="1.0"/>
<line x1="182.30" y1="211.13" x2="186.30" y2="211.13" stroke="#3a3a3a" stroke-width="1.0"/>
<path d="M162.70,211.13 L162.94,210.77 L163.19,210.68 L163.44,210.48 L163.68,210.32 L163.92,210.17 L164.17,210.04 L164.41,209.92 L164.66,209.81 L164.91,209.70 L165.15,209.61 L165.39,209.52 L165.64,209.44 L165.88,209.37 L166.13,209.30 L166.38,209.24 L166.62,209.19 L166.86,209.14 L167.11,209.10 L167.35,209.07 L167.60,209.04 L167.84,209.02 L168.09,209.00 L168.34,208.99 L168.58,208.99 L168.82,208.99 L169.07,208.99 L169.31,209.01 L169.56,209.03 L169.81,209.05 L170.05,209.08 L170.29,209.12 L170.54,209.16 L170.78,209.21 L171.03,209.27 L171.28,209.33 L171.52,209.40 L171.76,209.47 L172.01,209.56 L172.25,209.65 L172.50,209.75 L172.75,209.85 L172.99,209.95 L173.24,210.03 L173.48,210.09 L173.72,210.13 L173.97,210.14 L174.22,210.14 L174.46,210.14 L174.71,210.14 L174.95,210.14 L175.19,210.12 L175.44,210.09 L175.69,210.05 L175.93,210.01 L176.18,209.95 L176.42,209.90 L176.66,209.86 L176.91,209.82 L177.16,209.80 L177.40,209.78 L177.65,209.77 L177.89,209.76 L178.14,209.76 L178.38,209.77 L178.62,209.79 L178.87,209.81 L179.12,209.84 L179.36,209.88 L179.61,209.92 L179.85,209.98 L180.09,210.04 L180.34,210.11 L180.59,210.18 L180.83,210.27 L181.08,210.37 L181.32,210.48 L181.56,210.61 L181.81,210.76 L182.06,210.84 L182.30,211.13 L182.30,211.13 L182.06,211.42 L181.81,211.50 L181.56,211.65 L181.32,211.78 L181.08,211.89 L180.83,211.99 L180.59,212.08 L180.34,212.15 L180.09,212.22 L179.85,212.28 L179.61,212.34 L179.36,212.38 L179.12,212.42 L178.87,212.45 L178.62,212.47 L178.38,212.49 L178.14,212.50 L177.89,212.50 L177.65,212.49 L177.40,212.48 L177.16,212.46 L176.91,212.44 L176.66,212.40 L176.42,212.36 L176.18,212.31 L175.93,212.25 L175.69,212.21 L175.44,212.17 L175.19,212.14 L174.95,212.12 L174.71,212.12 L174.46,212.12 L174.22,212.12 L173.97,212.12 L173.72,212.13 L173.48,212.17 L173.24,212.23 L172.99,212.31 L172.75,212.41 L172.50,212.51 L172.25,212.61 L172.01,212.70 L171.76,212.79 L171.52,212.86 L171.28,212.93 L171.03,212.99 L170.78,213.05 L170.54,213.10 L170.29,213.14 L170.05,213.18 L169.81,213.21 L169.56,213.23 L169.31,213.25 L169.07,213.27 L168.82,213.27 L168.58,213.27 L168.34,213.27 L168.09,213.26 L167.84,213.24 L167.60,213.22 L167.35,213.19 L167.11,213.16 L166.86,213.12 L166.62,213.07 L166.38,213.02 L166.13,212.96 L165.88,212.89 L165.64,212.82 L165.39,212.74 L165.15,212.65 L164.91,212.56 L164.66,212.45 L164.41,212.34 L164.17,212.22 L163.92,212.09 L163.68,211.94 L163.44,211.78 L163.19,211.58 L162.94,211.49 L162.70,211.13 Z" fill="#fff" stroke="#4a4a4a" stroke-width="0.6"/>
<line x1="171.64" y1="209.77" x2="171.64" y2="212.49" stroke="#666" stroke-width="0.5"/>
<line x1="168.14" y1="209.85" x2="168.14" y2="212.41" stroke="#aaa" stroke-width="0.4"/>
<line x1="175.14" y1="210.53" x2="175.14" y2="211.73" stroke="#aaa" stroke-width="0.4"/>
<text x="121.80" y="222.51" font-size="6.9" text-anchor="end" fill="#444" font-weight="normal" textLength="49.80" lengthAdjust="spacingAndGlyphs" stroke="#444" stroke-width="0.16">Bile duct (n = 37)</text>
<line x1="125.00" y1="220.06" x2="128.30" y2="220.06" stroke="#333" stroke-width="0.9"/>
<line x1="152.00" y1="220.06" x2="188.00" y2="220.06" stroke="#3a3a3a" stroke-width="0.75"/>
<line x1="155.40" y1="220.06" x2="159.40" y2="220.06" stroke="#3a3a3a" stroke-width="1.0"/>
<line x1="174.10" y1="220.06" x2="178.10" y2="220.06" stroke="#3a3a3a" stroke-width="1.0"/>
<path d="M159.40,220.06 L159.58,219.70 L159.77,219.60 L159.95,219.41 L160.13,219.24 L160.32,219.09 L160.50,218.95 L160.69,218.83 L160.87,218.71 L161.05,218.60 L161.24,218.50 L161.42,218.40 L161.61,218.31 L161.79,218.23 L161.97,218.15 L162.16,218.08 L162.34,218.02 L162.52,217.96 L162.71,217.91 L162.89,217.86 L163.07,217.82 L163.26,217.78 L163.44,217.75 L163.63,217.72 L163.81,217.70 L163.99,217.68 L164.18,217.67 L164.36,217.66 L164.55,217.66 L164.73,217.66 L164.91,217.67 L165.10,217.68 L165.28,217.70 L165.46,217.72 L165.65,217.74 L165.83,217.78 L166.01,217.81 L166.20,217.86 L166.38,217.90 L166.57,217.96 L166.75,218.02 L166.93,218.08 L167.12,218.15 L167.30,218.23 L167.49,218.31 L167.67,218.40 L167.85,218.49 L168.04,218.57 L168.22,218.63 L168.40,218.67 L168.59,218.70 L168.77,218.70 L168.95,218.70 L169.14,218.70 L169.32,218.70 L169.51,218.69 L169.69,218.66 L169.87,218.61 L170.06,218.55 L170.24,218.47 L170.43,218.38 L170.61,218.31 L170.79,218.26 L170.98,218.22 L171.16,218.19 L171.34,218.18 L171.53,218.19 L171.71,218.20 L171.89,218.23 L172.08,218.28 L172.26,218.34 L172.45,218.41 L172.63,218.51 L172.81,218.61 L173.00,218.74 L173.18,218.88 L173.37,219.05 L173.55,219.24 L173.73,219.48 L173.92,219.60 L174.10,220.06 L174.10,220.06 L173.92,220.52 L173.73,220.64 L173.55,220.88 L173.37,221.07 L173.18,221.24 L173.00,221.38 L172.81,221.51 L172.63,221.61 L172.45,221.71 L172.26,221.78 L172.08,221.84 L171.89,221.89 L171.71,221.92 L171.53,221.93 L171.34,221.94 L171.16,221.93 L170.98,221.90 L170.79,221.86 L170.61,221.81 L170.43,221.74 L170.24,221.65 L170.06,221.57 L169.87,221.51 L169.69,221.46 L169.51,221.43 L169.32,221.42 L169.14,221.42 L168.95,221.42 L168.77,221.42 L168.59,221.42 L168.40,221.45 L168.22,221.49 L168.04,221.55 L167.85,221.63 L167.67,221.72 L167.49,221.81 L167.30,221.89 L167.12,221.97 L166.93,222.04 L166.75,222.10 L166.57,222.16 L166.38,222.22 L166.20,222.26 L166.01,222.31 L165.83,222.34 L165.65,222.38 L165.46,222.40 L165.28,222.42 L165.10,222.44 L164.91,222.45 L164.73,222.46 L164.55,222.46 L164.36,222.46 L164.18,222.45 L163.99,222.44 L163.81,222.42 L163.63,222.40 L163.44,222.37 L163.26,222.34 L163.07,222.30 L162.89,222.26 L162.71,222.21 L162.52,222.16 L162.34,222.10 L162.16,222.04 L161.97,221.97 L161.79,221.89 L161.61,221.81 L161.42,221.72 L161.24,221.62 L161.05,221.52 L160.87,221.41 L160.69,221.29 L160.50,221.17 L160.32,221.03 L160.13,220.88 L159.95,220.71 L159.77,220.52 L159.58,220.42 L159.40,220.06 Z" fill="#fff" stroke="#4a4a4a" stroke-width="0.6"/>
<line x1="166.55" y1="218.26" x2="166.55" y2="221.86" stroke="#666" stroke-width="0.5"/>
<line x1="163.05" y1="218.71" x2="163.05" y2="221.41" stroke="#aaa" stroke-width="0.4"/>
<line x1="170.05" y1="219.15" x2="170.05" y2="220.97" stroke="#aaa" stroke-width="0.4"/>
<line x1="128.30" y1="17.50" x2="128.30" y2="225.90" stroke="#333" stroke-width="1.1"/>
<line x1="127.80" y1="225.50" x2="226.00" y2="225.50" stroke="#333" stroke-width="1.1"/>
<line x1="128.30" y1="225.50" x2="128.30" y2="228.60" stroke="#333" stroke-width="0.9"/>
<text x="128.30" y="238.20" font-size="6.5" text-anchor="middle" fill="#383838" font-weight="normal" stroke="#383838" stroke-width="0.16">−3</text>
<line x1="156.40" y1="225.50" x2="156.40" y2="228.60" stroke="#333" stroke-width="0.9"/>
<text x="156.40" y="238.20" font-size="6.5" text-anchor="middle" fill="#383838" font-weight="normal" stroke="#383838" stroke-width="0.16">−2</text>
<line x1="184.40" y1="225.50" x2="184.40" y2="228.60" stroke="#333" stroke-width="0.9"/>
<text x="184.40" y="238.20" font-size="6.5" text-anchor="middle" fill="#383838" font-weight="normal" stroke="#383838" stroke-width="0.16">−1</text>
<line x1="212.40" y1="225.50" x2="212.40" y2="228.60" stroke="#333" stroke-width="0.9"/>
<text x="212.40" y="238.20" font-size="6.5" text-anchor="middle" fill="#383838" font-weight="normal" stroke="#383838" stroke-width="0.16">0</text>
<text x="177.80" y="250.10" font-size="8.2" text-anchor="middle" fill="#383838" font-weight="normal" textLength="85.40" lengthAdjust="spacingAndGlyphs" stroke="#383838" stroke-width="0.16">Dependency score (chronos)</text>
<line x1="184.40" y1="18.00" x2="184.40" y2="225.00" stroke="#8c2232" stroke-width="0.75" stroke-dasharray="2.6,1.4"/>
<text x="242.30" y="9.60" font-size="11.4" text-anchor="start" fill="#111" font-weight="bold">B</text>
<rect x="281.00" y="20.00" width="200.50" height="8.80" fill="#6c6c6c" stroke="none" stroke-width="1"/>
<line x1="347.50" y1="20.00" x2="347.50" y2="28.80" stroke="#fff" stroke-width="0.8"/>
<line x1="414.50" y1="20.00" x2="414.50" y2="28.80" stroke="#fff" stroke-width="0.8"/>
<text x="313.70" y="26.40" font-size="6.3" text-anchor="middle" fill="#fff" font-weight="bold" textLength="21.90" lengthAdjust="spacingAndGlyphs">MM.1S</text>
<text x="381.20" y="26.40" font-size="6.3" text-anchor="middle" fill="#fff" font-weight="bold" textLength="32.30" lengthAdjust="spacingAndGlyphs">ANBL6-WT</text>
<text x="449.20" y="26.40" font-size="6.3" text-anchor="middle" fill="#fff" font-weight="bold" textLength="31.70" lengthAdjust="spacingAndGlyphs">ANBL6-BR</text>
<line x1="294.20" y1="34.70" x2="302.70" y2="34.70" stroke="#1f4f96" stroke-width="0.8"/>
<circle cx="298.45" cy="34.70" r="0.90" fill="#1f4f96" stroke="none" stroke-width="1"/>
<text x="306.30" y="36.90" font-size="6.4" text-anchor="start" fill="#383838" font-weight="normal" textLength="60.50" lengthAdjust="spacingAndGlyphs" stroke="#383838" stroke-width="0.16">shRNA-CT, W/O Dox</text>
<line x1="294.20" y1="40.60" x2="302.70" y2="40.60" stroke="#c0143c" stroke-width="0.8"/>
<circle cx="298.45" cy="40.60" r="0.90" fill="#c0143c" stroke="none" stroke-width="1"/>
<text x="306.30" y="42.80" font-size="6.4" text-anchor="start" fill="#383838" font-weight="normal" textLength="53.10" lengthAdjust="spacingAndGlyphs" stroke="#383838" stroke-width="0.16">shRNA-CT, W Dox</text>
<line x1="375.60" y1="34.70" x2="384.10" y2="34.70" stroke="#a8d890" stroke-width="0.8"/>
<circle cx="379.85" cy="34.70" r="0.90" fill="#a8d890" stroke="none" stroke-width="1"/>
<text x="387.20" y="36.90" font-size="6.4" text-anchor="start" fill="#383838" font-weight="normal" textLength="67.60" lengthAdjust="spacingAndGlyphs" stroke="#383838" stroke-width="0.16">Rpn10 shKD, W/O Dox</text>
<line x1="375.60" y1="40.60" x2="384.10" y2="40.60" stroke="#3aa63a" stroke-width="0.8"/>
<circle cx="379.85" cy="40.60" r="0.90" fill="#3aa63a" stroke="none" stroke-width="1"/>
<text x="387.20" y="42.80" font-size="6.4" text-anchor="start" fill="#383838" font-weight="normal" textLength="59.60" lengthAdjust="spacingAndGlyphs" stroke="#383838" stroke-width="0.16">Rpn10 shKD, W Dox</text>
<line x1="281.20" y1="39.50" x2="281.20" y2="143.60" stroke="#333" stroke-width="1.1"/>
<line x1="280.70" y1="143.20" x2="481.80" y2="143.20" stroke="#333" stroke-width="1.1"/>
<line x1="278.20" y1="130.70" x2="281.20" y2="130.70" stroke="#333" stroke-width="0.9"/>
<text x="275.60" y="133.00" font-size="6.4" text-anchor="end" fill="#383838" font-weight="normal" stroke="#383838" stroke-width="0.16">0</text>
<line x1="278.20" y1="108.35" x2="281.20" y2="108.35" stroke="#333" stroke-width="0.9"/>
<text x="275.60" y="110.65" font-size="6.4" text-anchor="end" fill="#383838" font-weight="normal" stroke="#383838" stroke-width="0.16">25</text>
<line x1="278.20" y1="86.00" x2="281.20" y2="86.00" stroke="#333" stroke-width="0.9"/>
<text x="275.60" y="88.30" font-size="6.4" text-anchor="end" fill="#383838" font-weight="normal" stroke="#383838" stroke-width="0.16">50</text>
<line x1="278.20" y1="63.65" x2="281.20" y2="63.65" stroke="#333" stroke-width="0.9"/>
<text x="275.60" y="65.95" font-size="6.4" text-anchor="end" fill="#383838" font-weight="normal" stroke="#383838" stroke-width="0.16">75</text>
<line x1="278.20" y1="41.30" x2="281.20" y2="41.30" stroke="#333" stroke-width="0.9"/>
<text x="275.60" y="43.60" font-size="6.4" text-anchor="end" fill="#383838" font-weight="normal" stroke="#383838" stroke-width="0.16">100</text>
<line x1="347.00" y1="53.00" x2="347.00" y2="143.00" stroke="#555" stroke-width="0.8" stroke-dasharray="1.2,1.2"/>
<line x1="416.40" y1="53.00" x2="416.40" y2="143.00" stroke="#555" stroke-width="0.8" stroke-dasharray="1.2,1.2"/>
<line x1="289.90" y1="143.20" x2="289.90" y2="146.20" stroke="#333" stroke-width="0.9"/>
<text x="289.90" y="155.00" font-size="6.4" text-anchor="middle" fill="#383838" font-weight="normal" stroke="#383838" stroke-width="0.16">0</text>
<line x1="301.94" y1="143.20" x2="301.94" y2="146.20" stroke="#333" stroke-width="0.9"/>
<text x="301.94" y="155.00" font-size="6.4" text-anchor="middle" fill="#383838" font-weight="normal" stroke="#383838" stroke-width="0.16">2</text>
<line x1="313.98" y1="143.20" x2="313.98" y2="146.20" stroke="#333" stroke-width="0.9"/>
<text x="313.98" y="155.00" font-size="6.4" text-anchor="middle" fill="#383838" font-weight="normal" stroke="#383838" stroke-width="0.16">4</text>
<line x1="326.02" y1="143.20" x2="326.02" y2="146.20" stroke="#333" stroke-width="0.9"/>
<text x="326.02" y="155.00" font-size="6.4" text-anchor="middle" fill="#383838" font-weight="normal" stroke="#383838" stroke-width="0.16">6</text>
<line x1="338.06" y1="143.20" x2="338.06" y2="146.20" stroke="#333" stroke-width="0.9"/>
<text x="338.06" y="155.00" font-size="6.4" text-anchor="middle" fill="#383838" font-weight="normal" stroke="#383838" stroke-width="0.16">8</text>
<line x1="289.90" y1="125.34" x2="289.90" y2="136.06" stroke="#a8d890" stroke-width="0.6"/>
<line x1="288.40" y1="125.34" x2="291.40" y2="125.34" stroke="#a8d890" stroke-width="0.6"/>
<line x1="288.40" y1="136.06" x2="291.40" y2="136.06" stroke="#a8d890" stroke-width="0.6"/>
<line x1="301.94" y1="124.44" x2="301.94" y2="136.96" stroke="#a8d890" stroke-width="0.6"/>
<line x1="300.44" y1="124.44" x2="303.44" y2="124.44" stroke="#a8d890" stroke-width="0.6"/>
<line x1="300.44" y1="136.96" x2="303.44" y2="136.96" stroke="#a8d890" stroke-width="0.6"/>
<line x1="313.98" y1="121.76" x2="313.98" y2="130.70" stroke="#a8d890" stroke-width="0.6"/>
<line x1="312.48" y1="121.76" x2="315.48" y2="121.76" stroke="#a8d890" stroke-width="0.6"/>
<line x1="312.48" y1="130.70" x2="315.48" y2="130.70" stroke="#a8d890" stroke-width="0.6"/>
<line x1="326.02" y1="119.97" x2="326.02" y2="127.12" stroke="#a8d890" stroke-width="0.6"/>
<line x1="324.52" y1="119.97" x2="327.52" y2="119.97" stroke="#a8d890" stroke-width="0.6"/>
<line x1="324.52" y1="127.12" x2="327.52" y2="127.12" stroke="#a8d890" stroke-width="0.6"/>
<line x1="338.06" y1="117.29" x2="338.06" y2="128.02" stroke="#a8d890" stroke-width="0.6"/>
<line x1="336.56" y1="117.29" x2="339.56" y2="117.29" stroke="#a8d890" stroke-width="0.6"/>
<line x1="336.56" y1="128.02" x2="339.56" y2="128.02" stroke="#a8d890" stroke-width="0.6"/>
<polyline points="289.90,130.70 301.94,130.70 313.98,126.23 326.02,123.55 338.06,122.65" fill="none" stroke="#a8d890" stroke-width="0.9"/>
<circle cx="289.90" cy="130.70" r="0.90" fill="#a8d890" stroke="none" stroke-width="1"/>
<circle cx="301.94" cy="130.70" r="0.90" fill="#a8d890" stroke="none" stroke-width="1"/>
<circle cx="313.98" cy="126.23" r="0.90" fill="#a8d890" stroke="none" stroke-width="1"/>
<circle cx="326.02" cy="123.55" r="0.90" fill="#a8d890" stroke="none" stroke-width="1"/>
<circle cx="338.06" cy="122.65" r="0.90" fill="#a8d890" stroke="none" stroke-width="1"/>
<line x1="289.90" y1="128.02" x2="289.90" y2="133.38" stroke="#1f4f96" stroke-width="0.6"/>
<line x1="288.40" y1="128.02" x2="291.40" y2="128.02" stroke="#1f4f96" stroke-width="0.6"/>
<line x1="288.40" y1="133.38" x2="291.40" y2="133.38" stroke="#1f4f96" stroke-width="0.6"/>
<line x1="301.94" y1="128.02" x2="301.94" y2="133.38" stroke="#1f4f96" stroke-width="0.6"/>
<line x1="300.44" y1="128.02" x2="303.44" y2="128.02" stroke="#1f4f96" stroke-width="0.6"/>
<line x1="300.44" y1="133.38" x2="303.44" y2="133.38" stroke="#1f4f96" stroke-width="0.6"/>
<line x1="313.98" y1="128.02" x2="313.98" y2="133.38" stroke="#1f4f96" stroke-width="0.6"/>
<line x1="312.48" y1="128.02" x2="315.48" y2="128.02" stroke="#1f4f96" stroke-width="0.6"/>
<line x1="312.48" y1="133.38" x2="315.48" y2="133.38" stroke="#1f4f96" stroke-width="0.6"/>
<line x1="326.02" y1="127.12" x2="326.02" y2="136.06" stroke="#1f4f96" stroke-width="0.6"/>
<line x1="324.52" y1="127.12" x2="327.52" y2="127.12" stroke="#1f4f96" stroke-width="0.6"/>
<line x1="324.52" y1="136.06" x2="327.52" y2="136.06" stroke="#1f4f96" stroke-width="0.6"/>
<line x1="338.06" y1="128.02" x2="338.06" y2="133.38" stroke="#1f4f96" stroke-width="0.6"/>
<line x1="336.56" y1="128.02" x2="339.56" y2="128.02" stroke="#1f4f96" stroke-width="0.6"/>
<line x1="336.56" y1="133.38" x2="339.56" y2="133.38" stroke="#1f4f96" stroke-width="0.6"/>
<polyline points="289.90,130.70 301.94,130.70 313.98,130.70 326.02,131.59 338.06,130.70" fill="none" stroke="#1f4f96" stroke-width="0.9"/>
<circle cx="289.90" cy="130.70" r="0.90" fill="#1f4f96" stroke="none" stroke-width="1"/>
<circle cx="301.94" cy="130.70" r="0.90" fill="#1f4f96" stroke="none" stroke-width="1"/>
<circle cx="313.98" cy="130.70" r="0.90" fill="#1f4f96" stroke="none" stroke-width="1"/>
<circle cx="326.02" cy="131.59" r="0.90" fill="#1f4f96" stroke="none" stroke-width="1"/>
<circle cx="338.06" cy="130.70" r="0.90" fill="#1f4f96" stroke="none" stroke-width="1"/>
<line x1="289.90" y1="128.02" x2="289.90" y2="133.38" stroke="#c0143c" stroke-width="0.6"/>
<line x1="288.40" y1="128.02" x2="291.40" y2="128.02" stroke="#c0143c" stroke-width="0.6"/>
<line x1="288.40" y1="133.38" x2="291.40" y2="133.38" stroke="#c0143c" stroke-width="0.6"/>
<line x1="301.94" y1="124.44" x2="301.94" y2="136.96" stroke="#c0143c" stroke-width="0.6"/>
<line x1="300.44" y1="124.44" x2="303.44" y2="124.44" stroke="#c0143c" stroke-width="0.6"/>
<line x1="300.44" y1="136.96" x2="303.44" y2="136.96" stroke="#c0143c" stroke-width="0.6"/>
<line x1="313.98" y1="119.08" x2="313.98" y2="131.59" stroke="#c0143c" stroke-width="0.6"/>
<line x1="312.48" y1="119.08" x2="315.48" y2="119.08" stroke="#c0143c" stroke-width="0.6"/>
<line x1="312.48" y1="131.59" x2="315.48" y2="131.59" stroke="#c0143c" stroke-width="0.6"/>
<line x1="326.02" y1="119.97" x2="326.02" y2="127.12" stroke="#c0143c" stroke-width="0.6"/>
<line x1="324.52" y1="119.97" x2="327.52" y2="119.97" stroke="#c0143c" stroke-width="0.6"/>
<line x1="324.52" y1="127.12" x2="327.52" y2="127.12" stroke="#c0143c" stroke-width="0.6"/>
<line x1="338.06" y1="118.18" x2="338.06" y2="128.91" stroke="#c0143c" stroke-width="0.6"/>
<line x1="336.56" y1="118.18" x2="339.56" y2="118.18" stroke="#c0143c" stroke-width="0.6"/>
<line x1="336.56" y1="128.91" x2="339.56" y2="128.91" stroke="#c0143c" stroke-width="0.6"/>
<polyline points="289.90,130.70 301.94,130.70 313.98,125.34 326.02,123.55 338.06,123.55" fill="none" stroke="#c0143c" stroke-width="0.9"/>
<circle cx="289.90" cy="130.70" r="0.90" fill="#c0143c" stroke="none" stroke-width="1"/>
<circle cx="301.94" cy="130.70" r="0.90" fill="#c0143c" stroke="none" stroke-width="1"/>
<circle cx="313.98" cy="125.34" r="0.90" fill="#c0143c" stroke="none" stroke-width="1"/>
<circle cx="326.02" cy="123.55" r="0.90" fill="#c0143c" stroke="none" stroke-width="1"/>
<circle cx="338.06" cy="123.55" r="0.90" fill="#c0143c" stroke="none" stroke-width="1"/>
<line x1="289.90" y1="125.34" x2="289.90" y2="136.06" stroke="#3aa63a" stroke-width="0.6"/>
<line x1="288.40" y1="125.34" x2="291.40" y2="125.34" stroke="#3aa63a" stroke-width="0.6"/>
<line x1="288.40" y1="136.06" x2="291.40" y2="136.06" stroke="#3aa63a" stroke-width="0.6"/>
<line x1="301.94" y1="117.29" x2="301.94" y2="129.81" stroke="#3aa63a" stroke-width="0.6"/>
<line x1="300.44" y1="117.29" x2="303.44" y2="117.29" stroke="#3aa63a" stroke-width="0.6"/>
<line x1="300.44" y1="129.81" x2="303.44" y2="129.81" stroke="#3aa63a" stroke-width="0.6"/>
<line x1="313.98" y1="104.77" x2="313.98" y2="108.35" stroke="#3aa63a" stroke-width="0.6"/>
<line x1="312.48" y1="104.77" x2="315.48" y2="104.77" stroke="#3aa63a" stroke-width="0.6"/>
<line x1="312.48" y1="108.35" x2="315.48" y2="108.35" stroke="#3aa63a" stroke-width="0.6"/>
<line x1="326.02" y1="93.15" x2="326.02" y2="100.30" stroke="#3aa63a" stroke-width="0.6"/>
<line x1="324.52" y1="93.15" x2="327.52" y2="93.15" stroke="#3aa63a" stroke-width="0.6"/>
<line x1="324.52" y1="100.30" x2="327.52" y2="100.30" stroke="#3aa63a" stroke-width="0.6"/>
<line x1="338.06" y1="83.32" x2="338.06" y2="86.89" stroke="#3aa63a" stroke-width="0.6"/>
<line x1="336.56" y1="83.32" x2="339.56" y2="83.32" stroke="#3aa63a" stroke-width="0.6"/>
<line x1="336.56" y1="86.89" x2="339.56" y2="86.89" stroke="#3aa63a" stroke-width="0.6"/>
<polyline points="289.90,130.70 301.94,123.55 313.98,106.56 326.02,96.73 338.06,85.11" fill="none" stroke="#3aa63a" stroke-width="0.9"/>
<circle cx="289.90" cy="130.70" r="0.90" fill="#3aa63a" stroke="none" stroke-width="1"/>
<circle cx="301.94" cy="123.55" r="0.90" fill="#3aa63a" stroke="none" stroke-width="1"/>
<circle cx="313.98" cy="106.56" r="0.90" fill="#3aa63a" stroke="none" stroke-width="1"/>
<circle cx="326.02" cy="96.73" r="0.90" fill="#3aa63a" stroke="none" stroke-width="1"/>
<circle cx="338.06" cy="85.11" r="0.90" fill="#3aa63a" stroke="none" stroke-width="1"/>
<rect x="311.75" y="99.90" width="1.60" height="1.60" fill="#2a2a2a" stroke="none" stroke-width="1"/>
<rect x="314.60" y="99.90" width="1.60" height="1.60" fill="#2a2a2a" stroke="none" stroke-width="1"/>
<rect x="320.94" y="88.20" width="1.60" height="1.60" fill="#2a2a2a" stroke="none" stroke-width="1"/>
<rect x="323.80" y="88.20" width="1.60" height="1.60" fill="#2a2a2a" stroke="none" stroke-width="1"/>
<rect x="326.64" y="88.20" width="1.60" height="1.60" fill="#2a2a2a" stroke="none" stroke-width="1"/>
<rect x="329.50" y="88.20" width="1.60" height="1.60" fill="#2a2a2a" stroke="none" stroke-width="1"/>
<rect x="332.98" y="78.20" width="1.60" height="1.60" fill="#2a2a2a" stroke="none" stroke-width="1"/>
<rect x="335.83" y="78.20" width="1.60" height="1.60" fill="#2a2a2a" stroke="none" stroke-width="1"/>
<rect x="338.68" y="78.20" width="1.60" height="1.60" fill="#2a2a2a" stroke="none" stroke-width="1"/>
<rect x="341.53" y="78.20" width="1.60" height="1.60" fill="#2a2a2a" stroke="none" stroke-width="1"/>
<line x1="357.80" y1="143.20" x2="357.80" y2="146.20" stroke="#333" stroke-width="0.9"/>
<text x="357.80" y="155.00" font-size="6.4" text-anchor="middle" fill="#383838" font-weight="normal" stroke="#383838" stroke-width="0.16">0</text>
<line x1="369.84" y1="143.20" x2="369.84" y2="146.20" stroke="#333" stroke-width="0.9"/>
<text x="369.84" y="155.00" font-size="6.4" text-anchor="middle" fill="#383838" font-weight="normal" stroke="#383838" stroke-width="0.16">2</text>
<line x1="381.88" y1="143.20" x2="381.88" y2="146.20" stroke="#333" stroke-width="0.9"/>
<text x="381.88" y="155.00" font-size="6.4" text-anchor="middle" fill="#383838" font-weight="normal" stroke="#383838" stroke-width="0.16">4</text>
<line x1="393.92" y1="143.20" x2="393.92" y2="146.20" stroke="#333" stroke-width="0.9"/>
<text x="393.92" y="155.00" font-size="6.4" text-anchor="middle" fill="#383838" font-weight="normal" stroke="#383838" stroke-width="0.16">6</text>
<line x1="405.96" y1="143.20" x2="405.96" y2="146.20" stroke="#333" stroke-width="0.9"/>
<text x="405.96" y="155.00" font-size="6.4" text-anchor="middle" fill="#383838" font-weight="normal" stroke="#383838" stroke-width="0.16">8</text>
<line x1="357.80" y1="124.44" x2="357.80" y2="136.96" stroke="#a8d890" stroke-width="0.6"/>
<line x1="356.30" y1="124.44" x2="359.30" y2="124.44" stroke="#a8d890" stroke-width="0.6"/>
<line x1="356.30" y1="136.96" x2="359.30" y2="136.96" stroke="#a8d890" stroke-width="0.6"/>
<line x1="369.84" y1="121.76" x2="369.84" y2="134.28" stroke="#a8d890" stroke-width="0.6"/>
<line x1="368.34" y1="121.76" x2="371.34" y2="121.76" stroke="#a8d890" stroke-width="0.6"/>
<line x1="368.34" y1="134.28" x2="371.34" y2="134.28" stroke="#a8d890" stroke-width="0.6"/>
<line x1="381.88" y1="119.97" x2="381.88" y2="130.70" stroke="#a8d890" stroke-width="0.6"/>
<line x1="380.38" y1="119.97" x2="383.38" y2="119.97" stroke="#a8d890" stroke-width="0.6"/>
<line x1="380.38" y1="130.70" x2="383.38" y2="130.70" stroke="#a8d890" stroke-width="0.6"/>
<line x1="393.92" y1="120.87" x2="393.92" y2="135.17" stroke="#a8d890" stroke-width="0.6"/>
<line x1="392.42" y1="120.87" x2="395.42" y2="120.87" stroke="#a8d890" stroke-width="0.6"/>
<line x1="392.42" y1="135.17" x2="395.42" y2="135.17" stroke="#a8d890" stroke-width="0.6"/>
<line x1="405.96" y1="129.81" x2="405.96" y2="135.17" stroke="#a8d890" stroke-width="0.6"/>
<line x1="404.46" y1="129.81" x2="407.46" y2="129.81" stroke="#a8d890" stroke-width="0.6"/>
<line x1="404.46" y1="135.17" x2="407.46" y2="135.17" stroke="#a8d890" stroke-width="0.6"/>
<polyline points="357.80,130.70 369.84,128.02 381.88,125.34 393.92,128.02 405.96,132.49" fill="none" stroke="#a8d890" stroke-width="0.9"/>
<circle cx="357.80" cy="130.70" r="0.90" fill="#a8d890" stroke="none" stroke-width="1"/>
<circle cx="369.84" cy="128.02" r="0.90" fill="#a8d890" stroke="none" stroke-width="1"/>
<circle cx="381.88" cy="125.34" r="0.90" fill="#a8d890" stroke="none" stroke-width="1"/>
<circle cx="393.92" cy="128.02" r="0.90" fill="#a8d890" stroke="none" stroke-width="1"/>
<circle cx="405.96" cy="132.49" r="0.90" fill="#a8d890" stroke="none" stroke-width="1"/>
<line x1="357.80" y1="122.65" x2="357.80" y2="138.75" stroke="#1f4f96" stroke-width="0.6"/>
<line x1="356.30" y1="122.65" x2="359.30" y2="122.65" stroke="#1f4f96" stroke-width="0.6"/>
<line x1="356.30" y1="138.75" x2="359.30" y2="138.75" stroke="#1f4f96" stroke-width="0.6"/>
<line x1="369.84" y1="128.02" x2="369.84" y2="133.38" stroke="#1f4f96" stroke-width="0.6"/>
<line x1="368.34" y1="128.02" x2="371.34" y2="128.02" stroke="#1f4f96" stroke-width="0.6"/>
<line x1="368.34" y1="133.38" x2="371.34" y2="133.38" stroke="#1f4f96" stroke-width="0.6"/>
<line x1="381.88" y1="128.02" x2="381.88" y2="133.38" stroke="#1f4f96" stroke-width="0.6"/>
<line x1="380.38" y1="128.02" x2="383.38" y2="128.02" stroke="#1f4f96" stroke-width="0.6"/>
<line x1="380.38" y1="133.38" x2="383.38" y2="133.38" stroke="#1f4f96" stroke-width="0.6"/>
<line x1="393.92" y1="128.02" x2="393.92" y2="133.38" stroke="#1f4f96" stroke-width="0.6"/>
<line x1="392.42" y1="128.02" x2="395.42" y2="128.02" stroke="#1f4f96" stroke-width="0.6"/>
<line x1="392.42" y1="133.38" x2="395.42" y2="133.38" stroke="#1f4f96" stroke-width="0.6"/>
<line x1="405.96" y1="128.91" x2="405.96" y2="132.49" stroke="#1f4f96" stroke-width="0.6"/>
<line x1="404.46" y1="128.91" x2="407.46" y2="128.91" stroke="#1f4f96" stroke-width="0.6"/>
<line x1="404.46" y1="132.49" x2="407.46" y2="132.49" stroke="#1f4f96" stroke-width="0.6"/>
<polyline points="357.80,130.70 369.84,130.70 381.88,130.70 393.92,130.70 405.96,130.70" fill="none" stroke="#1f4f96" stroke-width="0.9"/>
<circle cx="357.80" cy="130.70" r="0.90" fill="#1f4f96" stroke="none" stroke-width="1"/>
<circle cx="369.84" cy="130.70" r="0.90" fill="#1f4f96" stroke="none" stroke-width="1"/>
<circle cx="381.88" cy="130.70" r="0.90" fill="#1f4f96" stroke="none" stroke-width="1"/>
<circle cx="393.92" cy="130.70" r="0.90" fill="#1f4f96" stroke="none" stroke-width="1"/>
<circle cx="405.96" cy="130.70" r="0.90" fill="#1f4f96" stroke="none" stroke-width="1"/>
<line x1="357.80" y1="126.23" x2="357.80" y2="135.17" stroke="#c0143c" stroke-width="0.6"/>
<line x1="356.30" y1="126.23" x2="359.30" y2="126.23" stroke="#c0143c" stroke-width="0.6"/>
<line x1="356.30" y1="135.17" x2="359.30" y2="135.17" stroke="#c0143c" stroke-width="0.6"/>
<line x1="369.84" y1="130.70" x2="369.84" y2="136.06" stroke="#c0143c" stroke-width="0.6"/>
<line x1="368.34" y1="130.70" x2="371.34" y2="130.70" stroke="#c0143c" stroke-width="0.6"/>
<line x1="368.34" y1="136.06" x2="371.34" y2="136.06" stroke="#c0143c" stroke-width="0.6"/>
<line x1="381.88" y1="132.49" x2="381.88" y2="137.85" stroke="#c0143c" stroke-width="0.6"/>
<line x1="380.38" y1="132.49" x2="383.38" y2="132.49" stroke="#c0143c" stroke-width="0.6"/>
<line x1="380.38" y1="137.85" x2="383.38" y2="137.85" stroke="#c0143c" stroke-width="0.6"/>
<line x1="393.92" y1="118.18" x2="393.92" y2="137.85" stroke="#c0143c" stroke-width="0.6"/>
<line x1="392.42" y1="118.18" x2="395.42" y2="118.18" stroke="#c0143c" stroke-width="0.6"/>
<line x1="392.42" y1="137.85" x2="395.42" y2="137.85" stroke="#c0143c" stroke-width="0.6"/>
<line x1="405.96" y1="131.59" x2="405.96" y2="136.96" stroke="#c0143c" stroke-width="0.6"/>
<line x1="404.46" y1="131.59" x2="407.46" y2="131.59" stroke="#c0143c" stroke-width="0.6"/>
<line x1="404.46" y1="136.96" x2="407.46" y2="136.96" stroke="#c0143c" stroke-width="0.6"/>
<polyline points="357.80,130.70 369.84,133.38 381.88,135.17 393.92,128.02 405.96,134.28" fill="none" stroke="#c0143c" stroke-width="0.9"/>
<circle cx="357.80" cy="130.70" r="0.90" fill="#c0143c" stroke="none" stroke-width="1"/>
<circle cx="369.84" cy="133.38" r="0.90" fill="#c0143c" stroke="none" stroke-width="1"/>
<circle cx="381.88" cy="135.17" r="0.90" fill="#c0143c" stroke="none" stroke-width="1"/>
<circle cx="393.92" cy="128.02" r="0.90" fill="#c0143c" stroke="none" stroke-width="1"/>
<circle cx="405.96" cy="134.28" r="0.90" fill="#c0143c" stroke="none" stroke-width="1"/>
<line x1="357.80" y1="127.12" x2="357.80" y2="134.28" stroke="#3aa63a" stroke-width="0.6"/>
<line x1="356.30" y1="127.12" x2="359.30" y2="127.12" stroke="#3aa63a" stroke-width="0.6"/>
<line x1="356.30" y1="134.28" x2="359.30" y2="134.28" stroke="#3aa63a" stroke-width="0.6"/>
<line x1="369.84" y1="119.97" x2="369.84" y2="127.12" stroke="#3aa63a" stroke-width="0.6"/>
<line x1="368.34" y1="119.97" x2="371.34" y2="119.97" stroke="#3aa63a" stroke-width="0.6"/>
<line x1="368.34" y1="127.12" x2="371.34" y2="127.12" stroke="#3aa63a" stroke-width="0.6"/>
<line x1="381.88" y1="100.30" x2="381.88" y2="105.67" stroke="#3aa63a" stroke-width="0.6"/>
<line x1="380.38" y1="100.30" x2="383.38" y2="100.30" stroke="#3aa63a" stroke-width="0.6"/>
<line x1="380.38" y1="105.67" x2="383.38" y2="105.67" stroke="#3aa63a" stroke-width="0.6"/>
<line x1="393.92" y1="86.00" x2="393.92" y2="89.58" stroke="#3aa63a" stroke-width="0.6"/>
<line x1="392.42" y1="86.00" x2="395.42" y2="86.00" stroke="#3aa63a" stroke-width="0.6"/>
<line x1="392.42" y1="89.58" x2="395.42" y2="89.58" stroke="#3aa63a" stroke-width="0.6"/>
<line x1="405.96" y1="77.06" x2="405.96" y2="82.42" stroke="#3aa63a" stroke-width="0.6"/>
<line x1="404.46" y1="77.06" x2="407.46" y2="77.06" stroke="#3aa63a" stroke-width="0.6"/>
<line x1="404.46" y1="82.42" x2="407.46" y2="82.42" stroke="#3aa63a" stroke-width="0.6"/>
<polyline points="357.80,130.70 369.84,123.55 381.88,102.99 393.92,87.79 405.96,79.74" fill="none" stroke="#3aa63a" stroke-width="0.9"/>
<circle cx="357.80" cy="130.70" r="0.90" fill="#3aa63a" stroke="none" stroke-width="1"/>
<circle cx="369.84" cy="123.55" r="0.90" fill="#3aa63a" stroke="none" stroke-width="1"/>
<circle cx="381.88" cy="102.99" r="0.90" fill="#3aa63a" stroke="none" stroke-width="1"/>
<circle cx="393.92" cy="87.79" r="0.90" fill="#3aa63a" stroke="none" stroke-width="1"/>
<circle cx="405.96" cy="79.74" r="0.90" fill="#3aa63a" stroke="none" stroke-width="1"/>
<rect x="378.23" y="96.90" width="1.60" height="1.60" fill="#2a2a2a" stroke="none" stroke-width="1"/>
<rect x="381.08" y="96.90" width="1.60" height="1.60" fill="#2a2a2a" stroke="none" stroke-width="1"/>
<rect x="383.93" y="96.90" width="1.60" height="1.60" fill="#2a2a2a" stroke="none" stroke-width="1"/>
<rect x="390.27" y="81.20" width="1.60" height="1.60" fill="#2a2a2a" stroke="none" stroke-width="1"/>
<rect x="393.12" y="81.20" width="1.60" height="1.60" fill="#2a2a2a" stroke="none" stroke-width="1"/>
<rect x="395.97" y="81.20" width="1.60" height="1.60" fill="#2a2a2a" stroke="none" stroke-width="1"/>
<rect x="400.89" y="71.60" width="1.60" height="1.60" fill="#2a2a2a" stroke="none" stroke-width="1"/>
<rect x="403.74" y="71.60" width="1.60" height="1.60" fill="#2a2a2a" stroke="none" stroke-width="1"/>
<rect x="406.59" y="71.60" width="1.60" height="1.60" fill="#2a2a2a" stroke="none" stroke-width="1"/>
<rect x="409.44" y="71.60" width="1.60" height="1.60" fill="#2a2a2a" stroke="none" stroke-width="1"/>
<line x1="426.20" y1="143.20" x2="426.20" y2="146.20" stroke="#333" stroke-width="0.9"/>
<text x="426.20" y="155.00" font-size="6.4" text-anchor="middle" fill="#383838" font-weight="normal" stroke="#383838" stroke-width="0.16">0</text>
<line x1="438.24" y1="143.20" x2="438.24" y2="146.20" stroke="#333" stroke-width="0.9"/>
<text x="438.24" y="155.00" font-size="6.4" text-anchor="middle" fill="#383838" font-weight="normal" stroke="#383838" stroke-width="0.16">2</text>
<line x1="450.28" y1="143.20" x2="450.28" y2="146.20" stroke="#333" stroke-width="0.9"/>
<text x="450.28" y="155.00" font-size="6.4" text-anchor="middle" fill="#383838" font-weight="normal" stroke="#383838" stroke-width="0.16">4</text>
<line x1="462.32" y1="143.20" x2="462.32" y2="146.20" stroke="#333" stroke-width="0.9"/>
<text x="462.32" y="155.00" font-size="6.4" text-anchor="middle" fill="#383838" font-weight="normal" stroke="#383838" stroke-width="0.16">6</text>
<line x1="474.36" y1="143.20" x2="474.36" y2="146.20" stroke="#333" stroke-width="0.9"/>
<text x="474.36" y="155.00" font-size="6.4" text-anchor="middle" fill="#383838" font-weight="normal" stroke="#383838" stroke-width="0.16">8</text>
<line x1="426.20" y1="128.91" x2="426.20" y2="132.49" stroke="#a8d890" stroke-width="0.6"/>
<line x1="424.70" y1="128.91" x2="427.70" y2="128.91" stroke="#a8d890" stroke-width="0.6"/>
<line x1="424.70" y1="132.49" x2="427.70" y2="132.49" stroke="#a8d890" stroke-width="0.6"/>
<line x1="438.24" y1="118.18" x2="438.24" y2="127.12" stroke="#a8d890" stroke-width="0.6"/>
<line x1="436.74" y1="118.18" x2="439.74" y2="118.18" stroke="#a8d890" stroke-width="0.6"/>
<line x1="436.74" y1="127.12" x2="439.74" y2="127.12" stroke="#a8d890" stroke-width="0.6"/>
<line x1="450.28" y1="131.59" x2="450.28" y2="140.53" stroke="#a8d890" stroke-width="0.6"/>
<line x1="448.78" y1="131.59" x2="451.78" y2="131.59" stroke="#a8d890" stroke-width="0.6"/>
<line x1="448.78" y1="140.53" x2="451.78" y2="140.53" stroke="#a8d890" stroke-width="0.6"/>
<line x1="462.32" y1="128.91" x2="462.32" y2="132.49" stroke="#a8d890" stroke-width="0.6"/>
<line x1="460.82" y1="128.91" x2="463.82" y2="128.91" stroke="#a8d890" stroke-width="0.6"/>
<line x1="460.82" y1="132.49" x2="463.82" y2="132.49" stroke="#a8d890" stroke-width="0.6"/>
<line x1="474.36" y1="128.02" x2="474.36" y2="136.96" stroke="#a8d890" stroke-width="0.6"/>
<line x1="472.86" y1="128.02" x2="475.86" y2="128.02" stroke="#a8d890" stroke-width="0.6"/>
<line x1="472.86" y1="136.96" x2="475.86" y2="136.96" stroke="#a8d890" stroke-width="0.6"/>
<polyline points="426.20,130.70 438.24,122.65 450.28,136.06 462.32,130.70 474.36,132.49" fill="none" stroke="#a8d890" stroke-width="0.9"/>
<circle cx="426.20" cy="130.70" r="0.90" fill="#a8d890" stroke="none" stroke-width="1"/>
<circle cx="438.24" cy="122.65" r="0.90" fill="#a8d890" stroke="none" stroke-width="1"/>
<circle cx="450.28" cy="136.06" r="0.90" fill="#a8d890" stroke="none" stroke-width="1"/>
<circle cx="462.32" cy="130.70" r="0.90" fill="#a8d890" stroke="none" stroke-width="1"/>
<circle cx="474.36" cy="132.49" r="0.90" fill="#a8d890" stroke="none" stroke-width="1"/>
<line x1="426.20" y1="128.91" x2="426.20" y2="132.49" stroke="#1f4f96" stroke-width="0.6"/>
<line x1="424.70" y1="128.91" x2="427.70" y2="128.91" stroke="#1f4f96" stroke-width="0.6"/>
<line x1="424.70" y1="132.49" x2="427.70" y2="132.49" stroke="#1f4f96" stroke-width="0.6"/>
<line x1="438.24" y1="128.91" x2="438.24" y2="132.49" stroke="#1f4f96" stroke-width="0.6"/>
<line x1="436.74" y1="128.91" x2="439.74" y2="128.91" stroke="#1f4f96" stroke-width="0.6"/>
<line x1="436.74" y1="132.49" x2="439.74" y2="132.49" stroke="#1f4f96" stroke-width="0.6"/>
<line x1="450.28" y1="127.12" x2="450.28" y2="134.28" stroke="#1f4f96" stroke-width="0.6"/>
<line x1="448.78" y1="127.12" x2="451.78" y2="127.12" stroke="#1f4f96" stroke-width="0.6"/>
<line x1="448.78" y1="134.28" x2="451.78" y2="134.28" stroke="#1f4f96" stroke-width="0.6"/>
<line x1="462.32" y1="128.91" x2="462.32" y2="132.49" stroke="#1f4f96" stroke-width="0.6"/>
<line x1="460.82" y1="128.91" x2="463.82" y2="128.91" stroke="#1f4f96" stroke-width="0.6"/>
<line x1="460.82" y1="132.49" x2="463.82" y2="132.49" stroke="#1f4f96" stroke-width="0.6"/>
<line x1="474.36" y1="128.02" x2="474.36" y2="133.38" stroke="#1f4f96" stroke-width="0.6"/>
<line x1="472.86" y1="128.02" x2="475.86" y2="128.02" stroke="#1f4f96" stroke-width="0.6"/>
<line x1="472.86" y1="133.38" x2="475.86" y2="133.38" stroke="#1f4f96" stroke-width="0.6"/>
<polyline points="426.20,130.70 438.24,130.70 450.28,130.70 462.32,130.70 474.36,130.70" fill="none" stroke="#1f4f96" stroke-width="0.9"/>
<circle cx="426.20" cy="130.70" r="0.90" fill="#1f4f96" stroke="none" stroke-width="1"/>
<circle cx="438.24" cy="130.70" r="0.90" fill="#1f4f96" stroke="none" stroke-width="1"/>
<circle cx="450.28" cy="130.70" r="0.90" fill="#1f4f96" stroke="none" stroke-width="1"/>
<circle cx="462.32" cy="130.70" r="0.90" fill="#1f4f96" stroke="none" stroke-width="1"/>
<circle cx="474.36" cy="130.70" r="0.90" fill="#1f4f96" stroke="none" stroke-width="1"/>
<line x1="426.20" y1="128.91" x2="426.20" y2="132.49" stroke="#c0143c" stroke-width="0.6"/>
<line x1="424.70" y1="128.91" x2="427.70" y2="128.91" stroke="#c0143c" stroke-width="0.6"/>
<line x1="424.70" y1="132.49" x2="427.70" y2="132.49" stroke="#c0143c" stroke-width="0.6"/>
<line x1="438.24" y1="123.55" x2="438.24" y2="130.70" stroke="#c0143c" stroke-width="0.6"/>
<line x1="436.74" y1="123.55" x2="439.74" y2="123.55" stroke="#c0143c" stroke-width="0.6"/>
<line x1="436.74" y1="130.70" x2="439.74" y2="130.70" stroke="#c0143c" stroke-width="0.6"/>
<line x1="450.28" y1="129.81" x2="450.28" y2="136.96" stroke="#c0143c" stroke-width="0.6"/>
<line x1="448.78" y1="129.81" x2="451.78" y2="129.81" stroke="#c0143c" stroke-width="0.6"/>
<line x1="448.78" y1="136.96" x2="451.78" y2="136.96" stroke="#c0143c" stroke-width="0.6"/>
<line x1="462.32" y1="119.97" x2="462.32" y2="128.91" stroke="#c0143c" stroke-width="0.6"/>
<line x1="460.82" y1="119.97" x2="463.82" y2="119.97" stroke="#c0143c" stroke-width="0.6"/>
<line x1="460.82" y1="128.91" x2="463.82" y2="128.91" stroke="#c0143c" stroke-width="0.6"/>
<line x1="474.36" y1="123.55" x2="474.36" y2="137.85" stroke="#c0143c" stroke-width="0.6"/>
<line x1="472.86" y1="123.55" x2="475.86" y2="123.55" stroke="#c0143c" stroke-width="0.6"/>
<line x1="472.86" y1="137.85" x2="475.86" y2="137.85" stroke="#c0143c" stroke-width="0.6"/>
<polyline points="426.20,130.70 438.24,127.12 450.28,133.38 462.32,124.44 474.36,130.70" fill="none" stroke="#c0143c" stroke-width="0.9"/>
<circle cx="426.20" cy="130.70" r="0.90" fill="#c0143c" stroke="none" stroke-width="1"/>
<circle cx="438.24" cy="127.12" r="0.90" fill="#c0143c" stroke="none" stroke-width="1"/>
<circle cx="450.28" cy="133.38" r="0.90" fill="#c0143c" stroke="none" stroke-width="1"/>
<circle cx="462.32" cy="124.44" r="0.90" fill="#c0143c" stroke="none" stroke-width="1"/>
<circle cx="474.36" cy="130.70" r="0.90" fill="#c0143c" stroke="none" stroke-width="1"/>
<line x1="426.20" y1="128.91" x2="426.20" y2="132.49" stroke="#3aa63a" stroke-width="0.6"/>
<line x1="424.70" y1="128.91" x2="427.70" y2="128.91" stroke="#3aa63a" stroke-width="0.6"/>
<line x1="424.70" y1="132.49" x2="427.70" y2="132.49" stroke="#3aa63a" stroke-width="0.6"/>
<line x1="438.24" y1="113.71" x2="438.24" y2="120.87" stroke="#3aa63a" stroke-width="0.6"/>
<line x1="436.74" y1="113.71" x2="439.74" y2="113.71" stroke="#3aa63a" stroke-width="0.6"/>
<line x1="436.74" y1="120.87" x2="439.74" y2="120.87" stroke="#3aa63a" stroke-width="0.6"/>
<line x1="450.28" y1="104.77" x2="450.28" y2="108.35" stroke="#3aa63a" stroke-width="0.6"/>
<line x1="448.78" y1="104.77" x2="451.78" y2="104.77" stroke="#3aa63a" stroke-width="0.6"/>
<line x1="448.78" y1="108.35" x2="451.78" y2="108.35" stroke="#3aa63a" stroke-width="0.6"/>
<line x1="462.32" y1="88.68" x2="462.32" y2="92.26" stroke="#3aa63a" stroke-width="0.6"/>
<line x1="460.82" y1="88.68" x2="463.82" y2="88.68" stroke="#3aa63a" stroke-width="0.6"/>
<line x1="460.82" y1="92.26" x2="463.82" y2="92.26" stroke="#3aa63a" stroke-width="0.6"/>
<line x1="474.36" y1="78.85" x2="474.36" y2="80.64" stroke="#3aa63a" stroke-width="0.6"/>
<line x1="472.86" y1="78.85" x2="475.86" y2="78.85" stroke="#3aa63a" stroke-width="0.6"/>
<line x1="472.86" y1="80.64" x2="475.86" y2="80.64" stroke="#3aa63a" stroke-width="0.6"/>
<polyline points="426.20,130.70 438.24,117.29 450.28,106.56 462.32,90.47 474.36,79.74" fill="none" stroke="#3aa63a" stroke-width="0.9"/>
<circle cx="426.20" cy="130.70" r="0.90" fill="#3aa63a" stroke="none" stroke-width="1"/>
<circle cx="438.24" cy="117.29" r="0.90" fill="#3aa63a" stroke="none" stroke-width="1"/>
<circle cx="450.28" cy="106.56" r="0.90" fill="#3aa63a" stroke="none" stroke-width="1"/>
<circle cx="462.32" cy="90.47" r="0.90" fill="#3aa63a" stroke="none" stroke-width="1"/>
<circle cx="474.36" cy="79.74" r="0.90" fill="#3aa63a" stroke="none" stroke-width="1"/>
<rect x="449.48" y="100.90" width="1.60" height="1.60" fill="#2a2a2a" stroke="none" stroke-width="1"/>
<rect x="457.25" y="84.80" width="1.60" height="1.60" fill="#2a2a2a" stroke="none" stroke-width="1"/>
<rect x="460.10" y="84.80" width="1.60" height="1.60" fill="#2a2a2a" stroke="none" stroke-width="1"/>
<rect x="462.94" y="84.80" width="1.60" height="1.60" fill="#2a2a2a" stroke="none" stroke-width="1"/>
<rect x="465.80" y="84.80" width="1.60" height="1.60" fill="#2a2a2a" stroke="none" stroke-width="1"/>
<rect x="469.29" y="74.00" width="1.60" height="1.60" fill="#2a2a2a" stroke="none" stroke-width="1"/>
<rect x="472.14" y="74.00" width="1.60" height="1.60" fill="#2a2a2a" stroke="none" stroke-width="1"/>
<rect x="474.99" y="74.00" width="1.60" height="1.60" fill="#2a2a2a" stroke="none" stroke-width="1"/>
<rect x="477.84" y="74.00" width="1.60" height="1.60" fill="#2a2a2a" stroke="none" stroke-width="1"/>
<text x="382.00" y="167.60" font-size="8.5" text-anchor="middle" fill="#383838" font-weight="normal" textLength="14.00" lengthAdjust="spacingAndGlyphs" stroke="#383838" stroke-width="0.16">Days</text>
<g transform="translate(249.30,91.70) rotate(-90)"><text x="0" y="0" font-size="7.3" text-anchor="middle" fill="#383838" stroke="#383838" stroke-width="0.16" textLength="73.7" lengthAdjust="spacingAndGlyphs">% Proliferation inhibition</text></g>
<g transform="translate(259.00,90.10) rotate(-90)"><text x="0" y="0" font-size="7.3" text-anchor="middle" fill="#383838" stroke="#383838" stroke-width="0.16" textLength="86.2" lengthAdjust="spacingAndGlyphs">(vs. shRNA-CT W/O Dox cells)</text></g>
<text x="282.40" y="177.10" font-size="6.4" text-anchor="end" fill="#333" font-weight="normal" textLength="22.80" lengthAdjust="spacingAndGlyphs" stroke="#333" stroke-width="0.16">shRNA:</text>
<text x="282.40" y="184.10" font-size="6.4" text-anchor="end" fill="#333" font-weight="normal" textLength="13.70" lengthAdjust="spacingAndGlyphs" stroke="#333" stroke-width="0.16">Dox:</text>
<text x="297.55" y="177.00" font-size="6.6" text-anchor="middle" fill="#333" font-weight="normal" stroke="#333" stroke-width="0.16">CT</text>
<text x="329.40" y="177.00" font-size="6.6" text-anchor="middle" fill="#333" font-weight="normal" stroke="#333" stroke-width="0.16">KD</text>
<line x1="284.30" y1="178.30" x2="310.80" y2="178.30" stroke="#333" stroke-width="0.6"/>
<line x1="312.20" y1="178.30" x2="343.60" y2="178.30" stroke="#333" stroke-width="0.6"/>
<line x1="288.80" y1="182.50" x2="291.60" y2="182.50" stroke="#333" stroke-width="0.6"/>
<line x1="303.50" y1="182.50" x2="306.30" y2="182.50" stroke="#333" stroke-width="0.6"/>
<line x1="304.90" y1="181.10" x2="304.90" y2="183.90" stroke="#333" stroke-width="0.6"/>
<line x1="318.50" y1="182.50" x2="321.30" y2="182.50" stroke="#333" stroke-width="0.6"/>
<line x1="334.50" y1="182.50" x2="337.30" y2="182.50" stroke="#333" stroke-width="0.6"/>
<line x1="335.90" y1="181.10" x2="335.90" y2="183.90" stroke="#333" stroke-width="0.6"/>
<rect x="282.80" y="186.30" width="61.80" height="11.90" fill="#f7f7f7" stroke="#333" stroke-width="0.75"/>
<rect x="282.80" y="200.40" width="61.80" height="11.50" fill="#f7f7f7" stroke="#333" stroke-width="0.75"/>
<rect x="283.60" y="190.50" width="13.20" height="3.20" rx="1.60" fill="#3a3a3a" filter="url(#blur06)"/>
<rect x="283.60" y="204.25" width="13.20" height="2.90" rx="1.45" fill="#3a3a3a" filter="url(#blur06)"/>
<rect x="298.30" y="190.50" width="13.20" height="3.20" rx="1.60" fill="#5a5a5a" filter="url(#blur06)"/>
<rect x="298.30" y="204.25" width="13.20" height="2.90" rx="1.45" fill="#505050" filter="url(#blur06)"/>
<rect x="313.30" y="190.50" width="13.20" height="3.20" rx="1.60" fill="#686868" filter="url(#blur06)"/>
<rect x="313.30" y="204.25" width="13.20" height="2.90" rx="1.45" fill="#606060" filter="url(#blur06)"/>
<rect x="329.30" y="190.50" width="13.20" height="3.20" rx="1.60" fill="#c4c4c4" filter="url(#blur06)"/>
<rect x="329.30" y="204.25" width="13.20" height="2.90" rx="1.45" fill="#606060" filter="url(#blur06)"/>
<text x="367.80" y="177.00" font-size="6.6" text-anchor="middle" fill="#333" font-weight="normal" stroke="#333" stroke-width="0.16">CT</text>
<text x="399.75" y="177.00" font-size="6.6" text-anchor="middle" fill="#333" font-weight="normal" stroke="#333" stroke-width="0.16">KD</text>
<line x1="354.50" y1="178.30" x2="381.10" y2="178.30" stroke="#333" stroke-width="0.6"/>
<line x1="382.49" y1="178.30" x2="414.00" y2="178.30" stroke="#333" stroke-width="0.6"/>
<line x1="359.02" y1="182.50" x2="361.82" y2="182.50" stroke="#333" stroke-width="0.6"/>
<line x1="373.77" y1="182.50" x2="376.57" y2="182.50" stroke="#333" stroke-width="0.6"/>
<line x1="375.17" y1="181.10" x2="375.17" y2="183.90" stroke="#333" stroke-width="0.6"/>
<line x1="388.82" y1="182.50" x2="391.62" y2="182.50" stroke="#333" stroke-width="0.6"/>
<line x1="404.87" y1="182.50" x2="407.67" y2="182.50" stroke="#333" stroke-width="0.6"/>
<line x1="406.27" y1="181.10" x2="406.27" y2="183.90" stroke="#333" stroke-width="0.6"/>
<rect x="353.00" y="186.30" width="62.00" height="11.90" fill="#f7f7f7" stroke="#333" stroke-width="0.75"/>
<rect x="353.00" y="200.40" width="62.00" height="11.50" fill="#f7f7f7" stroke="#333" stroke-width="0.75"/>
<rect x="353.82" y="190.50" width="13.20" height="3.20" rx="1.60" fill="#606060" filter="url(#blur06)"/>
<rect x="353.82" y="204.25" width="13.20" height="2.90" rx="1.45" fill="#3a3a3a" filter="url(#blur06)"/>
<rect x="368.57" y="190.50" width="13.20" height="3.20" rx="1.60" fill="#404040" filter="url(#blur06)"/>
<rect x="368.57" y="204.25" width="13.20" height="2.90" rx="1.45" fill="#4a4a4a" filter="url(#blur06)"/>
<rect x="383.62" y="190.50" width="13.20" height="3.20" rx="1.60" fill="#404040" filter="url(#blur06)"/>
<rect x="383.62" y="204.25" width="13.20" height="2.90" rx="1.45" fill="#707070" filter="url(#blur06)"/>
<rect x="399.67" y="190.50" width="13.20" height="3.20" rx="1.60" fill="#b4b4b4" filter="url(#blur06)"/>
<rect x="399.67" y="204.25" width="13.20" height="2.90" rx="1.45" fill="#6a6a6a" filter="url(#blur06)"/>
<text x="439.89" y="177.00" font-size="6.6" text-anchor="middle" fill="#333" font-weight="normal" stroke="#333" stroke-width="0.16">CT</text>
<text x="471.01" y="177.00" font-size="6.6" text-anchor="middle" fill="#333" font-weight="normal" stroke="#333" stroke-width="0.16">KD</text>
<line x1="427.00" y1="178.30" x2="452.78" y2="178.30" stroke="#333" stroke-width="0.6"/>
<line x1="454.21" y1="178.30" x2="484.80" y2="178.30" stroke="#333" stroke-width="0.6"/>
<line x1="431.32" y1="182.50" x2="434.12" y2="182.50" stroke="#333" stroke-width="0.6"/>
<line x1="445.66" y1="182.50" x2="448.46" y2="182.50" stroke="#333" stroke-width="0.6"/>
<line x1="447.06" y1="181.10" x2="447.06" y2="183.90" stroke="#333" stroke-width="0.6"/>
<line x1="460.30" y1="182.50" x2="463.10" y2="182.50" stroke="#333" stroke-width="0.6"/>
<line x1="475.91" y1="182.50" x2="478.71" y2="182.50" stroke="#333" stroke-width="0.6"/>
<line x1="477.31" y1="181.10" x2="477.31" y2="183.90" stroke="#333" stroke-width="0.6"/>
<rect x="425.50" y="186.30" width="60.30" height="11.90" fill="#f7f7f7" stroke="#333" stroke-width="0.75"/>
<rect x="425.50" y="200.40" width="60.30" height="11.50" fill="#f7f7f7" stroke="#333" stroke-width="0.75"/>
<rect x="426.12" y="190.50" width="13.20" height="3.20" rx="1.60" fill="#2a2a2a" filter="url(#blur06)"/>
<rect x="426.12" y="204.25" width="13.20" height="2.90" rx="1.45" fill="#1a1a1a" filter="url(#blur06)"/>
<rect x="440.46" y="190.50" width="13.20" height="3.20" rx="1.60" fill="#2e2e2e" filter="url(#blur06)"/>
<rect x="440.46" y="204.25" width="13.20" height="2.90" rx="1.45" fill="#222" filter="url(#blur06)"/>
<rect x="455.10" y="190.50" width="13.20" height="3.20" rx="1.60" fill="#3a3a3a" filter="url(#blur06)"/>
<rect x="455.10" y="204.25" width="13.20" height="2.90" rx="1.45" fill="#2a2a2a" filter="url(#blur06)"/>
<rect x="470.71" y="190.50" width="13.20" height="3.20" rx="1.60" fill="#8a8a8a" filter="url(#blur06)"/>
<rect x="470.71" y="204.25" width="13.20" height="2.90" rx="1.45" fill="#2a2a2a" filter="url(#blur06)"/>
<text x="276.20" y="193.80" font-size="6.6" text-anchor="end" fill="#333" font-weight="normal" stroke="#333" stroke-width="0.16">49</text>
<text x="276.20" y="207.60" font-size="6.6" text-anchor="end" fill="#333" font-weight="normal" stroke="#333" stroke-width="0.16">42</text>
<line x1="278.80" y1="192.10" x2="282.80" y2="192.10" stroke="#333" stroke-width="0.8"/>
<line x1="278.80" y1="205.80" x2="282.80" y2="205.80" stroke="#333" stroke-width="0.8"/>
<text x="490.60" y="194.00" font-size="6.6" text-anchor="start" fill="#333" font-weight="normal" textLength="19.20" lengthAdjust="spacingAndGlyphs" stroke="#333" stroke-width="0.16">Rpn10</text>
<text x="490.60" y="207.80" font-size="6.6" text-anchor="start" fill="#333" font-weight="normal" textLength="19.20" lengthAdjust="spacingAndGlyphs" stroke="#333" stroke-width="0.16">β-actin</text>
<text x="0.30" y="276.80" font-size="11.4" text-anchor="start" fill="#111" font-weight="bold">C</text>
<rect x="34.50" y="280.60" width="151.80" height="9.40" fill="#6c6c6c" stroke="none" stroke-width="1"/>
<text x="110.20" y="287.60" font-size="6.3" text-anchor="middle" fill="#fff" font-weight="bold" textLength="19.60" lengthAdjust="spacingAndGlyphs">AMO1</text>
<line x1="40.10" y1="307.50" x2="40.10" y2="400.50" stroke="#333" stroke-width="1.2"/>
<line x1="39.50" y1="400.00" x2="176.60" y2="400.00" stroke="#333" stroke-width="1.2"/>
<line x1="37.00" y1="392.00" x2="40.00" y2="392.00" stroke="#333" stroke-width="0.9"/>
<text x="34.40" y="394.30" font-size="6.6" text-anchor="end" fill="#383838" font-weight="normal" stroke="#383838" stroke-width="0.16">0</text>
<line x1="37.00" y1="371.48" x2="40.00" y2="371.48" stroke="#333" stroke-width="0.9"/>
<text x="34.40" y="373.78" font-size="6.6" text-anchor="end" fill="#383838" font-weight="normal" stroke="#383838" stroke-width="0.16">25</text>
<line x1="37.00" y1="350.95" x2="40.00" y2="350.95" stroke="#333" stroke-width="0.9"/>
<text x="34.40" y="353.25" font-size="6.6" text-anchor="end" fill="#383838" font-weight="normal" stroke="#383838" stroke-width="0.16">50</text>
<line x1="37.00" y1="330.43" x2="40.00" y2="330.43" stroke="#333" stroke-width="0.9"/>
<text x="34.40" y="332.73" font-size="6.6" text-anchor="end" fill="#383838" font-weight="normal" stroke="#383838" stroke-width="0.16">75</text>
<line x1="37.00" y1="309.90" x2="40.00" y2="309.90" stroke="#333" stroke-width="0.9"/>
<text x="34.40" y="312.20" font-size="6.6" text-anchor="end" fill="#383838" font-weight="normal" stroke="#383838" stroke-width="0.16">100</text>
<line x1="40.00" y1="400.00" x2="40.00" y2="403.00" stroke="#333" stroke-width="0.9"/>
<text x="40.00" y="411.40" font-size="6.6" text-anchor="middle" fill="#383838" font-weight="normal" stroke="#383838" stroke-width="0.16">0</text>
<line x1="84.86" y1="400.00" x2="84.86" y2="403.00" stroke="#333" stroke-width="0.9"/>
<text x="84.86" y="411.40" font-size="6.6" text-anchor="middle" fill="#383838" font-weight="normal" stroke="#383838" stroke-width="0.16">2</text>
<line x1="129.72" y1="400.00" x2="129.72" y2="403.00" stroke="#333" stroke-width="0.9"/>
<text x="129.72" y="411.40" font-size="6.6" text-anchor="middle" fill="#383838" font-weight="normal" stroke="#383838" stroke-width="0.16">4</text>
<line x1="174.58" y1="400.00" x2="174.58" y2="403.00" stroke="#333" stroke-width="0.9"/>
<text x="174.58" y="411.40" font-size="6.6" text-anchor="middle" fill="#383838" font-weight="normal" stroke="#383838" stroke-width="0.16">6</text>
<text x="108.85" y="423.30" font-size="8.5" text-anchor="middle" fill="#383838" font-weight="normal" textLength="13.90" lengthAdjust="spacingAndGlyphs" stroke="#383838" stroke-width="0.16">Days</text>
<g transform="translate(7.30,353.60) rotate(-90)"><text x="0" y="0" font-size="7.7" text-anchor="middle" fill="#383838" stroke="#383838" stroke-width="0.16" textLength="75.3" lengthAdjust="spacingAndGlyphs">% Proliferation inhibition</text></g>
<g transform="translate(17.00,354.60) rotate(-90)"><text x="0" y="0" font-size="7.7" text-anchor="middle" fill="#383838" stroke="#383838" stroke-width="0.16" textLength="64.1" lengthAdjust="spacingAndGlyphs">(vs. sgCT +pEV cells)</text></g>
<line x1="129.72" y1="377.14" x2="129.72" y2="379.60" stroke="#1f3f78" stroke-width="0.7"/>
<line x1="128.12" y1="377.14" x2="131.32" y2="377.14" stroke="#1f3f78" stroke-width="0.7"/>
<line x1="128.12" y1="379.60" x2="131.32" y2="379.60" stroke="#1f3f78" stroke-width="0.7"/>
<line x1="174.58" y1="377.55" x2="174.58" y2="379.19" stroke="#1f3f78" stroke-width="0.7"/>
<line x1="172.98" y1="377.55" x2="176.18" y2="377.55" stroke="#1f3f78" stroke-width="0.7"/>
<line x1="172.98" y1="379.19" x2="176.18" y2="379.19" stroke="#1f3f78" stroke-width="0.7"/>
<polyline points="40.00,392.00 84.86,392.00 129.72,378.37 174.58,378.37" fill="none" stroke="#1f3f78" stroke-width="1.4"/>
<circle cx="40.00" cy="392.00" r="1.40" fill="#1f3f78" stroke="none" stroke-width="1"/>
<circle cx="84.86" cy="392.00" r="1.40" fill="#1f3f78" stroke="none" stroke-width="1"/>
<circle cx="129.72" cy="378.37" r="1.40" fill="#1f3f78" stroke="none" stroke-width="1"/>
<circle cx="174.58" cy="378.37" r="1.40" fill="#1f3f78" stroke="none" stroke-width="1"/>
<line x1="40.00" y1="390.36" x2="40.00" y2="393.64" stroke="#3aa83a" stroke-width="0.7"/>
<line x1="38.40" y1="390.36" x2="41.60" y2="390.36" stroke="#3aa83a" stroke-width="0.7"/>
<line x1="38.40" y1="393.64" x2="41.60" y2="393.64" stroke="#3aa83a" stroke-width="0.7"/>
<line x1="84.86" y1="379.36" x2="84.86" y2="389.20" stroke="#3aa83a" stroke-width="0.7"/>
<line x1="83.26" y1="379.36" x2="86.46" y2="379.36" stroke="#3aa83a" stroke-width="0.7"/>
<line x1="83.26" y1="389.20" x2="86.46" y2="389.20" stroke="#3aa83a" stroke-width="0.7"/>
<line x1="129.72" y1="340.03" x2="129.72" y2="341.67" stroke="#3aa83a" stroke-width="0.7"/>
<line x1="128.12" y1="340.03" x2="131.32" y2="340.03" stroke="#3aa83a" stroke-width="0.7"/>
<line x1="128.12" y1="341.67" x2="131.32" y2="341.67" stroke="#3aa83a" stroke-width="0.7"/>
<line x1="174.58" y1="318.28" x2="174.58" y2="319.92" stroke="#3aa83a" stroke-width="0.7"/>
<line x1="172.98" y1="318.28" x2="176.18" y2="318.28" stroke="#3aa83a" stroke-width="0.7"/>
<line x1="172.98" y1="319.92" x2="176.18" y2="319.92" stroke="#3aa83a" stroke-width="0.7"/>
<polyline points="40.00,392.00 84.86,384.28 129.72,340.85 174.58,319.10" fill="none" stroke="#3aa83a" stroke-width="1.3"/>
<circle cx="40.00" cy="392.00" r="1.40" fill="#3aa83a" stroke="none" stroke-width="1"/>
<circle cx="84.86" cy="384.28" r="1.40" fill="#3aa83a" stroke="none" stroke-width="1"/>
<circle cx="129.72" cy="340.85" r="1.40" fill="#3aa83a" stroke="none" stroke-width="1"/>
<circle cx="174.58" cy="319.10" r="1.40" fill="#3aa83a" stroke="none" stroke-width="1"/>
<line x1="40.00" y1="390.77" x2="40.00" y2="393.23" stroke="#c02850" stroke-width="0.7"/>
<line x1="38.40" y1="390.77" x2="41.60" y2="390.77" stroke="#c02850" stroke-width="0.7"/>
<line x1="38.40" y1="393.23" x2="41.60" y2="393.23" stroke="#c02850" stroke-width="0.7"/>
<line x1="84.86" y1="389.95" x2="84.86" y2="394.05" stroke="#c02850" stroke-width="0.7"/>
<line x1="83.26" y1="389.95" x2="86.46" y2="389.95" stroke="#c02850" stroke-width="0.7"/>
<line x1="83.26" y1="394.05" x2="86.46" y2="394.05" stroke="#c02850" stroke-width="0.7"/>
<line x1="129.72" y1="387.08" x2="129.72" y2="396.92" stroke="#c02850" stroke-width="0.7"/>
<line x1="128.12" y1="387.08" x2="131.32" y2="387.08" stroke="#c02850" stroke-width="0.7"/>
<line x1="128.12" y1="396.92" x2="131.32" y2="396.92" stroke="#c02850" stroke-width="0.7"/>
<line x1="174.58" y1="389.54" x2="174.58" y2="394.46" stroke="#c02850" stroke-width="0.7"/>
<line x1="172.98" y1="389.54" x2="176.18" y2="389.54" stroke="#c02850" stroke-width="0.7"/>
<line x1="172.98" y1="394.46" x2="176.18" y2="394.46" stroke="#c02850" stroke-width="0.7"/>
<polyline points="40.00,392.00 84.86,392.00 129.72,392.00 174.58,392.00" fill="none" stroke="#c02850" stroke-width="1.5"/>
<rect x="38.40" y="390.40" width="3.20" height="3.20" fill="#c02850" stroke="none" stroke-width="1"/>
<rect x="83.26" y="390.40" width="3.20" height="3.20" fill="#c02850" stroke="none" stroke-width="1"/>
<rect x="128.12" y="390.40" width="3.20" height="3.20" fill="#c02850" stroke="none" stroke-width="1"/>
<rect x="172.98" y="390.40" width="3.20" height="3.20" fill="#c02850" stroke="none" stroke-width="1"/>
<rect x="81.21" y="375.00" width="1.60" height="1.60" fill="#2a2a2a" stroke="none" stroke-width="1"/>
<rect x="84.06" y="375.00" width="1.60" height="1.60" fill="#2a2a2a" stroke="none" stroke-width="1"/>
<rect x="86.91" y="375.00" width="1.60" height="1.60" fill="#2a2a2a" stroke="none" stroke-width="1"/>
<text x="88.50" y="388.00" font-size="6.4" text-anchor="start" fill="#383838" font-weight="normal" stroke="#383838" stroke-width="0.16">ns</text>
<rect x="124.64" y="335.20" width="1.60" height="1.60" fill="#2a2a2a" stroke="none" stroke-width="1"/>
<rect x="127.49" y="335.20" width="1.60" height="1.60" fill="#2a2a2a" stroke="none" stroke-width="1"/>
<rect x="130.34" y="335.20" width="1.60" height="1.60" fill="#2a2a2a" stroke="none" stroke-width="1"/>
<rect x="133.19" y="335.20" width="1.60" height="1.60" fill="#2a2a2a" stroke="none" stroke-width="1"/>
<rect x="169.50" y="313.60" width="1.60" height="1.60" fill="#2a2a2a" stroke="none" stroke-width="1"/>
<rect x="172.35" y="313.60" width="1.60" height="1.60" fill="#2a2a2a" stroke="none" stroke-width="1"/>
<rect x="175.20" y="313.60" width="1.60" height="1.60" fill="#2a2a2a" stroke="none" stroke-width="1"/>
<rect x="178.05" y="313.60" width="1.60" height="1.60" fill="#2a2a2a" stroke="none" stroke-width="1"/>
<rect x="124.64" y="372.70" width="1.60" height="1.60" fill="#2a2a2a" stroke="none" stroke-width="1"/>
<rect x="127.49" y="372.70" width="1.60" height="1.60" fill="#2a2a2a" stroke="none" stroke-width="1"/>
<rect x="130.34" y="372.70" width="1.60" height="1.60" fill="#2a2a2a" stroke="none" stroke-width="1"/>
<rect x="133.19" y="372.70" width="1.60" height="1.60" fill="#2a2a2a" stroke="none" stroke-width="1"/>
<rect x="169.50" y="372.70" width="1.60" height="1.60" fill="#2a2a2a" stroke="none" stroke-width="1"/>
<rect x="172.35" y="372.70" width="1.60" height="1.60" fill="#2a2a2a" stroke="none" stroke-width="1"/>
<rect x="175.20" y="372.70" width="1.60" height="1.60" fill="#2a2a2a" stroke="none" stroke-width="1"/>
<rect x="178.05" y="372.70" width="1.60" height="1.60" fill="#2a2a2a" stroke="none" stroke-width="1"/>
<text x="182.40" y="322.40" font-size="6.6" text-anchor="start" fill="#333" font-weight="normal" textLength="29.00" lengthAdjust="spacingAndGlyphs" stroke="#333" stroke-width="0.16">iKO +pEV</text>
<text x="182.40" y="380.10" font-size="6.6" text-anchor="start" fill="#333" font-weight="normal" textLength="36.00" lengthAdjust="spacingAndGlyphs" stroke="#333" stroke-width="0.16">iKO +Rpn10</text>
<text x="182.40" y="393.90" font-size="6.6" text-anchor="start" fill="#333" font-weight="normal" textLength="33.00" lengthAdjust="spacingAndGlyphs" stroke="#333" stroke-width="0.16">sgCT +pEV</text>
<text x="45.50" y="302.60" font-size="6.2" text-anchor="start" fill="#333" font-weight="normal" textLength="11.50" lengthAdjust="spacingAndGlyphs" stroke="#333" stroke-width="0.16">kDa</text>
<line x1="64.20" y1="299.50" x2="71.20" y2="299.50" stroke="#d87a98" stroke-width="0.9"/>
<circle cx="67.70" cy="299.50" r="0.90" fill="#d87a98" stroke="none" stroke-width="1"/>
<line x1="75.40" y1="299.50" x2="82.40" y2="299.50" stroke="#8cc88c" stroke-width="0.9"/>
<circle cx="78.90" cy="299.50" r="0.90" fill="#8cc88c" stroke="none" stroke-width="1"/>
<line x1="86.70" y1="299.50" x2="93.70" y2="299.50" stroke="#7a8ab8" stroke-width="0.9"/>
<circle cx="90.20" cy="299.50" r="0.90" fill="#7a8ab8" stroke="none" stroke-width="1"/>
<rect x="60.60" y="304.20" width="36.40" height="14.20" fill="#f7f7f7" stroke="#333" stroke-width="0.75"/>
<rect x="60.60" y="321.60" width="36.40" height="8.10" fill="#f7f7f7" stroke="#333" stroke-width="0.75"/>
<rect x="62.20" y="311.95" width="10.00" height="3.70" rx="1.85" fill="#161616" filter="url(#blur05)"/>
<rect x="85.60" y="306.80" width="10.00" height="4.40" rx="2.20" fill="#161616" filter="url(#blur05)"/>
<rect x="62.20" y="324.35" width="10.00" height="2.50" rx="1.25" fill="#2a2a2a" filter="url(#blur05)"/>
<rect x="73.80" y="324.35" width="10.00" height="2.50" rx="1.25" fill="#2a2a2a" filter="url(#blur05)"/>
<rect x="85.40" y="324.35" width="10.00" height="2.50" rx="1.25" fill="#2a2a2a" filter="url(#blur05)"/>
<text x="55.60" y="312.60" font-size="6.6" text-anchor="end" fill="#333" font-weight="normal" stroke="#333" stroke-width="0.16">50</text>
<text x="55.00" y="328.30" font-size="6.6" text-anchor="end" fill="#333" font-weight="normal" stroke="#333" stroke-width="0.16">42</text>
<line x1="56.50" y1="311.30" x2="60.75" y2="311.30" stroke="#333" stroke-width="0.8"/>
<line x1="56.50" y1="326.00" x2="60.75" y2="326.00" stroke="#333" stroke-width="0.8"/>
<text x="98.50" y="310.60" font-size="6.6" text-anchor="start" fill="#333" font-weight="normal" textLength="49.00" lengthAdjust="spacingAndGlyphs" stroke="#333" stroke-width="0.16">V5-tagged Rpn10</text>
<text x="98.50" y="317.00" font-size="6.6" text-anchor="start" fill="#333" font-weight="normal" textLength="19.00" lengthAdjust="spacingAndGlyphs" stroke="#333" stroke-width="0.16">Rpn10</text>
<text x="98.50" y="328.00" font-size="6.6" text-anchor="start" fill="#333" font-weight="normal" textLength="19.50" lengthAdjust="spacingAndGlyphs" stroke="#333" stroke-width="0.16">β-actin</text>
<text x="236.60" y="277.00" font-size="11.4" text-anchor="start" fill="#111" font-weight="bold">D</text>
<rect x="270.20" y="280.60" width="94.60" height="9.60" fill="#6c6c6c" stroke="none" stroke-width="1"/>
<text x="317.50" y="287.80" font-size="6.3" text-anchor="middle" fill="#fff" font-weight="bold" textLength="20.00" lengthAdjust="spacingAndGlyphs">AMO1</text>
<circle cx="281.75" cy="295.50" r="1.00" fill="#8e1430" stroke="none" stroke-width="1"/>
<text x="286.00" y="297.80" font-size="6.6" text-anchor="start" fill="#383838" font-weight="normal" textLength="50.50" lengthAdjust="spacingAndGlyphs" stroke="#383838" stroke-width="0.16">shRNA-CT (n = 9)</text>
<circle cx="281.75" cy="302.00" r="1.00" fill="#2f9a3a" stroke="none" stroke-width="1"/>
<text x="286.00" y="304.30" font-size="6.6" text-anchor="start" fill="#383838" font-weight="normal" textLength="56.00" lengthAdjust="spacingAndGlyphs" stroke="#383838" stroke-width="0.16">Rpn10 shKD (n = 9)</text>
<line x1="270.20" y1="300.30" x2="270.20" y2="400.00" stroke="#333" stroke-width="1.2"/>
<line x1="269.70" y1="399.40" x2="363.00" y2="399.40" stroke="#333" stroke-width="1.2"/>
<line x1="267.20" y1="399.25" x2="270.20" y2="399.25" stroke="#333" stroke-width="0.9"/>
<text x="264.60" y="401.55" font-size="6.6" text-anchor="end" fill="#383838" font-weight="normal" stroke="#383838" stroke-width="0.16">0</text>
<line x1="267.20" y1="379.90" x2="270.20" y2="379.90" stroke="#333" stroke-width="0.9"/>
<text x="264.60" y="382.20" font-size="6.6" text-anchor="end" fill="#383838" font-weight="normal" stroke="#383838" stroke-width="0.16">500</text>
<line x1="267.20" y1="360.55" x2="270.20" y2="360.55" stroke="#333" stroke-width="0.9"/>
<text x="264.60" y="362.85" font-size="6.6" text-anchor="end" fill="#383838" font-weight="normal" stroke="#383838" stroke-width="0.16">1000</text>
<line x1="267.20" y1="341.20" x2="270.20" y2="341.20" stroke="#333" stroke-width="0.9"/>
<text x="264.60" y="343.50" font-size="6.6" text-anchor="end" fill="#383838" font-weight="normal" stroke="#383838" stroke-width="0.16">1500</text>
<line x1="267.20" y1="321.85" x2="270.20" y2="321.85" stroke="#333" stroke-width="0.9"/>
<text x="264.60" y="324.15" font-size="6.6" text-anchor="end" fill="#383838" font-weight="normal" stroke="#383838" stroke-width="0.16">2000</text>
<line x1="267.20" y1="302.50" x2="270.20" y2="302.50" stroke="#333" stroke-width="0.9"/>
<text x="264.60" y="304.80" font-size="6.6" text-anchor="end" fill="#383838" font-weight="normal" stroke="#383838" stroke-width="0.16">2500</text>
<line x1="279.50" y1="400.00" x2="279.50" y2="403.00" stroke="#333" stroke-width="0.9"/>
<text x="279.50" y="411.60" font-size="6.6" text-anchor="middle" fill="#383838" font-weight="normal" stroke="#383838" stroke-width="0.16">1</text>
<line x1="293.00" y1="400.00" x2="293.00" y2="403.00" stroke="#333" stroke-width="0.9"/>
<text x="293.00" y="411.60" font-size="6.6" text-anchor="middle" fill="#383838" font-weight="normal" stroke="#383838" stroke-width="0.16">10</text>
<line x1="306.75" y1="400.00" x2="306.75" y2="403.00" stroke="#333" stroke-width="0.9"/>
<text x="306.75" y="411.60" font-size="6.6" text-anchor="middle" fill="#383838" font-weight="normal" stroke="#383838" stroke-width="0.16">21</text>
<line x1="330.50" y1="400.00" x2="330.50" y2="403.00" stroke="#333" stroke-width="0.9"/>
<text x="330.50" y="411.60" font-size="6.6" text-anchor="middle" fill="#383838" font-weight="normal" stroke="#383838" stroke-width="0.16">1</text>
<line x1="344.25" y1="400.00" x2="344.25" y2="403.00" stroke="#333" stroke-width="0.9"/>
<text x="344.25" y="411.60" font-size="6.6" text-anchor="middle" fill="#383838" font-weight="normal" stroke="#383838" stroke-width="0.16">10</text>
<line x1="357.50" y1="400.00" x2="357.50" y2="403.00" stroke="#333" stroke-width="0.9"/>
<text x="357.50" y="411.60" font-size="6.6" text-anchor="middle" fill="#383838" font-weight="normal" stroke="#383838" stroke-width="0.16">21</text>
<text x="318.90" y="423.50" font-size="8.8" text-anchor="middle" fill="#383838" font-weight="normal" textLength="13.75" lengthAdjust="spacingAndGlyphs" stroke="#383838" stroke-width="0.16">Days</text>
<g transform="translate(244.40,349.10) rotate(-90)"><text x="0" y="0" font-size="8.4" text-anchor="middle" fill="#383838" stroke="#383838" stroke-width="0.16" textLength="65.8" lengthAdjust="spacingAndGlyphs">Tumor volume (mm<tspan font-size="5.21" dy="-3.19">3</tspan><tspan dy="3.19">)</tspan></text></g>
<circle cx="279.50" cy="391.36" r="1.20" fill="#8e1430" stroke="none" stroke-width="1"/>
<circle cx="278.00" cy="395.57" r="1.20" fill="#8e1430" stroke="none" stroke-width="1"/>
<circle cx="281.00" cy="395.57" r="1.20" fill="#8e1430" stroke="none" stroke-width="1"/>
<circle cx="276.50" cy="398.01" r="1.20" fill="#8e1430" stroke="none" stroke-width="1"/>
<circle cx="279.50" cy="398.01" r="1.20" fill="#8e1430" stroke="none" stroke-width="1"/>
<circle cx="282.50" cy="398.01" r="1.20" fill="#8e1430" stroke="none" stroke-width="1"/>
<circle cx="284.00" cy="398.28" r="1.20" fill="#8e1430" stroke="none" stroke-width="1"/>
<circle cx="277.20" cy="396.93" r="1.20" fill="#8e1430" stroke="none" stroke-width="1"/>
<circle cx="280.80" cy="396.93" r="1.20" fill="#8e1430" stroke="none" stroke-width="1"/>
<line x1="275.50" y1="397.12" x2="283.50" y2="397.12" stroke="#3a2a2a" stroke-width="0.8"/>
<circle cx="293.20" cy="376.03" r="1.20" fill="#8e1430" stroke="none" stroke-width="1"/>
<circle cx="293.20" cy="381.06" r="1.20" fill="#8e1430" stroke="none" stroke-width="1"/>
<circle cx="290.60" cy="391.20" r="1.20" fill="#8e1430" stroke="none" stroke-width="1"/>
<circle cx="295.90" cy="394.72" r="1.20" fill="#8e1430" stroke="none" stroke-width="1"/>
<circle cx="290.60" cy="396.23" r="1.20" fill="#8e1430" stroke="none" stroke-width="1"/>
<circle cx="293.20" cy="387.33" r="1.20" fill="#8e1430" stroke="none" stroke-width="1"/>
<circle cx="293.20" cy="358.23" r="1.20" fill="#8e1430" stroke="none" stroke-width="1"/>
<line x1="289.20" y1="387.33" x2="297.80" y2="387.33" stroke="#2a2a2a" stroke-width="1.0"/>
<circle cx="307.40" cy="316.82" r="1.20" fill="#8e1430" stroke="none" stroke-width="1"/>
<circle cx="304.50" cy="348.75" r="1.20" fill="#8e1430" stroke="none" stroke-width="1"/>
<circle cx="310.00" cy="348.75" r="1.20" fill="#8e1430" stroke="none" stroke-width="1"/>
<circle cx="306.75" cy="356.99" r="1.20" fill="#8e1430" stroke="none" stroke-width="1"/>
<circle cx="306.75" cy="362.49" r="1.20" fill="#8e1430" stroke="none" stroke-width="1"/>
<circle cx="309.80" cy="384.62" r="1.20" fill="#8e1430" stroke="none" stroke-width="1"/>
<circle cx="304.30" cy="388.49" r="1.20" fill="#8e1430" stroke="none" stroke-width="1"/>
<line x1="302.50" y1="356.99" x2="311.70" y2="356.99" stroke="#2a2a2a" stroke-width="1.0"/>
<circle cx="341.50" cy="396.93" r="0.90" fill="#2f9a3a" stroke="none" stroke-width="1"/>
<circle cx="344.20" cy="396.85" r="0.90" fill="#2f9a3a" stroke="none" stroke-width="1"/>
<circle cx="347.00" cy="397.01" r="0.90" fill="#2f9a3a" stroke="none" stroke-width="1"/>
<line x1="340.00" y1="396.93" x2="348.50" y2="396.93" stroke="#2f9a3a" stroke-width="0.9"/>
<circle cx="354.50" cy="389.77" r="0.90" fill="#2f9a3a" stroke="none" stroke-width="1"/>
<circle cx="357.50" cy="389.50" r="0.90" fill="#2f9a3a" stroke="none" stroke-width="1"/>
<circle cx="360.50" cy="389.27" r="0.90" fill="#2f9a3a" stroke="none" stroke-width="1"/>
<line x1="353.00" y1="389.57" x2="362.00" y2="389.57" stroke="#2f9a3a" stroke-width="0.9"/>
<radialGradient id="tg1" cx="50%" cy="50%" r="50%"><stop offset="0" stop-color="#a83020"/><stop offset="0.7" stop-color="#b64030"/><stop offset="1" stop-color="#cc7a6c"/></radialGradient>
<radialGradient id="tg2" cx="50%" cy="50%" r="50%"><stop offset="0" stop-color="#cc7040"/><stop offset="0.75" stop-color="#c87a4a"/><stop offset="1" stop-color="#e0b0a0"/></radialGradient>
<radialGradient id="tg3" cx="45%" cy="45%" r="55%"><stop offset="0" stop-color="#d82a2e"/><stop offset="0.6" stop-color="#cc3222"/><stop offset="1" stop-color="#d8702e"/></radialGradient>
<radialGradient id="tg4" cx="50%" cy="50%" r="50%"><stop offset="0" stop-color="#d8602a"/><stop offset="1" stop-color="#e09050"/></radialGradient>
<rect x="290.20" y="434.30" width="28.60" height="24.80" fill="#d2d2ca" stroke="none" stroke-width="1"/>
<rect x="290.20" y="453.60" width="28.60" height="5.50" fill="#8a8a84" stroke="none" stroke-width="1"/>
<line x1="290.20" y1="454.10" x2="318.80" y2="454.10" stroke="#3a3a38" stroke-width="1.0"/>
<rect x="292.00" y="455.50" width="2.20" height="2.40" fill="#3a3a38" stroke="none" stroke-width="1"/>
<rect x="295.90" y="455.50" width="2.20" height="2.40" fill="#3a3a38" stroke="none" stroke-width="1"/>
<rect x="299.80" y="455.50" width="2.20" height="2.40" fill="#3a3a38" stroke="none" stroke-width="1"/>
<rect x="303.70" y="455.50" width="2.20" height="2.40" fill="#3a3a38" stroke="none" stroke-width="1"/>
<rect x="307.60" y="455.50" width="2.20" height="2.40" fill="#3a3a38" stroke="none" stroke-width="1"/>
<rect x="311.50" y="455.50" width="2.20" height="2.40" fill="#3a3a38" stroke="none" stroke-width="1"/>
<rect x="315.40" y="455.50" width="2.20" height="2.40" fill="#3a3a38" stroke="none" stroke-width="1"/>
<path d="M294.0,441 C293.5,436.5 297,435.0 300.5,435.4 C304.5,436 306.8,440 306.6,444.5 C306.4,449.5 303.5,452.4 300,452.3 C296,452.1 293.8,448.5 294.0,441 Z" fill="url(#tg1)" filter="url(#blur03)"/>
<ellipse cx="314.3" cy="443.5" rx="2.7" ry="5.0" fill="url(#tg2)" filter="url(#blur03)"/>
<rect x="320.80" y="434.30" width="26.10" height="25.10" fill="#f6dcaa" stroke="none" stroke-width="1"/>
<rect x="320.80" y="452.60" width="26.10" height="6.80" fill="#e8c890" stroke="none" stroke-width="1"/>
<line x1="320.80" y1="453.20" x2="346.90" y2="453.20" stroke="#3a3020" stroke-width="1.0"/>
<rect x="322.50" y="455.30" width="1.80" height="2.40" fill="#4a3a22" stroke="none" stroke-width="1"/>
<rect x="326.50" y="455.30" width="1.80" height="2.40" fill="#4a3a22" stroke="none" stroke-width="1"/>
<rect x="330.50" y="455.30" width="1.80" height="2.40" fill="#4a3a22" stroke="none" stroke-width="1"/>
<rect x="334.50" y="455.30" width="1.80" height="2.40" fill="#4a3a22" stroke="none" stroke-width="1"/>
<rect x="338.50" y="455.30" width="1.80" height="2.40" fill="#4a3a22" stroke="none" stroke-width="1"/>
<rect x="342.50" y="455.30" width="1.80" height="2.40" fill="#4a3a22" stroke="none" stroke-width="1"/>
<circle cx="330.0" cy="444.3" r="6.5" fill="url(#tg3)" filter="url(#blur03)"/>
<ellipse cx="342.6" cy="444.6" rx="3.6" ry="3.5" fill="url(#tg4)" filter="url(#blur03)"/>
<text x="385.90" y="277.00" font-size="11.4" text-anchor="start" fill="#111" font-weight="bold">E</text>
<rect x="419.60" y="281.00" width="93.80" height="9.20" fill="#6c6c6c" stroke="none" stroke-width="1"/>
<text x="467.40" y="287.80" font-size="6.3" text-anchor="middle" fill="#fff" font-weight="bold" textLength="21.40" lengthAdjust="spacingAndGlyphs">MM.1S</text>
<circle cx="429.70" cy="296.00" r="1.00" fill="#8e1430" stroke="none" stroke-width="1"/>
<text x="433.00" y="298.30" font-size="6.6" text-anchor="start" fill="#383838" font-weight="normal" textLength="50.50" lengthAdjust="spacingAndGlyphs" stroke="#383838" stroke-width="0.16">shRNA-CT (n = 7)</text>
<circle cx="429.70" cy="303.20" r="1.00" fill="#2f9a3a" stroke="none" stroke-width="1"/>
<text x="433.00" y="305.50" font-size="6.6" text-anchor="start" fill="#383838" font-weight="normal" textLength="56.00" lengthAdjust="spacingAndGlyphs" stroke="#383838" stroke-width="0.16">Rpn10 shKD (n = 7)</text>
<line x1="418.40" y1="305.70" x2="418.40" y2="400.00" stroke="#333" stroke-width="1.2"/>
<line x1="417.90" y1="399.40" x2="511.00" y2="399.40" stroke="#333" stroke-width="1.2"/>
<line x1="415.40" y1="399.25" x2="418.40" y2="399.25" stroke="#333" stroke-width="0.9"/>
<text x="413.20" y="401.55" font-size="6.6" text-anchor="end" fill="#383838" font-weight="normal" stroke="#383838" stroke-width="0.16">0</text>
<line x1="415.40" y1="368.75" x2="418.40" y2="368.75" stroke="#333" stroke-width="0.9"/>
<text x="413.20" y="371.05" font-size="6.6" text-anchor="end" fill="#383838" font-weight="normal" stroke="#383838" stroke-width="0.16">500</text>
<line x1="415.40" y1="338.25" x2="418.40" y2="338.25" stroke="#333" stroke-width="0.9"/>
<text x="413.20" y="340.55" font-size="6.6" text-anchor="end" fill="#383838" font-weight="normal" stroke="#383838" stroke-width="0.16">1000</text>
<line x1="415.40" y1="307.75" x2="418.40" y2="307.75" stroke="#333" stroke-width="0.9"/>
<text x="413.20" y="310.05" font-size="6.6" text-anchor="end" fill="#383838" font-weight="normal" stroke="#383838" stroke-width="0.16">1500</text>
<line x1="427.50" y1="400.00" x2="427.50" y2="403.00" stroke="#333" stroke-width="0.9"/>
<text x="427.50" y="411.80" font-size="6.6" text-anchor="middle" fill="#383838" font-weight="normal" stroke="#383838" stroke-width="0.16">1</text>
<line x1="440.50" y1="400.00" x2="440.50" y2="403.00" stroke="#333" stroke-width="0.9"/>
<text x="440.50" y="411.80" font-size="6.6" text-anchor="middle" fill="#383838" font-weight="normal" stroke="#383838" stroke-width="0.16">7</text>
<line x1="453.75" y1="400.00" x2="453.75" y2="403.00" stroke="#333" stroke-width="0.9"/>
<text x="453.75" y="411.80" font-size="6.6" text-anchor="middle" fill="#383838" font-weight="normal" stroke="#383838" stroke-width="0.16">16</text>
<line x1="475.50" y1="400.00" x2="475.50" y2="403.00" stroke="#333" stroke-width="0.9"/>
<text x="475.50" y="411.80" font-size="6.6" text-anchor="middle" fill="#383838" font-weight="normal" stroke="#383838" stroke-width="0.16">1</text>
<line x1="488.00" y1="400.00" x2="488.00" y2="403.00" stroke="#333" stroke-width="0.9"/>
<text x="488.00" y="411.80" font-size="6.6" text-anchor="middle" fill="#383838" font-weight="normal" stroke="#383838" stroke-width="0.16">7</text>
<line x1="501.75" y1="400.00" x2="501.75" y2="403.00" stroke="#333" stroke-width="0.9"/>
<text x="501.75" y="411.80" font-size="6.6" text-anchor="middle" fill="#383838" font-weight="normal" stroke="#383838" stroke-width="0.16">16</text>
<text x="467.50" y="423.50" font-size="8.8" text-anchor="middle" fill="#383838" font-weight="normal" textLength="14.00" lengthAdjust="spacingAndGlyphs" stroke="#383838" stroke-width="0.16">Days</text>
<g transform="translate(393.00,351.40) rotate(-90)"><text x="0" y="0" font-size="7.8" text-anchor="middle" fill="#383838" stroke="#383838" stroke-width="0.16" textLength="65.2" lengthAdjust="spacingAndGlyphs">Tumor volume (mm<tspan font-size="4.84" dy="-2.96">3</tspan><tspan dy="2.96">)</tspan></text></g>
<circle cx="424.20" cy="394.90" r="1.20" fill="#8e1430" stroke="none" stroke-width="1"/>
<circle cx="426.20" cy="394.90" r="1.20" fill="#8e1430" stroke="none" stroke-width="1"/>
<circle cx="428.20" cy="394.90" r="1.20" fill="#8e1430" stroke="none" stroke-width="1"/>
<circle cx="430.20" cy="394.90" r="1.20" fill="#8e1430" stroke="none" stroke-width="1"/>
<circle cx="432.00" cy="394.90" r="1.20" fill="#8e1430" stroke="none" stroke-width="1"/>
<line x1="423.60" y1="394.90" x2="432.30" y2="394.90" stroke="#5a1a2a" stroke-width="0.8"/>
<circle cx="438.30" cy="382.50" r="1.20" fill="#8e1430" stroke="none" stroke-width="1"/>
<circle cx="441.80" cy="383.80" r="1.20" fill="#8e1430" stroke="none" stroke-width="1"/>
<circle cx="438.50" cy="388.10" r="1.20" fill="#8e1430" stroke="none" stroke-width="1"/>
<circle cx="441.80" cy="390.50" r="1.20" fill="#8e1430" stroke="none" stroke-width="1"/>
<circle cx="441.00" cy="394.40" r="1.20" fill="#8e1430" stroke="none" stroke-width="1"/>
<circle cx="443.50" cy="386.20" r="1.20" fill="#8e1430" stroke="none" stroke-width="1"/>
<line x1="436.30" y1="386.20" x2="445.30" y2="386.20" stroke="#2a2a2a" stroke-width="1.0"/>
<circle cx="451.00" cy="316.70" r="1.20" fill="#8e1430" stroke="none" stroke-width="1"/>
<circle cx="456.40" cy="320.20" r="1.20" fill="#8e1430" stroke="none" stroke-width="1"/>
<circle cx="453.90" cy="332.50" r="1.20" fill="#8e1430" stroke="none" stroke-width="1"/>
<circle cx="453.90" cy="351.60" r="1.20" fill="#8e1430" stroke="none" stroke-width="1"/>
<circle cx="453.90" cy="358.70" r="1.20" fill="#8e1430" stroke="none" stroke-width="1"/>
<circle cx="453.90" cy="369.00" r="1.20" fill="#8e1430" stroke="none" stroke-width="1"/>
<circle cx="453.90" cy="380.60" r="1.20" fill="#8e1430" stroke="none" stroke-width="1"/>
<line x1="449.40" y1="351.60" x2="459.00" y2="351.60" stroke="#2a2a2a" stroke-width="1.0"/>
<line x1="471.30" y1="397.70" x2="479.90" y2="397.70" stroke="#3a6a3a" stroke-width="1.0"/>
<circle cx="484.50" cy="395.50" r="0.90" fill="#2f9a3a" stroke="none" stroke-width="1"/>
<circle cx="487.00" cy="394.80" r="0.90" fill="#2f9a3a" stroke="none" stroke-width="1"/>
<circle cx="489.50" cy="395.50" r="0.90" fill="#2f9a3a" stroke="none" stroke-width="1"/>
<circle cx="491.50" cy="395.80" r="0.90" fill="#2f9a3a" stroke="none" stroke-width="1"/>
<circle cx="488.00" cy="397.80" r="0.90" fill="#2f9a3a" stroke="none" stroke-width="1"/>
<line x1="484.00" y1="395.50" x2="493.00" y2="395.50" stroke="#3a7a3a" stroke-width="0.9"/>
<circle cx="499.10" cy="380.60" r="0.90" fill="#2f9a3a" stroke="none" stroke-width="1"/>
<circle cx="502.00" cy="382.50" r="0.90" fill="#2f9a3a" stroke="none" stroke-width="1"/>
<circle cx="502.00" cy="388.75" r="0.90" fill="#2f9a3a" stroke="none" stroke-width="1"/>
<circle cx="499.00" cy="395.20" r="0.90" fill="#2f9a3a" stroke="none" stroke-width="1"/>
<circle cx="503.00" cy="395.20" r="0.90" fill="#2f9a3a" stroke="none" stroke-width="1"/>
<circle cx="506.00" cy="395.20" r="0.90" fill="#2f9a3a" stroke="none" stroke-width="1"/>
<line x1="497.20" y1="390.70" x2="506.30" y2="390.70" stroke="#3a7a3a" stroke-width="1.0"/>
<rect x="402.00" y="429.30" width="117.80" height="51.00" fill="#eaeaee" stroke="none" stroke-width="1"/>
<line x1="412.70" y1="462.00" x2="413.10" y2="479.80" stroke="#a89090" stroke-width="1.4"/>
<line x1="403.85" y1="468.00" x2="410.85" y2="462.00" stroke="#d89a9a" stroke-width="1.3"/>
<line x1="417.85" y1="462.00" x2="425.85" y2="467.00" stroke="#d89a9a" stroke-width="1.3"/>
<path d="M405.85,463.60 C402.85,451.60 406.85,437.60 412.85,435.60 C418.85,433.60 424.85,441.60 424.85,451.60 C424.85,461.60 420.85,468.60 414.85,468.60 C409.85,468.60 406.85,466.60 405.85,463.60 Z" fill="#f6f6f5" stroke="#d0d0d0" stroke-width="0.5" filter="url(#blur05)"/>
<ellipse cx="416.85" cy="441.60" rx="5.5" ry="4" fill="#cfcfcf" opacity="0.8" filter="url(#blur08)"/>
<ellipse cx="420.85" cy="457.60" rx="2.5" ry="6" fill="#e0e0e0" opacity="0.8" filter="url(#blur08)"/>
<ellipse cx="409.85" cy="449.60" rx="2.5" ry="5" fill="#dcdcdc" opacity="0.6" filter="url(#blur08)"/>
<path d="M408.85,438.60 q3,-4 6,-2 M416.85,436.60 q3,-3 6,0" stroke="#b4b4b4" stroke-width="0.8" fill="none"/>
<circle cx="417.30" cy="458.40" r="3.10" fill="#86c29e" filter="url(#blur03)"/>
<ellipse cx="410.40" cy="455.60" rx="2.60" ry="3.40" fill="#b08890" stroke="#24121a" stroke-width="1.4"/>
<line x1="432.30" y1="462.00" x2="432.70" y2="479.80" stroke="#5a5a66" stroke-width="1.4"/>
<line x1="420.25" y1="468.00" x2="427.25" y2="462.00" stroke="#d89a9a" stroke-width="1.3"/>
<line x1="434.25" y1="462.00" x2="442.25" y2="467.00" stroke="#d89a9a" stroke-width="1.3"/>
<path d="M422.25,460.70 C419.25,448.70 423.25,434.70 429.25,432.70 C435.25,430.70 441.25,438.70 441.25,448.70 C441.25,458.70 437.25,465.70 431.25,465.70 C426.25,465.70 423.25,463.70 422.25,460.70 Z" fill="#f6f6f5" stroke="#d0d0d0" stroke-width="0.5" filter="url(#blur05)"/>
<ellipse cx="433.25" cy="438.70" rx="5.5" ry="4" fill="#cfcfcf" opacity="0.8" filter="url(#blur08)"/>
<ellipse cx="437.25" cy="454.70" rx="2.5" ry="6" fill="#e0e0e0" opacity="0.8" filter="url(#blur08)"/>
<ellipse cx="426.25" cy="446.70" rx="2.5" ry="5" fill="#dcdcdc" opacity="0.6" filter="url(#blur08)"/>
<path d="M425.25,435.70 q3,-4 6,-2 M433.25,433.70 q3,-3 6,0" stroke="#b4b4b4" stroke-width="0.8" fill="none"/>
<circle cx="433.40" cy="453.80" r="3.00" fill="#86c29e" filter="url(#blur03)"/>
<ellipse cx="427.10" cy="452.70" rx="2.50" ry="3.20" fill="#b08890" stroke="#24121a" stroke-width="1.4"/>
<line x1="449.60" y1="462.00" x2="450.00" y2="479.80" stroke="#5a5a66" stroke-width="1.4"/>
<line x1="437.45" y1="468.00" x2="444.45" y2="462.00" stroke="#d89a9a" stroke-width="1.3"/>
<line x1="451.45" y1="462.00" x2="459.45" y2="467.00" stroke="#d89a9a" stroke-width="1.3"/>
<path d="M439.45,459.30 C436.45,447.30 440.45,433.30 446.45,431.30 C452.45,429.30 458.45,437.30 458.45,447.30 C458.45,457.30 454.45,464.30 448.45,464.30 C443.45,464.30 440.45,462.30 439.45,459.30 Z" fill="#f6f6f5" stroke="#d0d0d0" stroke-width="0.5" filter="url(#blur05)"/>
<ellipse cx="450.45" cy="437.30" rx="5.5" ry="4" fill="#cfcfcf" opacity="0.8" filter="url(#blur08)"/>
<ellipse cx="454.45" cy="453.30" rx="2.5" ry="6" fill="#e0e0e0" opacity="0.8" filter="url(#blur08)"/>
<ellipse cx="443.45" cy="445.30" rx="2.5" ry="5" fill="#dcdcdc" opacity="0.6" filter="url(#blur08)"/>
<path d="M442.45,434.30 q3,-4 6,-2 M450.45,432.30 q3,-3 6,0" stroke="#b4b4b4" stroke-width="0.8" fill="none"/>
<circle cx="451.30" cy="454.40" r="3.20" fill="#86c29e" filter="url(#blur03)"/>
<ellipse cx="443.60" cy="451.30" rx="3.10" ry="3.90" fill="#b08890" stroke="#24121a" stroke-width="1.4"/>
<line x1="467.50" y1="462.00" x2="467.90" y2="479.80" stroke="#5a5a66" stroke-width="1.4"/>
<line x1="456.85" y1="468.00" x2="463.85" y2="462.00" stroke="#d89a9a" stroke-width="1.3"/>
<line x1="470.85" y1="462.00" x2="478.85" y2="467.00" stroke="#d89a9a" stroke-width="1.3"/>
<path d="M458.85,459.90 C455.85,447.90 459.85,433.90 465.85,431.90 C471.85,429.90 477.85,437.90 477.85,447.90 C477.85,457.90 473.85,464.90 467.85,464.90 C462.85,464.90 459.85,462.90 458.85,459.90 Z" fill="#f6f6f5" stroke="#d0d0d0" stroke-width="0.5" filter="url(#blur05)"/>
<ellipse cx="469.85" cy="437.90" rx="5.5" ry="4" fill="#cfcfcf" opacity="0.8" filter="url(#blur08)"/>
<ellipse cx="473.85" cy="453.90" rx="2.5" ry="6" fill="#e0e0e0" opacity="0.8" filter="url(#blur08)"/>
<ellipse cx="462.85" cy="445.90" rx="2.5" ry="5" fill="#dcdcdc" opacity="0.6" filter="url(#blur08)"/>
<path d="M461.85,434.90 q3,-4 6,-2 M469.85,432.90 q3,-3 6,0" stroke="#b4b4b4" stroke-width="0.8" fill="none"/>
<circle cx="470.60" cy="454.40" r="3.10" fill="#86c29e" filter="url(#blur03)"/>
<ellipse cx="463.10" cy="451.90" rx="2.50" ry="3.40" fill="#b08890" stroke="#24121a" stroke-width="1.4"/>
<line x1="486.90" y1="462.00" x2="487.30" y2="479.80" stroke="#5a5a66" stroke-width="1.4"/>
<line x1="474.55" y1="468.00" x2="481.55" y2="462.00" stroke="#d89a9a" stroke-width="1.3"/>
<line x1="488.55" y1="462.00" x2="496.55" y2="467.00" stroke="#d89a9a" stroke-width="1.3"/>
<path d="M476.55,457.40 C473.55,445.40 477.55,431.40 483.55,429.40 C489.55,427.40 495.55,435.40 495.55,445.40 C495.55,455.40 491.55,462.40 485.55,462.40 C480.55,462.40 477.55,460.40 476.55,457.40 Z" fill="#f6f6f5" stroke="#d0d0d0" stroke-width="0.5" filter="url(#blur05)"/>
<ellipse cx="487.55" cy="435.40" rx="5.5" ry="4" fill="#cfcfcf" opacity="0.8" filter="url(#blur08)"/>
<ellipse cx="491.55" cy="451.40" rx="2.5" ry="6" fill="#e0e0e0" opacity="0.8" filter="url(#blur08)"/>
<ellipse cx="480.55" cy="443.40" rx="2.5" ry="5" fill="#dcdcdc" opacity="0.6" filter="url(#blur08)"/>
<path d="M479.55,432.40 q3,-4 6,-2 M487.55,430.40 q3,-3 6,0" stroke="#b4b4b4" stroke-width="0.8" fill="none"/>
<circle cx="488.50" cy="453.10" r="3.20" fill="#86c29e" filter="url(#blur03)"/>
<ellipse cx="480.60" cy="449.40" rx="3.30" ry="4.10" fill="#b08890" stroke="#24121a" stroke-width="1.4"/>
<line x1="508.10" y1="462.00" x2="508.50" y2="479.80" stroke="#5a5a66" stroke-width="1.4"/>
<line x1="495.93" y1="468.00" x2="502.93" y2="462.00" stroke="#d89a9a" stroke-width="1.3"/>
<line x1="509.93" y1="462.00" x2="517.92" y2="467.00" stroke="#d89a9a" stroke-width="1.3"/>
<path d="M497.93,456.10 C494.93,444.10 498.93,430.10 504.93,428.10 C510.93,426.10 516.92,434.10 516.92,444.10 C516.92,454.10 512.92,461.10 506.93,461.10 C501.93,461.10 498.93,459.10 497.93,456.10 Z" fill="#f6f6f5" stroke="#d0d0d0" stroke-width="0.5" filter="url(#blur05)"/>
<ellipse cx="508.93" cy="434.10" rx="5.5" ry="4" fill="#cfcfcf" opacity="0.8" filter="url(#blur08)"/>
<ellipse cx="512.92" cy="450.10" rx="2.5" ry="6" fill="#e0e0e0" opacity="0.8" filter="url(#blur08)"/>
<ellipse cx="501.93" cy="442.10" rx="2.5" ry="5" fill="#dcdcdc" opacity="0.6" filter="url(#blur08)"/>
<path d="M500.93,431.10 q3,-4 6,-2 M508.93,429.10 q3,-3 6,0" stroke="#b4b4b4" stroke-width="0.8" fill="none"/>
<circle cx="510.60" cy="450.60" r="3.50" fill="#86c29e" filter="url(#blur03)"/>
<ellipse cx="501.25" cy="448.10" rx="3.40" ry="4.30" fill="#b08890" stroke="#24121a" stroke-width="1.4"/>
<text x="63.10" y="505.10" font-size="11.4" text-anchor="start" fill="#111" font-weight="bold">F</text>
<rect x="98.75" y="513.70" width="129.25" height="8.60" fill="#6c6c6c" stroke="none" stroke-width="1"/>
<text x="163.85" y="519.90" font-size="6.3" text-anchor="middle" fill="#fff" font-weight="bold" textLength="21.90" lengthAdjust="spacingAndGlyphs">MM.1S</text>
<text x="130.30" y="529.60" font-size="6.6" text-anchor="middle" fill="#333" font-weight="normal" textLength="42.00" lengthAdjust="spacingAndGlyphs" stroke="#333" stroke-width="0.16">Tumor lysates</text>
<line x1="108.00" y1="530.90" x2="153.00" y2="530.90" stroke="#333" stroke-width="0.6"/>
<text x="118.40" y="538.60" font-size="6.6" text-anchor="middle" fill="#333" font-weight="normal" textLength="21.00" lengthAdjust="spacingAndGlyphs" stroke="#333" stroke-width="0.16">Control</text>
<text x="146.00" y="538.60" font-size="6.6" text-anchor="middle" fill="#333" font-weight="normal" textLength="25.30" lengthAdjust="spacingAndGlyphs" stroke="#333" stroke-width="0.16">Rpn10-KD</text>
<line x1="107.50" y1="540.20" x2="130.50" y2="540.20" stroke="#333" stroke-width="0.6"/>
<line x1="132.50" y1="540.20" x2="162.50" y2="540.20" stroke="#333" stroke-width="0.6"/>
<rect x="107.30" y="541.60" width="45.60" height="9.50" fill="#f7f7f7" stroke="#333" stroke-width="0.75"/>
<rect x="107.30" y="553.50" width="45.60" height="7.50" fill="#f7f7f7" stroke="#333" stroke-width="0.75"/>
<rect x="109.70" y="545.10" width="9.60" height="2.80" rx="1.40" fill="#1e1e1e" filter="url(#blur06)"/>
<rect x="119.80" y="545.10" width="9.60" height="2.80" rx="1.40" fill="#222" filter="url(#blur06)"/>
<rect x="131.30" y="545.10" width="9.60" height="2.80" rx="1.40" fill="#707070" filter="url(#blur06)"/>
<rect x="142.00" y="545.10" width="9.60" height="2.80" rx="1.40" fill="#666" filter="url(#blur06)"/>
<rect x="109.70" y="555.90" width="9.60" height="2.40" rx="1.20" fill="#3a3a3a" filter="url(#blur06)"/>
<rect x="119.80" y="555.90" width="9.60" height="2.40" rx="1.20" fill="#444" filter="url(#blur06)"/>
<rect x="131.30" y="555.90" width="9.60" height="2.40" rx="1.20" fill="#444" filter="url(#blur06)"/>
<rect x="142.00" y="555.90" width="9.60" height="2.40" rx="1.20" fill="#4a4a4a" filter="url(#blur06)"/>
<text x="154.60" y="549.30" font-size="6.6" text-anchor="start" fill="#333" font-weight="normal" textLength="19.00" lengthAdjust="spacingAndGlyphs" stroke="#333" stroke-width="0.16">Rpn10</text>
<text x="154.60" y="559.00" font-size="6.6" text-anchor="start" fill="#333" font-weight="normal" textLength="19.50" lengthAdjust="spacingAndGlyphs" stroke="#333" stroke-width="0.16">β-actin</text>
<text x="194.60" y="537.20" font-size="6.6" text-anchor="start" fill="#333" font-weight="normal" textLength="27.40" lengthAdjust="spacingAndGlyphs" stroke="#333" stroke-width="0.16">P &lt; .0001</text>
<line x1="94.60" y1="532.50" x2="94.60" y2="618.00" stroke="#333" stroke-width="1.2"/>
<line x1="94.10" y1="617.50" x2="222.70" y2="617.50" stroke="#333" stroke-width="1.2"/>
<line x1="91.60" y1="616.80" x2="94.60" y2="616.80" stroke="#333" stroke-width="0.9"/>
<text x="89.80" y="619.10" font-size="6.6" text-anchor="end" fill="#383838" font-weight="normal" stroke="#383838" stroke-width="0.16">0</text>
<line x1="91.60" y1="600.35" x2="94.60" y2="600.35" stroke="#333" stroke-width="0.9"/>
<text x="89.80" y="602.65" font-size="6.6" text-anchor="end" fill="#383838" font-weight="normal" stroke="#383838" stroke-width="0.16">500</text>
<line x1="91.60" y1="583.90" x2="94.60" y2="583.90" stroke="#333" stroke-width="0.9"/>
<text x="89.80" y="586.20" font-size="6.6" text-anchor="end" fill="#383838" font-weight="normal" stroke="#383838" stroke-width="0.16">1000</text>
<line x1="91.60" y1="567.45" x2="94.60" y2="567.45" stroke="#333" stroke-width="0.9"/>
<text x="89.80" y="569.75" font-size="6.6" text-anchor="end" fill="#383838" font-weight="normal" stroke="#383838" stroke-width="0.16">1500</text>
<line x1="91.60" y1="551.00" x2="94.60" y2="551.00" stroke="#333" stroke-width="0.9"/>
<text x="89.80" y="553.30" font-size="6.6" text-anchor="end" fill="#383838" font-weight="normal" stroke="#383838" stroke-width="0.16">2000</text>
<line x1="91.60" y1="534.55" x2="94.60" y2="534.55" stroke="#333" stroke-width="0.9"/>
<text x="89.80" y="536.85" font-size="6.6" text-anchor="end" fill="#383838" font-weight="normal" stroke="#383838" stroke-width="0.16">2500</text>
<line x1="101.50" y1="617.50" x2="101.50" y2="620.50" stroke="#333" stroke-width="0.9"/>
<text x="101.50" y="629.60" font-size="6.6" text-anchor="middle" fill="#383838" font-weight="normal" stroke="#383838" stroke-width="0.16">1</text>
<line x1="119.70" y1="617.50" x2="119.70" y2="620.50" stroke="#333" stroke-width="0.9"/>
<text x="119.70" y="629.60" font-size="6.6" text-anchor="middle" fill="#383838" font-weight="normal" stroke="#383838" stroke-width="0.16">6</text>
<line x1="137.90" y1="617.50" x2="137.90" y2="620.50" stroke="#333" stroke-width="0.9"/>
<text x="137.90" y="629.60" font-size="6.6" text-anchor="middle" fill="#383838" font-weight="normal" stroke="#383838" stroke-width="0.16">8</text>
<line x1="156.10" y1="617.50" x2="156.10" y2="620.50" stroke="#333" stroke-width="0.9"/>
<text x="156.10" y="629.60" font-size="6.6" text-anchor="middle" fill="#383838" font-weight="normal" stroke="#383838" stroke-width="0.16">12</text>
<line x1="174.30" y1="617.50" x2="174.30" y2="620.50" stroke="#333" stroke-width="0.9"/>
<text x="174.30" y="629.60" font-size="6.6" text-anchor="middle" fill="#383838" font-weight="normal" stroke="#383838" stroke-width="0.16">14</text>
<line x1="192.50" y1="617.50" x2="192.50" y2="620.50" stroke="#333" stroke-width="0.9"/>
<text x="192.50" y="629.60" font-size="6.6" text-anchor="middle" fill="#383838" font-weight="normal" stroke="#383838" stroke-width="0.16">16</text>
<line x1="210.70" y1="617.50" x2="210.70" y2="620.50" stroke="#333" stroke-width="0.9"/>
<text x="210.70" y="629.60" font-size="6.6" text-anchor="middle" fill="#383838" font-weight="normal" stroke="#383838" stroke-width="0.16">20</text>
<text x="160.75" y="640.75" font-size="8.6" text-anchor="middle" fill="#383838" font-weight="normal" textLength="13.50" lengthAdjust="spacingAndGlyphs" stroke="#383838" stroke-width="0.16">Days</text>
<g transform="translate(69.70,574.20) rotate(-90)"><text x="0" y="0" font-size="7.8" text-anchor="middle" fill="#383838" stroke="#383838" stroke-width="0.16" textLength="64.6" lengthAdjust="spacingAndGlyphs">Tumor volume (mm<tspan font-size="4.84" dy="-2.96">3</tspan><tspan dy="2.96">)</tspan></text></g>
<line x1="101.50" y1="616.47" x2="101.50" y2="617.13" stroke="#3aa83a" stroke-width="0.7"/>
<line x1="99.90" y1="616.47" x2="103.10" y2="616.47" stroke="#3aa83a" stroke-width="0.7"/>
<line x1="99.90" y1="617.13" x2="103.10" y2="617.13" stroke="#3aa83a" stroke-width="0.7"/>
<line x1="110.60" y1="615.81" x2="110.60" y2="617.13" stroke="#3aa83a" stroke-width="0.7"/>
<line x1="109.00" y1="615.81" x2="112.20" y2="615.81" stroke="#3aa83a" stroke-width="0.7"/>
<line x1="109.00" y1="617.13" x2="112.20" y2="617.13" stroke="#3aa83a" stroke-width="0.7"/>
<line x1="119.70" y1="611.40" x2="119.70" y2="616.01" stroke="#3aa83a" stroke-width="0.7"/>
<line x1="118.10" y1="611.40" x2="121.30" y2="611.40" stroke="#3aa83a" stroke-width="0.7"/>
<line x1="118.10" y1="616.01" x2="121.30" y2="616.01" stroke="#3aa83a" stroke-width="0.7"/>
<line x1="128.80" y1="609.40" x2="128.80" y2="615.98" stroke="#3aa83a" stroke-width="0.7"/>
<line x1="127.20" y1="609.40" x2="130.40" y2="609.40" stroke="#3aa83a" stroke-width="0.7"/>
<line x1="127.20" y1="615.98" x2="130.40" y2="615.98" stroke="#3aa83a" stroke-width="0.7"/>
<line x1="137.90" y1="608.38" x2="137.90" y2="615.62" stroke="#3aa83a" stroke-width="0.7"/>
<line x1="136.30" y1="608.38" x2="139.50" y2="608.38" stroke="#3aa83a" stroke-width="0.7"/>
<line x1="136.30" y1="615.62" x2="139.50" y2="615.62" stroke="#3aa83a" stroke-width="0.7"/>
<line x1="147.00" y1="602.95" x2="147.00" y2="613.48" stroke="#3aa83a" stroke-width="0.7"/>
<line x1="145.40" y1="602.95" x2="148.60" y2="602.95" stroke="#3aa83a" stroke-width="0.7"/>
<line x1="145.40" y1="613.48" x2="148.60" y2="613.48" stroke="#3aa83a" stroke-width="0.7"/>
<line x1="156.10" y1="602.59" x2="156.10" y2="614.43" stroke="#3aa83a" stroke-width="0.7"/>
<line x1="154.50" y1="602.59" x2="157.70" y2="602.59" stroke="#3aa83a" stroke-width="0.7"/>
<line x1="154.50" y1="614.43" x2="157.70" y2="614.43" stroke="#3aa83a" stroke-width="0.7"/>
<line x1="165.20" y1="599.92" x2="165.20" y2="613.08" stroke="#3aa83a" stroke-width="0.7"/>
<line x1="163.60" y1="599.92" x2="166.80" y2="599.92" stroke="#3aa83a" stroke-width="0.7"/>
<line x1="163.60" y1="613.08" x2="166.80" y2="613.08" stroke="#3aa83a" stroke-width="0.7"/>
<line x1="174.30" y1="597.49" x2="174.30" y2="611.96" stroke="#3aa83a" stroke-width="0.7"/>
<line x1="172.70" y1="597.49" x2="175.90" y2="597.49" stroke="#3aa83a" stroke-width="0.7"/>
<line x1="172.70" y1="611.96" x2="175.90" y2="611.96" stroke="#3aa83a" stroke-width="0.7"/>
<line x1="183.40" y1="594.76" x2="183.40" y2="611.86" stroke="#3aa83a" stroke-width="0.7"/>
<line x1="181.80" y1="594.76" x2="185.00" y2="594.76" stroke="#3aa83a" stroke-width="0.7"/>
<line x1="181.80" y1="611.86" x2="185.00" y2="611.86" stroke="#3aa83a" stroke-width="0.7"/>
<line x1="192.50" y1="594.76" x2="192.50" y2="611.86" stroke="#3aa83a" stroke-width="0.7"/>
<line x1="190.90" y1="594.76" x2="194.10" y2="594.76" stroke="#3aa83a" stroke-width="0.7"/>
<line x1="190.90" y1="611.86" x2="194.10" y2="611.86" stroke="#3aa83a" stroke-width="0.7"/>
<line x1="201.60" y1="581.53" x2="201.60" y2="607.85" stroke="#3aa83a" stroke-width="0.7"/>
<line x1="200.00" y1="581.53" x2="203.20" y2="581.53" stroke="#3aa83a" stroke-width="0.7"/>
<line x1="200.00" y1="607.85" x2="203.20" y2="607.85" stroke="#3aa83a" stroke-width="0.7"/>
<line x1="210.70" y1="581.86" x2="210.70" y2="610.15" stroke="#3aa83a" stroke-width="0.7"/>
<line x1="209.10" y1="581.86" x2="212.30" y2="581.86" stroke="#3aa83a" stroke-width="0.7"/>
<line x1="209.10" y1="610.15" x2="212.30" y2="610.15" stroke="#3aa83a" stroke-width="0.7"/>
<line x1="219.80" y1="579.79" x2="219.80" y2="607.42" stroke="#3aa83a" stroke-width="0.7"/>
<line x1="218.20" y1="579.79" x2="221.40" y2="579.79" stroke="#3aa83a" stroke-width="0.7"/>
<line x1="218.20" y1="607.42" x2="221.40" y2="607.42" stroke="#3aa83a" stroke-width="0.7"/>
<polyline points="101.50,616.80 110.60,616.47 119.70,613.71 128.80,612.69 137.90,612.00 147.00,608.21 156.10,608.51 165.20,606.50 174.30,604.73 183.40,603.31 192.50,603.31 201.60,594.69 210.70,596.01 219.80,593.61" fill="none" stroke="#3aa83a" stroke-width="1.3"/>
<circle cx="101.50" cy="616.80" r="1.50" fill="#3aa83a" stroke="none" stroke-width="1"/>
<circle cx="110.60" cy="616.47" r="1.50" fill="#3aa83a" stroke="none" stroke-width="1"/>
<circle cx="119.70" cy="613.71" r="1.50" fill="#3aa83a" stroke="none" stroke-width="1"/>
<circle cx="128.80" cy="612.69" r="1.50" fill="#3aa83a" stroke="none" stroke-width="1"/>
<circle cx="137.90" cy="612.00" r="1.50" fill="#3aa83a" stroke="none" stroke-width="1"/>
<circle cx="147.00" cy="608.21" r="1.50" fill="#3aa83a" stroke="none" stroke-width="1"/>
<circle cx="156.10" cy="608.51" r="1.50" fill="#3aa83a" stroke="none" stroke-width="1"/>
<circle cx="165.20" cy="606.50" r="1.50" fill="#3aa83a" stroke="none" stroke-width="1"/>
<circle cx="174.30" cy="604.73" r="1.50" fill="#3aa83a" stroke="none" stroke-width="1"/>
<circle cx="183.40" cy="603.31" r="1.50" fill="#3aa83a" stroke="none" stroke-width="1"/>
<circle cx="192.50" cy="603.31" r="1.50" fill="#3aa83a" stroke="none" stroke-width="1"/>
<circle cx="201.60" cy="594.69" r="1.50" fill="#3aa83a" stroke="none" stroke-width="1"/>
<circle cx="210.70" cy="596.01" r="1.50" fill="#3aa83a" stroke="none" stroke-width="1"/>
<circle cx="219.80" cy="593.61" r="1.50" fill="#3aa83a" stroke="none" stroke-width="1"/>
<line x1="101.50" y1="615.48" x2="101.50" y2="616.80" stroke="#b5123a" stroke-width="0.7"/>
<line x1="99.90" y1="615.48" x2="103.10" y2="615.48" stroke="#b5123a" stroke-width="0.7"/>
<line x1="99.90" y1="616.80" x2="103.10" y2="616.80" stroke="#b5123a" stroke-width="0.7"/>
<line x1="110.60" y1="614.50" x2="110.60" y2="616.47" stroke="#b5123a" stroke-width="0.7"/>
<line x1="109.00" y1="614.50" x2="112.20" y2="614.50" stroke="#b5123a" stroke-width="0.7"/>
<line x1="109.00" y1="616.47" x2="112.20" y2="616.47" stroke="#b5123a" stroke-width="0.7"/>
<line x1="119.70" y1="606.27" x2="119.70" y2="612.19" stroke="#b5123a" stroke-width="0.7"/>
<line x1="118.10" y1="606.27" x2="121.30" y2="606.27" stroke="#b5123a" stroke-width="0.7"/>
<line x1="118.10" y1="612.19" x2="121.30" y2="612.19" stroke="#b5123a" stroke-width="0.7"/>
<line x1="128.80" y1="601.01" x2="128.80" y2="608.90" stroke="#b5123a" stroke-width="0.7"/>
<line x1="127.20" y1="601.01" x2="130.40" y2="601.01" stroke="#b5123a" stroke-width="0.7"/>
<line x1="127.20" y1="608.90" x2="130.40" y2="608.90" stroke="#b5123a" stroke-width="0.7"/>
<line x1="137.90" y1="598.38" x2="137.90" y2="608.25" stroke="#b5123a" stroke-width="0.7"/>
<line x1="136.30" y1="598.38" x2="139.50" y2="598.38" stroke="#b5123a" stroke-width="0.7"/>
<line x1="136.30" y1="608.25" x2="139.50" y2="608.25" stroke="#b5123a" stroke-width="0.7"/>
<line x1="147.00" y1="597.06" x2="147.00" y2="607.59" stroke="#b5123a" stroke-width="0.7"/>
<line x1="145.40" y1="597.06" x2="148.60" y2="597.06" stroke="#b5123a" stroke-width="0.7"/>
<line x1="145.40" y1="607.59" x2="148.60" y2="607.59" stroke="#b5123a" stroke-width="0.7"/>
<line x1="156.10" y1="581.04" x2="156.10" y2="602.75" stroke="#b5123a" stroke-width="0.7"/>
<line x1="154.50" y1="581.04" x2="157.70" y2="581.04" stroke="#b5123a" stroke-width="0.7"/>
<line x1="154.50" y1="602.75" x2="157.70" y2="602.75" stroke="#b5123a" stroke-width="0.7"/>
<line x1="165.20" y1="574.85" x2="165.20" y2="598.54" stroke="#b5123a" stroke-width="0.7"/>
<line x1="163.60" y1="574.85" x2="166.80" y2="574.85" stroke="#b5123a" stroke-width="0.7"/>
<line x1="163.60" y1="598.54" x2="166.80" y2="598.54" stroke="#b5123a" stroke-width="0.7"/>
<line x1="174.30" y1="570.84" x2="174.30" y2="597.16" stroke="#b5123a" stroke-width="0.7"/>
<line x1="172.70" y1="570.84" x2="175.90" y2="570.84" stroke="#b5123a" stroke-width="0.7"/>
<line x1="172.70" y1="597.16" x2="175.90" y2="597.16" stroke="#b5123a" stroke-width="0.7"/>
<line x1="183.40" y1="570.15" x2="183.40" y2="596.47" stroke="#b5123a" stroke-width="0.7"/>
<line x1="181.80" y1="570.15" x2="185.00" y2="570.15" stroke="#b5123a" stroke-width="0.7"/>
<line x1="181.80" y1="596.47" x2="185.00" y2="596.47" stroke="#b5123a" stroke-width="0.7"/>
<line x1="192.50" y1="569.26" x2="192.50" y2="589.00" stroke="#b5123a" stroke-width="0.7"/>
<line x1="190.90" y1="569.26" x2="194.10" y2="569.26" stroke="#b5123a" stroke-width="0.7"/>
<line x1="190.90" y1="589.00" x2="194.10" y2="589.00" stroke="#b5123a" stroke-width="0.7"/>
<line x1="201.60" y1="553.90" x2="201.60" y2="581.53" stroke="#b5123a" stroke-width="0.7"/>
<line x1="200.00" y1="553.90" x2="203.20" y2="553.90" stroke="#b5123a" stroke-width="0.7"/>
<line x1="200.00" y1="581.53" x2="203.20" y2="581.53" stroke="#b5123a" stroke-width="0.7"/>
<line x1="210.70" y1="553.90" x2="210.70" y2="581.53" stroke="#b5123a" stroke-width="0.7"/>
<line x1="209.10" y1="553.90" x2="212.30" y2="553.90" stroke="#b5123a" stroke-width="0.7"/>
<line x1="209.10" y1="581.53" x2="212.30" y2="581.53" stroke="#b5123a" stroke-width="0.7"/>
<line x1="219.80" y1="544.19" x2="219.80" y2="571.83" stroke="#b5123a" stroke-width="0.7"/>
<line x1="218.20" y1="544.19" x2="221.40" y2="544.19" stroke="#b5123a" stroke-width="0.7"/>
<line x1="218.20" y1="571.83" x2="221.40" y2="571.83" stroke="#b5123a" stroke-width="0.7"/>
<polyline points="101.50,616.14 110.60,615.48 119.70,609.23 128.80,604.96 137.90,603.31 147.00,602.32 156.10,591.89 165.20,586.70 174.30,584.00 183.40,583.31 192.50,579.13 201.60,567.71 210.70,567.71 219.80,558.01" fill="none" stroke="#b5123a" stroke-width="1.3"/>
<rect x="99.80" y="614.44" width="3.40" height="3.40" fill="#b5123a" stroke="none" stroke-width="1"/>
<rect x="108.90" y="613.78" width="3.40" height="3.40" fill="#b5123a" stroke="none" stroke-width="1"/>
<rect x="118.00" y="607.53" width="3.40" height="3.40" fill="#b5123a" stroke="none" stroke-width="1"/>
<rect x="127.10" y="603.26" width="3.40" height="3.40" fill="#b5123a" stroke="none" stroke-width="1"/>
<rect x="136.20" y="601.61" width="3.40" height="3.40" fill="#b5123a" stroke="none" stroke-width="1"/>
<rect x="145.30" y="600.62" width="3.40" height="3.40" fill="#b5123a" stroke="none" stroke-width="1"/>
<rect x="154.40" y="590.19" width="3.40" height="3.40" fill="#b5123a" stroke="none" stroke-width="1"/>
<rect x="163.50" y="585.00" width="3.40" height="3.40" fill="#b5123a" stroke="none" stroke-width="1"/>
<rect x="172.60" y="582.30" width="3.40" height="3.40" fill="#b5123a" stroke="none" stroke-width="1"/>
<rect x="181.70" y="581.61" width="3.40" height="3.40" fill="#b5123a" stroke="none" stroke-width="1"/>
<rect x="190.80" y="577.43" width="3.40" height="3.40" fill="#b5123a" stroke="none" stroke-width="1"/>
<rect x="199.90" y="566.01" width="3.40" height="3.40" fill="#b5123a" stroke="none" stroke-width="1"/>
<rect x="209.00" y="566.01" width="3.40" height="3.40" fill="#b5123a" stroke="none" stroke-width="1"/>
<rect x="218.10" y="556.31" width="3.40" height="3.40" fill="#b5123a" stroke="none" stroke-width="1"/>
<text x="223.70" y="558.60" font-size="6.6" text-anchor="start" fill="#333" font-weight="normal" textLength="30.00" lengthAdjust="spacingAndGlyphs" stroke="#333" stroke-width="0.16">shRNA-CT</text>
<text x="223.70" y="595.90" font-size="6.6" text-anchor="start" fill="#333" font-weight="normal" textLength="35.00" lengthAdjust="spacingAndGlyphs" stroke="#333" stroke-width="0.16">Rpn10 shKD</text>
<line x1="305.40" y1="541.00" x2="305.40" y2="603.30" stroke="#333" stroke-width="1.1"/>
<line x1="304.90" y1="602.80" x2="425.70" y2="602.80" stroke="#333" stroke-width="1.1"/>
<line x1="302.40" y1="602.80" x2="305.40" y2="602.80" stroke="#333" stroke-width="0.9"/>
<text x="299.80" y="605.10" font-size="6.6" text-anchor="end" fill="#383838" font-weight="normal" stroke="#383838" stroke-width="0.16">0</text>
<line x1="302.40" y1="572.65" x2="305.40" y2="572.65" stroke="#333" stroke-width="0.9"/>
<text x="299.80" y="574.95" font-size="6.6" text-anchor="end" fill="#383838" font-weight="normal" stroke="#383838" stroke-width="0.16">50</text>
<line x1="302.40" y1="542.50" x2="305.40" y2="542.50" stroke="#333" stroke-width="0.9"/>
<text x="299.80" y="544.80" font-size="6.6" text-anchor="end" fill="#383838" font-weight="normal" stroke="#383838" stroke-width="0.16">100</text>
<line x1="305.40" y1="602.80" x2="305.40" y2="605.80" stroke="#333" stroke-width="0.9"/>
<text x="305.40" y="614.40" font-size="6.6" text-anchor="middle" fill="#383838" font-weight="normal" stroke="#383838" stroke-width="0.16">0</text>
<line x1="338.60" y1="602.80" x2="338.60" y2="605.80" stroke="#333" stroke-width="0.9"/>
<text x="338.60" y="614.40" font-size="6.6" text-anchor="middle" fill="#383838" font-weight="normal" stroke="#383838" stroke-width="0.16">10</text>
<line x1="371.80" y1="602.80" x2="371.80" y2="605.80" stroke="#333" stroke-width="0.9"/>
<text x="371.80" y="614.40" font-size="6.6" text-anchor="middle" fill="#383838" font-weight="normal" stroke="#383838" stroke-width="0.16">20</text>
<line x1="405.00" y1="602.80" x2="405.00" y2="605.80" stroke="#333" stroke-width="0.9"/>
<text x="405.00" y="614.40" font-size="6.6" text-anchor="middle" fill="#383838" font-weight="normal" stroke="#383838" stroke-width="0.16">30</text>
<text x="365.15" y="626.50" font-size="8.8" text-anchor="middle" fill="#383838" font-weight="normal" textLength="14.10" lengthAdjust="spacingAndGlyphs" stroke="#383838" stroke-width="0.16">Time</text>
<g transform="translate(282.70,572.90) rotate(-90)"><text x="0" y="0" font-size="8.6" text-anchor="middle" fill="#383838" stroke="#383838" stroke-width="0.16" textLength="64.7" lengthAdjust="spacingAndGlyphs">Probability of survival</text></g>
<polyline points="305.40,542.50 401.68,542.50 401.68,562.58 421.60,562.58" fill="none" stroke="#52ac52" stroke-width="1.3"/>
<polyline points="305.40,542.50 375.12,542.50 375.12,572.65 382.76,572.65 382.76,587.72 401.68,587.72 401.68,602.80" fill="none" stroke="#b82048" stroke-width="1.4"/>
<line x1="375.62" y1="541.20" x2="375.62" y2="543.80" stroke="#b8103a" stroke-width="0.6"/>
<line x1="381.76" y1="541.20" x2="381.76" y2="543.80" stroke="#4aa84a" stroke-width="0.6"/>
<text x="313.20" y="540.90" font-size="6.6" text-anchor="start" fill="#333" font-weight="normal" textLength="20.20" lengthAdjust="spacingAndGlyphs" stroke="#333" stroke-width="0.16"><tspan font-style="italic">P</tspan> &lt; .05</text>
<text x="424.20" y="563.80" font-size="6.6" text-anchor="start" fill="#333" font-weight="normal" textLength="35.00" lengthAdjust="spacingAndGlyphs" stroke="#333" stroke-width="0.16">Rpn10 shKD</text>
<text x="406.00" y="595.80" font-size="6.6" text-anchor="start" fill="#333" font-weight="normal" textLength="30.00" lengthAdjust="spacingAndGlyphs" stroke="#333" stroke-width="0.16">shRNA-CT</text>
</svg></body></html>
